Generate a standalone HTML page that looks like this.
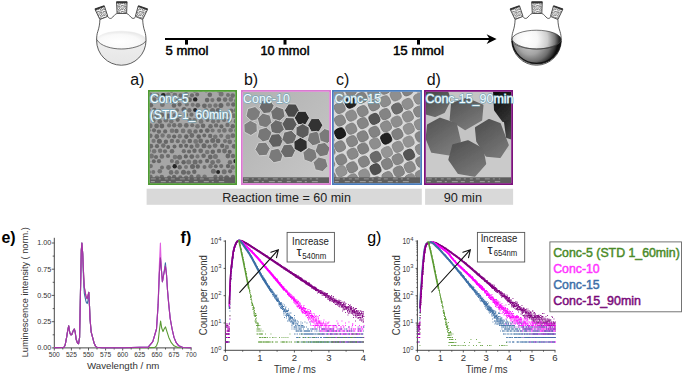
<!DOCTYPE html><html><head><meta charset="utf-8"><style>html,body{margin:0;padding:0;background:#fff;overflow:hidden}svg{display:block;font-family:"Liberation Sans", sans-serif}</style></head><body>
<svg width="685" height="376" viewBox="0 0 685 376">
<defs>
<pattern id="jt" width="6" height="6" patternUnits="userSpaceOnUse"><rect x='0' y='0' width='1' height='1' fill='#c4c4c4'/><rect x='1' y='0' width='1' height='1' fill='#aaaaaa'/><rect x='2' y='0' width='1' height='1' fill='#e8e8e8'/><rect x='3' y='0' width='1' height='1' fill='#b8b8b8'/><rect x='4' y='0' width='1' height='1' fill='#999999'/><rect x='5' y='0' width='1' height='1' fill='#888888'/><rect x='0' y='1' width='1' height='1' fill='#b8b8b8'/><rect x='1' y='1' width='1' height='1' fill='#d8d8d8'/><rect x='2' y='1' width='1' height='1' fill='#c4c4c4'/><rect x='3' y='1' width='1' height='1' fill='#c4c4c4'/><rect x='4' y='1' width='1' height='1' fill='#b8b8b8'/><rect x='5' y='1' width='1' height='1' fill='#b8b8b8'/><rect x='0' y='2' width='1' height='1' fill='#f0f0f0'/><rect x='1' y='2' width='1' height='1' fill='#aaaaaa'/><rect x='2' y='2' width='1' height='1' fill='#c4c4c4'/><rect x='3' y='2' width='1' height='1' fill='#aaaaaa'/><rect x='4' y='2' width='1' height='1' fill='#f0f0f0'/><rect x='5' y='2' width='1' height='1' fill='#888888'/><rect x='0' y='3' width='1' height='1' fill='#999999'/><rect x='1' y='3' width='1' height='1' fill='#aaaaaa'/><rect x='2' y='3' width='1' height='1' fill='#888888'/><rect x='3' y='3' width='1' height='1' fill='#d8d8d8'/><rect x='4' y='3' width='1' height='1' fill='#888888'/><rect x='5' y='3' width='1' height='1' fill='#d8d8d8'/><rect x='0' y='4' width='1' height='1' fill='#b8b8b8'/><rect x='1' y='4' width='1' height='1' fill='#f0f0f0'/><rect x='2' y='4' width='1' height='1' fill='#f0f0f0'/><rect x='3' y='4' width='1' height='1' fill='#f0f0f0'/><rect x='4' y='4' width='1' height='1' fill='#b8b8b8'/><rect x='5' y='4' width='1' height='1' fill='#aaaaaa'/><rect x='0' y='5' width='1' height='1' fill='#e8e8e8'/><rect x='1' y='5' width='1' height='1' fill='#999999'/><rect x='2' y='5' width='1' height='1' fill='#888888'/><rect x='3' y='5' width='1' height='1' fill='#aaaaaa'/><rect x='4' y='5' width='1' height='1' fill='#b8b8b8'/><rect x='5' y='5' width='1' height='1' fill='#c4c4c4'/></pattern>
<linearGradient id="lqL" x1="0" y1="0" x2="0" y2="1"><stop offset="0" stop-color="#f2f2f2"/><stop offset="1" stop-color="#e6e6e6"/></linearGradient>
<radialGradient id="lsL" cx="0.45" cy="0.6" r="0.6"><stop offset="0" stop-color="#fff"/><stop offset="0.7" stop-color="#f9f9f9"/><stop offset="1" stop-color="#e8e8e8"/></radialGradient>
<radialGradient id="lqD" gradientUnits="userSpaceOnUse" cx="117" cy="42" r="25.5" fx="113" fy="44"><stop offset="0" stop-color="#cacaca"/><stop offset="0.45" stop-color="#a4a4a4"/><stop offset="0.75" stop-color="#6e6e6e"/><stop offset="0.92" stop-color="#333"/><stop offset="1" stop-color="#0e0e0e"/></radialGradient>
<radialGradient id="lsD" gradientUnits="userSpaceOnUse" cx="114" cy="39.5" r="30" fx="111" fy="39"><stop offset="0" stop-color="#fff"/><stop offset="0.35" stop-color="#f6f6f6"/><stop offset="0.65" stop-color="#cdcdcd"/><stop offset="0.87" stop-color="#7a7a7a"/><stop offset="1" stop-color="#2a2a2a"/></radialGradient>
</defs>
<g transform="translate(0 0)">
<path d="M96.7 40 A24.6 24.6 0 0 0 145.9 40 A24.6 9.2 0 0 0 96.7 40Z" fill="url(#lqL)"/>
<ellipse cx="121.3" cy="40" rx="24.3" ry="8.6" fill="url(#lsL)"/>
<path d="M99.9 19.6 C99.8 24 99 28 97.8 31.5 C96.9 34 96.6 37 96.6 40.5 A24.7 24.7 0 0 0 146 40.5 C146 37 145.7 34 144.8 31.5 C143.6 28 142.8 24 142.7 19.6" fill="none" stroke="#333" stroke-width="0.8"/>
<path d="M107.8 16.6 C108.6 18.2 110.2 18.9 111.6 18.1 C113.2 17.1 114.6 14.2 116.9 13.5" fill="none" stroke="#333" stroke-width="0.8"/>
<path d="M126.7 13.5 C129 14.2 130.4 17.1 132 18.1 C133.4 18.9 135 18.2 135.6 16.6" fill="none" stroke="#333" stroke-width="0.8"/>
<path d="M96.8 39.6 C100 46 112 49 121.3 49 C131 49 143 46 145.9 40.8" fill="none" stroke="#444" stroke-width="0.75"/>
<path d="M95 9.4 L104.4 6 L107.8 16.4 L99.9 19.5Z" fill="url(#jt)" stroke="#444" stroke-width="0.9"/>
<path d="M116.5 1.8 L127.1 1.8 L126.6 13.5 L117.1 13.5Z" fill="url(#jt)" stroke="#444" stroke-width="0.9"/>
<path d="M138.2 6 L147.6 9.4 L142.7 19.5 L135.3 16.4Z" fill="url(#jt)" stroke="#444" stroke-width="0.9"/>
<path d="M95 9.4 L104.4 6" stroke="#333" stroke-width="1.8"/>
<path d="M116.5 2.4 L127.1 2.4" stroke="#333" stroke-width="1.8"/>
<path d="M138.2 6 L147.6 9.4" stroke="#333" stroke-width="1.8"/>
</g>
<g transform="translate(415.2 0)">
<path d="M96.7 40 A24.6 24.6 0 0 0 145.9 40 A24.6 9.2 0 0 0 96.7 40Z" fill="url(#lqD)"/>
<ellipse cx="121.3" cy="39.6" rx="24.6" ry="9.4" fill="url(#lsD)" stroke="#222" stroke-width="0.6"/>
<path d="M99.9 19.6 C99.8 24 99 28 97.8 31.5 C96.9 34 96.6 37 96.6 40.5 A24.7 24.7 0 0 0 146 40.5 C146 37 145.7 34 144.8 31.5 C143.6 28 142.8 24 142.7 19.6" fill="none" stroke="#333" stroke-width="0.8"/>
<path d="M107.8 16.6 C108.6 18.2 110.2 18.9 111.6 18.1 C113.2 17.1 114.6 14.2 116.9 13.5" fill="none" stroke="#333" stroke-width="0.8"/>
<path d="M126.7 13.5 C129 14.2 130.4 17.1 132 18.1 C133.4 18.9 135 18.2 135.6 16.6" fill="none" stroke="#333" stroke-width="0.8"/>
<path d="M96.9 41 A24.5 24.5 0 0 0 145.7 41" fill="none" stroke="#111" stroke-width="1.3"/>
<path d="M96.8 39.6 C100 46 112 49 121.3 49 C131 49 143 46 145.9 40.8" fill="none" stroke="#444" stroke-width="0.75"/>
<path d="M95 9.4 L104.4 6 L107.8 16.4 L99.9 19.5Z" fill="url(#jt)" stroke="#444" stroke-width="0.9"/>
<path d="M116.5 1.8 L127.1 1.8 L126.6 13.5 L117.1 13.5Z" fill="url(#jt)" stroke="#444" stroke-width="0.9"/>
<path d="M138.2 6 L147.6 9.4 L142.7 19.5 L135.3 16.4Z" fill="url(#jt)" stroke="#444" stroke-width="0.9"/>
<path d="M95 9.4 L104.4 6" stroke="#333" stroke-width="1.8"/>
<path d="M116.5 2.4 L127.1 2.4" stroke="#333" stroke-width="1.8"/>
<path d="M138.2 6 L147.6 9.4" stroke="#333" stroke-width="1.8"/>
</g>
<path d="M165 39 L490 39" stroke="#000" stroke-width="1.9"/>
<path d="M496.6 39.1 L486.6 34.3 L489.6 39.1 L486.6 44 Z" fill="#000"/>
<rect x="185" y="39" width="3" height="5.6" fill="#000"/>
<rect x="283.5" y="39" width="3" height="5.6" fill="#000"/>
<rect x="417" y="39" width="3" height="5.6" fill="#000"/>
<text x="165.6" y="55" font-size="12.2" fill="#000" stroke="#000" stroke-width="0.45" textLength="42.8" lengthAdjust="spacingAndGlyphs" >5 mmol</text>
<text x="260.4" y="55" font-size="12.2" fill="#000" stroke="#000" stroke-width="0.45" textLength="49.1" lengthAdjust="spacingAndGlyphs" >10 mmol</text>
<text x="392.9" y="55" font-size="12.2" fill="#000" stroke="#000" stroke-width="0.45" textLength="51" lengthAdjust="spacingAndGlyphs" >15 mmol</text>
<filter id="soft" x="-5%" y="-5%" width="110%" height="110%"><feGaussianBlur stdDeviation="0.45"/></filter>
<filter id="soft2" x="-5%" y="-5%" width="110%" height="110%"><feGaussianBlur stdDeviation="0.7"/></filter>
<clipPath id="clp0"><rect x="149.8" y="91.8" width="85.4" height="91.4"/></clipPath>
<g clip-path="url(#clp0)">
<rect x="149.8" y="91.8" width="85.4" height="91.4" fill="#a6a6a6"/>
<circle cx="147.1" cy="90.2" r="2.4" fill="#727272"/><circle cx="153" cy="89.7" r="2.3" fill="#747474"/><circle cx="159.4" cy="89.1" r="2.5" fill="#707070"/><circle cx="166.2" cy="89.4" r="2.1" fill="#666666"/><circle cx="171.5" cy="90.5" r="2.3" fill="#6c6c6c"/><circle cx="176.8" cy="89.2" r="2.3" fill="#6b6b6b"/><circle cx="188.6" cy="89.2" r="2.3" fill="#656565"/><circle cx="194.9" cy="90.2" r="2.5" fill="#757575"/><circle cx="200.8" cy="89.7" r="2.3" fill="#252525"/><circle cx="206.1" cy="90.1" r="2.3" fill="#737373"/><circle cx="212.9" cy="89.9" r="2.1" fill="#737373"/><circle cx="218.6" cy="90.3" r="2.2" fill="#6c6c6c"/><circle cx="225" cy="89.6" r="2.3" fill="#737373"/><circle cx="229.9" cy="89.7" r="2.4" fill="#666666"/><circle cx="236.2" cy="90.2" r="2.3" fill="#6a6a6a"/><circle cx="150.3" cy="94.7" r="2.1" fill="#737373"/><circle cx="157.2" cy="95.4" r="2.2" fill="#656565"/><circle cx="163.3" cy="95.3" r="2.4" fill="#252525"/><circle cx="168.3" cy="94.9" r="2.3" fill="#747474"/><circle cx="174.8" cy="95.1" r="2.4" fill="#727272"/><circle cx="180.7" cy="95.5" r="2.3" fill="#6d6d6d"/><circle cx="186.1" cy="94.6" r="2.5" fill="#757575"/><circle cx="192" cy="95.3" r="2.1" fill="#6c6c6c"/><circle cx="197.2" cy="94.6" r="2" fill="#6b6b6b"/><circle cx="209.8" cy="94.7" r="2.3" fill="#696969"/><circle cx="221.1" cy="94.1" r="2.5" fill="#747474"/><circle cx="228" cy="95.1" r="2" fill="#717171"/><circle cx="232.7" cy="95.6" r="2.3" fill="#6f6f6f"/><circle cx="147.3" cy="100.4" r="2.1" fill="#707070"/><circle cx="154.1" cy="99.5" r="2.2" fill="#6c6c6c"/><circle cx="160.4" cy="99.6" r="2.4" fill="#707070"/><circle cx="165.4" cy="99.7" r="2.5" fill="#696969"/><circle cx="171.6" cy="100.5" r="2.4" fill="#252525"/><circle cx="177.7" cy="100" r="2.2" fill="#747474"/><circle cx="183.9" cy="99.9" r="2" fill="#6a6a6a"/><circle cx="189.5" cy="99.7" r="2.4" fill="#646464"/><circle cx="195.2" cy="99.4" r="2.2" fill="#252525"/><circle cx="207.1" cy="100.1" r="2.3" fill="#676767"/><circle cx="212.4" cy="100.1" r="2.1" fill="#757575"/><circle cx="218.9" cy="99.5" r="2.3" fill="#646464"/><circle cx="225.1" cy="99.6" r="2.3" fill="#6f6f6f"/><circle cx="230.8" cy="99.4" r="2.3" fill="#747474"/><circle cx="236" cy="100.8" r="2" fill="#737373"/><circle cx="150.9" cy="105.3" r="2.3" fill="#686868"/><circle cx="162.4" cy="104.7" r="2.4" fill="#727272"/><circle cx="174" cy="105.5" r="2.3" fill="#686868"/><circle cx="179.6" cy="104.6" r="2.1" fill="#686868"/><circle cx="186.9" cy="104.5" r="2.1" fill="#757575"/><circle cx="192.7" cy="104.8" r="2.1" fill="#757575"/><circle cx="197.8" cy="105.3" r="2.4" fill="#6a6a6a"/><circle cx="204.4" cy="105.8" r="2.4" fill="#686868"/><circle cx="209.8" cy="105.7" r="2.3" fill="#757575"/><circle cx="215.5" cy="105.5" r="2.2" fill="#727272"/><circle cx="220.9" cy="105.4" r="2.5" fill="#646464"/><circle cx="228" cy="104.4" r="2.1" fill="#757575"/><circle cx="233.4" cy="104.5" r="2.3" fill="#686868"/><circle cx="148.5" cy="109.8" r="2.1" fill="#6a6a6a"/><circle cx="154.3" cy="110" r="2.2" fill="#666666"/><circle cx="159.2" cy="110.8" r="2.1" fill="#737373"/><circle cx="171.2" cy="110.9" r="2" fill="#727272"/><circle cx="176.9" cy="110.3" r="2.1" fill="#727272"/><circle cx="184" cy="109.6" r="2.5" fill="#666666"/><circle cx="189.3" cy="110.3" r="2.2" fill="#6f6f6f"/><circle cx="195.1" cy="110.1" r="2" fill="#252525"/><circle cx="206.1" cy="110.5" r="2.2" fill="#6f6f6f"/><circle cx="212.5" cy="110.4" r="2.5" fill="#6c6c6c"/><circle cx="218.1" cy="110.3" r="2.3" fill="#666666"/><circle cx="231.1" cy="111.1" r="2.5" fill="#6c6c6c"/><circle cx="236.2" cy="110.2" r="2.4" fill="#717171"/><circle cx="151.4" cy="116" r="2.1" fill="#696969"/><circle cx="156.6" cy="115.7" r="2.3" fill="#6f6f6f"/><circle cx="161.9" cy="115" r="2.3" fill="#6b6b6b"/><circle cx="168.3" cy="116.1" r="2.5" fill="#666666"/><circle cx="174.7" cy="115.5" r="2.2" fill="#737373"/><circle cx="179.7" cy="115.9" r="2.1" fill="#717171"/><circle cx="186" cy="114.9" r="2.2" fill="#707070"/><circle cx="191.5" cy="114.7" r="2.1" fill="#6d6d6d"/><circle cx="198" cy="116.2" r="2.4" fill="#676767"/><circle cx="203.5" cy="115.6" r="2.3" fill="#717171"/><circle cx="215.4" cy="114.8" r="2.5" fill="#727272"/><circle cx="220.9" cy="115.6" r="2.5" fill="#696969"/><circle cx="227.4" cy="115.4" r="2.2" fill="#747474"/><circle cx="233.8" cy="115.7" r="2.4" fill="#727272"/><circle cx="147.2" cy="120.8" r="2" fill="#646464"/><circle cx="153.4" cy="120.6" r="2.2" fill="#707070"/><circle cx="159.7" cy="121.4" r="2.3" fill="#6e6e6e"/><circle cx="165.9" cy="120.2" r="2.4" fill="#727272"/><circle cx="171.3" cy="121.2" r="2.2" fill="#757575"/><circle cx="177.7" cy="119.8" r="2.1" fill="#686868"/><circle cx="189.6" cy="119.9" r="2.1" fill="#6f6f6f"/><circle cx="194.6" cy="120.4" r="2.3" fill="#747474"/><circle cx="201" cy="121.4" r="2.4" fill="#757575"/><circle cx="207.5" cy="119.9" r="2" fill="#6b6b6b"/><circle cx="213.2" cy="121.2" r="2.2" fill="#727272"/><circle cx="218.3" cy="121.1" r="2" fill="#747474"/><circle cx="224.1" cy="119.9" r="2.1" fill="#717171"/><circle cx="229.7" cy="120.5" r="2.1" fill="#727272"/><circle cx="236.1" cy="121.2" r="2.4" fill="#6d6d6d"/><circle cx="150.1" cy="125.8" r="2.5" fill="#6e6e6e"/><circle cx="156.6" cy="125.9" r="2.4" fill="#6a6a6a"/><circle cx="161.9" cy="126" r="2.4" fill="#676767"/><circle cx="169.1" cy="125.4" r="2.1" fill="#727272"/><circle cx="174.2" cy="125.2" r="2.2" fill="#6d6d6d"/><circle cx="179.9" cy="125.3" r="2.4" fill="#6e6e6e"/><circle cx="186.3" cy="125.4" r="2.4" fill="#6c6c6c"/><circle cx="192.2" cy="125.2" r="2" fill="#707070"/><circle cx="197.5" cy="126.2" r="2.3" fill="#747474"/><circle cx="203.1" cy="125.8" r="2.3" fill="#686868"/><circle cx="210.5" cy="126.3" r="2.3" fill="#6b6b6b"/><circle cx="216.1" cy="125.4" r="2.2" fill="#6c6c6c"/><circle cx="221.4" cy="126.4" r="2.1" fill="#666666"/><circle cx="227.5" cy="124.9" r="2.2" fill="#6f6f6f"/><circle cx="232.8" cy="126.2" r="2.3" fill="#686868"/><circle cx="148.4" cy="130.3" r="2.3" fill="#717171"/><circle cx="154" cy="130.3" r="2.1" fill="#6b6b6b"/><circle cx="158.9" cy="131.6" r="2.2" fill="#6a6a6a"/><circle cx="165.2" cy="131.4" r="2.1" fill="#686868"/><circle cx="172" cy="130.8" r="2.3" fill="#747474"/><circle cx="176.5" cy="131" r="2.2" fill="#6a6a6a"/><circle cx="183.1" cy="130.9" r="2.4" fill="#747474"/><circle cx="189.6" cy="131.5" r="2.4" fill="#727272"/><circle cx="195.5" cy="131.4" r="2.2" fill="#6d6d6d"/><circle cx="201" cy="131.1" r="2" fill="#646464"/><circle cx="207.3" cy="130.6" r="2.4" fill="#676767"/><circle cx="212.6" cy="130.5" r="2.1" fill="#747474"/><circle cx="219.2" cy="130.8" r="2.1" fill="#757575"/><circle cx="224.4" cy="130.4" r="2.3" fill="#727272"/><circle cx="230.6" cy="130.2" r="2.3" fill="#747474"/><circle cx="236.6" cy="130.4" r="2.5" fill="#737373"/><circle cx="150.3" cy="135.7" r="2.3" fill="#6c6c6c"/><circle cx="156.8" cy="136.5" r="2.4" fill="#6a6a6a"/><circle cx="162.6" cy="135.5" r="2.2" fill="#757575"/><circle cx="168.8" cy="136.2" r="2.2" fill="#747474"/><circle cx="174.2" cy="136.5" r="2.1" fill="#646464"/><circle cx="179.8" cy="136.3" r="2.2" fill="#737373"/><circle cx="186.3" cy="136.6" r="2.3" fill="#646464"/><circle cx="191.9" cy="135.5" r="2.4" fill="#6b6b6b"/><circle cx="198.7" cy="136.5" r="2.3" fill="#656565"/><circle cx="204.3" cy="135.6" r="2" fill="#676767"/><circle cx="210.2" cy="135.9" r="2.2" fill="#696969"/><circle cx="215.3" cy="136.7" r="2.3" fill="#737373"/><circle cx="221.2" cy="135.8" r="2.1" fill="#737373"/><circle cx="228" cy="136.7" r="2.5" fill="#747474"/><circle cx="232.9" cy="135.7" r="2.4" fill="#6d6d6d"/><circle cx="153.6" cy="140.9" r="2.1" fill="#757575"/><circle cx="159.4" cy="141.3" r="2.5" fill="#666666"/><circle cx="165.9" cy="141.8" r="2.2" fill="#666666"/><circle cx="171.9" cy="140.9" r="2.2" fill="#6c6c6c"/><circle cx="177.8" cy="141.2" r="2.1" fill="#6e6e6e"/><circle cx="183.7" cy="141.5" r="2.2" fill="#747474"/><circle cx="189.8" cy="141" r="2.3" fill="#686868"/><circle cx="195.7" cy="141.4" r="2.4" fill="#757575"/><circle cx="200.7" cy="141" r="2.4" fill="#6a6a6a"/><circle cx="207.1" cy="141.5" r="2.1" fill="#696969"/><circle cx="212.7" cy="140.5" r="2.5" fill="#696969"/><circle cx="218.1" cy="140.9" r="2.4" fill="#686868"/><circle cx="225" cy="141.1" r="2.1" fill="#717171"/><circle cx="229.7" cy="141.8" r="2.4" fill="#6e6e6e"/><circle cx="236.7" cy="141" r="2.1" fill="#252525"/><circle cx="150.8" cy="146.2" r="2.4" fill="#696969"/><circle cx="157" cy="146.2" r="2.1" fill="#686868"/><circle cx="163.3" cy="145.6" r="2.3" fill="#6e6e6e"/><circle cx="168.2" cy="147" r="2" fill="#656565"/><circle cx="174.5" cy="146.5" r="2" fill="#676767"/><circle cx="180.8" cy="145.9" r="2.1" fill="#666666"/><circle cx="186.2" cy="145.8" r="2.1" fill="#656565"/><circle cx="191.5" cy="146.7" r="2.1" fill="#676767"/><circle cx="197.3" cy="145.7" r="2.4" fill="#727272"/><circle cx="204" cy="145.8" r="2.5" fill="#676767"/><circle cx="209.5" cy="146.6" r="2.1" fill="#6b6b6b"/><circle cx="215.1" cy="145.6" r="2.4" fill="#6f6f6f"/><circle cx="222.2" cy="145.7" r="2.2" fill="#656565"/><circle cx="226.9" cy="147" r="2.2" fill="#747474"/><circle cx="234.1" cy="146.3" r="2.4" fill="#696969"/><circle cx="148.5" cy="150.6" r="2.4" fill="#757575"/><circle cx="154.1" cy="151.2" r="2.3" fill="#747474"/><circle cx="160.1" cy="150.8" r="2.2" fill="#717171"/><circle cx="165" cy="151.3" r="2.1" fill="#6d6d6d"/><circle cx="172" cy="151.3" r="2.3" fill="#6a6a6a"/><circle cx="183.8" cy="151.2" r="2.1" fill="#6d6d6d"/><circle cx="189.1" cy="151.5" r="2.1" fill="#6a6a6a"/><circle cx="194.5" cy="150.8" r="2.2" fill="#686868"/><circle cx="200.7" cy="150.8" r="2.4" fill="#6c6c6c"/><circle cx="207.2" cy="152" r="2.3" fill="#757575"/><circle cx="212.8" cy="151.7" r="2.3" fill="#666666"/><circle cx="219" cy="150.9" r="2.2" fill="#6b6b6b"/><circle cx="224.5" cy="151" r="2.4" fill="#6b6b6b"/><circle cx="229.7" cy="151.8" r="2.1" fill="#646464"/><circle cx="151.4" cy="156" r="2.5" fill="#737373"/><circle cx="156" cy="157" r="2.1" fill="#6a6a6a"/><circle cx="161.9" cy="156.4" r="2.3" fill="#6e6e6e"/><circle cx="168" cy="156" r="2.1" fill="#6c6c6c"/><circle cx="175" cy="157.1" r="2.3" fill="#757575"/><circle cx="179.6" cy="157.2" r="2.5" fill="#6d6d6d"/><circle cx="185.8" cy="156.4" r="2.1" fill="#646464"/><circle cx="191.8" cy="156.6" r="2.4" fill="#686868"/><circle cx="197.5" cy="156.4" r="2.1" fill="#757575"/><circle cx="203.6" cy="155.8" r="2.3" fill="#6a6a6a"/><circle cx="210.3" cy="157" r="2.4" fill="#676767"/><circle cx="215.4" cy="156.4" r="2.5" fill="#727272"/><circle cx="227.9" cy="156" r="2.4" fill="#676767"/><circle cx="233" cy="156" r="2.2" fill="#6b6b6b"/><circle cx="148.1" cy="161.6" r="2.1" fill="#686868"/><circle cx="153.8" cy="161.3" r="2" fill="#666666"/><circle cx="159" cy="161.2" r="2.1" fill="#6a6a6a"/><circle cx="171.9" cy="161" r="2.1" fill="#717171"/><circle cx="177.1" cy="162.3" r="2.2" fill="#6a6a6a"/><circle cx="183.6" cy="162.3" r="2.2" fill="#646464"/><circle cx="188.7" cy="162" r="2.5" fill="#747474"/><circle cx="195.1" cy="161.9" r="2.5" fill="#6b6b6b"/><circle cx="200.4" cy="161.7" r="2.1" fill="#6a6a6a"/><circle cx="207.1" cy="160.9" r="2.1" fill="#666666"/><circle cx="212.6" cy="162.5" r="2.4" fill="#6f6f6f"/><circle cx="218.3" cy="161.2" r="2.3" fill="#737373"/><circle cx="230" cy="162.2" r="2.3" fill="#6d6d6d"/><circle cx="235.5" cy="161.1" r="2.2" fill="#252525"/><circle cx="150.8" cy="166.1" r="2.1" fill="#6f6f6f"/><circle cx="162" cy="167.5" r="2" fill="#6e6e6e"/><circle cx="168.5" cy="167.5" r="2.4" fill="#6e6e6e"/><circle cx="174.7" cy="166.2" r="2.2" fill="#252525"/><circle cx="179.7" cy="167.2" r="2.2" fill="#676767"/><circle cx="186" cy="167.1" r="2" fill="#757575"/><circle cx="192.5" cy="166.5" r="2.5" fill="#666666"/><circle cx="197.8" cy="166.5" r="2.2" fill="#656565"/><circle cx="204.5" cy="166.9" r="2" fill="#6e6e6e"/><circle cx="210.5" cy="166.2" r="2.2" fill="#717171"/><circle cx="215.8" cy="166.3" r="2" fill="#676767"/><circle cx="221.2" cy="166.1" r="2.1" fill="#6c6c6c"/><circle cx="228" cy="166.1" r="2.2" fill="#646464"/><circle cx="232.7" cy="167.4" r="2.3" fill="#757575"/><circle cx="148.4" cy="172" r="2.4" fill="#6a6a6a"/><circle cx="153.3" cy="171.9" r="2" fill="#717171"/><circle cx="159.8" cy="171.2" r="2.3" fill="#717171"/><circle cx="171.1" cy="172.4" r="2.3" fill="#6d6d6d"/><circle cx="176.7" cy="172.2" r="2.2" fill="#717171"/><circle cx="183.5" cy="172.2" r="2.5" fill="#676767"/><circle cx="188.5" cy="172.6" r="2.2" fill="#6a6a6a"/><circle cx="194.3" cy="171.8" r="2.2" fill="#676767"/><circle cx="213.4" cy="171.3" r="2.5" fill="#6c6c6c"/><circle cx="218.1" cy="172" r="2" fill="#252525"/><circle cx="224.2" cy="171.8" r="2.5" fill="#707070"/><circle cx="230.1" cy="171.3" r="2.1" fill="#676767"/><circle cx="237" cy="171.5" r="2.2" fill="#646464"/><circle cx="150.5" cy="176.7" r="2.2" fill="#6e6e6e"/><circle cx="156.9" cy="177.8" r="2.3" fill="#757575"/><circle cx="161.8" cy="177.1" r="2.3" fill="#6c6c6c"/><circle cx="169.1" cy="177.5" r="2.1" fill="#686868"/><circle cx="174.1" cy="177" r="2.2" fill="#676767"/><circle cx="180.3" cy="177.4" r="2.1" fill="#6d6d6d"/><circle cx="186.1" cy="177.8" r="2.2" fill="#6e6e6e"/><circle cx="191.5" cy="176.4" r="2" fill="#6a6a6a"/><circle cx="198.4" cy="176.6" r="2.3" fill="#707070"/><circle cx="204.6" cy="176.6" r="2.2" fill="#747474"/><circle cx="215.4" cy="176.8" r="2.1" fill="#6d6d6d"/><circle cx="221" cy="177.2" r="2.3" fill="#6d6d6d"/><circle cx="226.7" cy="177.8" r="2.5" fill="#646464"/><circle cx="233" cy="176.9" r="2.2" fill="#676767"/><circle cx="147.2" cy="181.6" r="2.2" fill="#6f6f6f"/><circle cx="153.4" cy="182.4" r="2.4" fill="#757575"/><circle cx="158.8" cy="181.7" r="2.5" fill="#6e6e6e"/><circle cx="164.8" cy="182" r="2.3" fill="#717171"/><circle cx="171.6" cy="182.7" r="2.2" fill="#6e6e6e"/><circle cx="177.8" cy="181.8" r="2.3" fill="#252525"/><circle cx="182.8" cy="182.4" r="2.1" fill="#676767"/><circle cx="189.1" cy="182.2" r="2.4" fill="#6d6d6d"/><circle cx="195.7" cy="182.4" r="2.3" fill="#696969"/><circle cx="200.7" cy="181.6" r="2.3" fill="#6e6e6e"/><circle cx="207" cy="182" r="2.3" fill="#6e6e6e"/><circle cx="212.8" cy="182.1" r="2.5" fill="#717171"/><circle cx="218.2" cy="182.5" r="2.4" fill="#747474"/><circle cx="230.1" cy="182.8" r="2.3" fill="#696969"/><circle cx="236.5" cy="182.6" r="2.4" fill="#707070"/>
<rect x="149.8" y="177.3" width="85.4" height="8" fill="#5e5e5e"/>
<path d="M150.8 178.9 h73.4" stroke="#a8a8a8" stroke-width="0.8" stroke-dasharray="5 3 2 4 3 3 4 5"/>
<path d="M150.8 181.7 h73.4" stroke="#b0b0b0" stroke-width="0.9" stroke-dasharray="4 6 5 3 2 5 6 3 4 5"/>
</g>
<rect x="148.9" y="90.9" width="87.2" height="93.2" fill="none" stroke="#4f9a34" stroke-width="1.8"/>
<clipPath id="clp1"><rect x="242.8" y="91.8" width="86.4" height="91.4"/></clipPath>
<g clip-path="url(#clp1)">
<linearGradient id="bgb" x1="0" y1="0" x2="1" y2="1"><stop offset="0" stop-color="#b0b0b0"/><stop offset="1" stop-color="#c8c8c8"/></linearGradient>
<rect x="242.8" y="91.8" width="86.4" height="91.4" fill="url(#bgb)"/>
<g filter="url(#soft)"><path d="M258.8 119.2 251.5 121.3 246 116 247.8 108.6 255.1 106.5 260.6 111.8Z" fill="#7c7c7c" stroke="#d2d2d2" stroke-width="0.9" stroke-linejoin="round"/><path d="M271.1 112.7 263.6 113.6 259.1 107.5 262.1 100.5 269.6 99.6 274.1 105.7Z" fill="#6a6a6a" stroke="#d2d2d2" stroke-width="0.9" stroke-linejoin="round"/><path d="M285.1 116.3 279.4 121.4 272.2 118.9 270.7 111.5 276.4 106.4 283.6 108.9Z" fill="#707070" stroke="#d2d2d2" stroke-width="0.9" stroke-linejoin="round"/><path d="M299.6 110.9 295.6 117.3 288 117.1 284.4 110.3 288.4 103.9 296 104.1Z" fill="#4a4a4a" stroke="#d2d2d2" stroke-width="0.9" stroke-linejoin="round"/><path d="M309.5 117.9 305.7 124.5 298.1 124.5 294.3 117.9 298.1 111.3 305.7 111.3Z" fill="#2a2a2a" stroke="#d2d2d2" stroke-width="0.9" stroke-linejoin="round"/><path d="M319 131.8 311.4 131.8 307.6 125.2 311.4 118.6 319 118.6 322.8 125.2Z" fill="#303030" stroke="#d2d2d2" stroke-width="0.9" stroke-linejoin="round"/><path d="M271.9 122.5 266.5 127.9 259.2 125.8 257.3 118.5 262.7 113.1 270 115.2Z" fill="#7a7a7a" stroke="#d2d2d2" stroke-width="0.9" stroke-linejoin="round"/><path d="M257.3 131.4 250.9 135.5 244.2 132 243.9 124.4 250.3 120.3 257 123.8Z" fill="#808080" stroke="#d2d2d2" stroke-width="0.9" stroke-linejoin="round"/><path d="M284.4 129.6 278.7 134.7 271.5 132.2 270 124.8 275.7 119.7 282.9 122.2Z" fill="#6a6a6a" stroke="#d2d2d2" stroke-width="0.9" stroke-linejoin="round"/><path d="M297.1 124.5 293 130.9 285.4 130.6 281.9 123.9 286 117.5 293.6 117.8Z" fill="#5a5a5a" stroke="#d2d2d2" stroke-width="0.9" stroke-linejoin="round"/><path d="M270.2 139.8 262.9 142 257.3 136.9 259 129.4 266.3 127.2 271.9 132.3Z" fill="#777777" stroke="#d2d2d2" stroke-width="0.9" stroke-linejoin="round"/><path d="M280.3 146.7 272.7 147.4 268.3 141.2 271.5 134.3 279.1 133.6 283.5 139.8Z" fill="#606060" stroke="#d2d2d2" stroke-width="0.9" stroke-linejoin="round"/><path d="M309.1 135.1 302.5 138.8 296 134.9 296.1 127.3 302.7 123.6 309.2 127.5Z" fill="#5a5a5a" stroke="#d2d2d2" stroke-width="0.9" stroke-linejoin="round"/><path d="M294.6 143 287.2 144.9 281.9 139.5 284 132.2 291.4 130.3 296.7 135.7Z" fill="#6a6a6a" stroke="#d2d2d2" stroke-width="0.9" stroke-linejoin="round"/><path d="M320 143.9 312.6 145.8 307.3 140.4 309.2 133.1 316.6 131.2 321.9 136.6Z" fill="#777777" stroke="#d2d2d2" stroke-width="0.9" stroke-linejoin="round"/><path d="M266.8 155.3 259.2 155.8 255 149.5 258.4 142.7 266 142.2 270.2 148.5Z" fill="#7a7a7a" stroke="#d2d2d2" stroke-width="0.9" stroke-linejoin="round"/><path d="M281.2 161 273.8 162.8 268.5 157.3 270.6 150 278 148.2 283.3 153.7Z" fill="#7a7a7a" stroke="#d2d2d2" stroke-width="0.9" stroke-linejoin="round"/><path d="M292.3 157.3 284.7 157.8 280.4 151.6 283.7 144.7 291.3 144.2 295.6 150.4Z" fill="#6a6a6a" stroke="#d2d2d2" stroke-width="0.9" stroke-linejoin="round"/><path d="M307.3 148.5 300.9 152.6 294.2 149.1 293.9 141.5 300.3 137.4 307 140.9Z" fill="#2e2e2e" stroke="#d2d2d2" stroke-width="0.9" stroke-linejoin="round"/><path d="M317.1 157.6 311.3 162.5 304.2 159.9 302.9 152.4 308.7 147.5 315.8 150.1Z" fill="#7a7a7a" stroke="#d2d2d2" stroke-width="0.9" stroke-linejoin="round"/><path d="M327.6 155.3 320.1 156.8 315.1 151.1 317.6 143.9 325.1 142.4 330.1 148.1Z" fill="#777777" stroke="#d2d2d2" stroke-width="0.9" stroke-linejoin="round"/><path d="M328 166.2 322.7 171.6 315.3 169.8 313.2 162.4 318.5 157 325.9 158.8Z" fill="#7c7c7c" stroke="#d2d2d2" stroke-width="0.9" stroke-linejoin="round"/><path d="M333.2 138.5 327.4 143.5 320.2 140.9 318.8 133.5 324.6 128.5 331.8 131.1Z" fill="#7a7a7a" stroke="#d2d2d2" stroke-width="0.9" stroke-linejoin="round"/></g>
<rect x="242.8" y="177.3" width="86.4" height="8" fill="#5e5e5e"/>
<path d="M243.8 178.9 h74.4" stroke="#a8a8a8" stroke-width="0.8" stroke-dasharray="5 3 2 4 3 3 4 5"/>
<path d="M243.8 181.7 h74.4" stroke="#b0b0b0" stroke-width="0.9" stroke-dasharray="4 6 5 3 2 5 6 3 4 5"/>
</g>
<rect x="241.9" y="90.9" width="88.2" height="93.2" fill="none" stroke="#d97ad0" stroke-width="1.8"/>
<clipPath id="clp2"><rect x="333.8" y="91.8" width="86.4" height="91.4"/></clipPath>
<g clip-path="url(#clp2)">
<rect x="333.8" y="91.8" width="86.4" height="91.4" fill="#d8d8d8"/>
<g filter="url(#soft)"><rect x="321.9" y="83.2" width="10.2" height="10.2" rx="4" fill="#8f8f8f" stroke="#818181" stroke-width="0.8" transform="rotate(-24 327 88.3)"/><rect x="323" y="95.3" width="10.2" height="10.2" rx="4" fill="#959595" stroke="#878787" stroke-width="0.8" transform="rotate(-24 328.1 100.4)"/><rect x="322.5" y="108.1" width="10.2" height="10.2" rx="4" fill="#8b8b8b" stroke="#7d7d7d" stroke-width="0.8" transform="rotate(-24 327.6 113.2)"/><rect x="323" y="120.5" width="10.2" height="10.2" rx="4" fill="#898989" stroke="#7b7b7b" stroke-width="0.8" transform="rotate(-24 328.1 125.6)"/><rect x="323.4" y="133.8" width="10.2" height="10.2" rx="4" fill="#888888" stroke="#7a7a7a" stroke-width="0.8" transform="rotate(-24 328.5 138.9)"/><rect x="324.4" y="146.2" width="10.2" height="10.2" rx="4" fill="#888888" stroke="#7a7a7a" stroke-width="0.8" transform="rotate(-24 329.5 151.3)"/><rect x="324" y="158.5" width="10.2" height="10.2" rx="4" fill="#8c8c8c" stroke="#7e7e7e" stroke-width="0.8" transform="rotate(-24 329.1 163.6)"/><rect x="325.4" y="171.8" width="10.2" height="10.2" rx="4" fill="#8a8a8a" stroke="#7c7c7c" stroke-width="0.8" transform="rotate(-24 330.5 176.9)"/><rect x="325.9" y="184.8" width="10.2" height="10.2" rx="4" fill="#858585" stroke="#777777" stroke-width="0.8" transform="rotate(-24 331 189.9)"/><rect x="333.5" y="90.1" width="10.2" height="10.2" rx="4" fill="#919191" stroke="#838383" stroke-width="0.8" transform="rotate(-24 338.6 95.2)"/><rect x="334.6" y="102.9" width="10.2" height="10.2" rx="4" fill="#888888" stroke="#7a7a7a" stroke-width="0.8" transform="rotate(-24 339.7 108)"/><rect x="334.9" y="115.4" width="10.2" height="10.2" rx="4" fill="#878787" stroke="#797979" stroke-width="0.8" transform="rotate(-24 340 120.5)"/><rect x="335" y="128.2" width="10.2" height="10.2" rx="4" fill="#1c1c1c" stroke="#0e0e0e" stroke-width="0.8" transform="rotate(-24 340.1 133.3)"/><rect x="334.9" y="141.3" width="10.2" height="10.2" rx="4" fill="#868686" stroke="#787878" stroke-width="0.8" transform="rotate(-24 340 146.4)"/><rect x="336.1" y="154.5" width="10.2" height="10.2" rx="4" fill="#838383" stroke="#757575" stroke-width="0.8" transform="rotate(-24 341.2 159.6)"/><rect x="336.2" y="166.1" width="10.2" height="10.2" rx="4" fill="#939393" stroke="#858585" stroke-width="0.8" transform="rotate(-24 341.3 171.2)"/><rect x="336.9" y="179.9" width="10.2" height="10.2" rx="4" fill="#929292" stroke="#848484" stroke-width="0.8" transform="rotate(-24 342 185)"/><rect x="345.6" y="85.5" width="10.2" height="10.2" rx="4" fill="#858585" stroke="#777777" stroke-width="0.8" transform="rotate(-24 350.7 90.6)"/><rect x="345.3" y="97.5" width="10.2" height="10.2" rx="4" fill="#222222" stroke="#141414" stroke-width="0.8" transform="rotate(-24 350.4 102.6)"/><rect x="346.2" y="110.5" width="10.2" height="10.2" rx="4" fill="#8c8c8c" stroke="#7e7e7e" stroke-width="0.8" transform="rotate(-24 351.3 115.6)"/><rect x="346.2" y="123.6" width="10.2" height="10.2" rx="4" fill="#898989" stroke="#7b7b7b" stroke-width="0.8" transform="rotate(-24 351.3 128.7)"/><rect x="346.9" y="136.1" width="10.2" height="10.2" rx="4" fill="#868686" stroke="#787878" stroke-width="0.8" transform="rotate(-24 352 141.2)"/><rect x="347.5" y="148.6" width="10.2" height="10.2" rx="4" fill="#898989" stroke="#7b7b7b" stroke-width="0.8" transform="rotate(-24 352.6 153.7)"/><rect x="347" y="162.2" width="10.2" height="10.2" rx="4" fill="#858585" stroke="#777777" stroke-width="0.8" transform="rotate(-24 352.1 167.3)"/><rect x="347.8" y="174.3" width="10.2" height="10.2" rx="4" fill="#8e8e8e" stroke="#808080" stroke-width="0.8" transform="rotate(-24 352.9 179.4)"/><rect x="355.9" y="80.3" width="10.2" height="10.2" rx="4" fill="#808080" stroke="#727272" stroke-width="0.8" transform="rotate(-24 361 85.4)"/><rect x="356.4" y="92.7" width="10.2" height="10.2" rx="4" fill="#818181" stroke="#737373" stroke-width="0.8" transform="rotate(-24 361.5 97.8)"/><rect x="357.5" y="106" width="10.2" height="10.2" rx="4" fill="#878787" stroke="#797979" stroke-width="0.8" transform="rotate(-24 362.6 111.1)"/><rect x="357.7" y="118" width="10.2" height="10.2" rx="4" fill="#858585" stroke="#777777" stroke-width="0.8" transform="rotate(-24 362.8 123.1)"/><rect x="357.6" y="131.2" width="10.2" height="10.2" rx="4" fill="#838383" stroke="#757575" stroke-width="0.8" transform="rotate(-24 362.7 136.3)"/><rect x="358.1" y="143.4" width="10.2" height="10.2" rx="4" fill="#808080" stroke="#727272" stroke-width="0.8" transform="rotate(-24 363.2 148.5)"/><rect x="358.8" y="156.5" width="10.2" height="10.2" rx="4" fill="#848484" stroke="#767676" stroke-width="0.8" transform="rotate(-24 363.9 161.6)"/><rect x="359.1" y="169.4" width="10.2" height="10.2" rx="4" fill="#919191" stroke="#838383" stroke-width="0.8" transform="rotate(-24 364.2 174.5)"/><rect x="359.5" y="181.8" width="10.2" height="10.2" rx="4" fill="#939393" stroke="#858585" stroke-width="0.8" transform="rotate(-24 364.6 186.9)"/><rect x="368.1" y="88" width="10.2" height="10.2" rx="4" fill="#888888" stroke="#7a7a7a" stroke-width="0.8" transform="rotate(-24 373.2 93.1)"/><rect x="368.8" y="100.2" width="10.2" height="10.2" rx="4" fill="#858585" stroke="#777777" stroke-width="0.8" transform="rotate(-24 373.9 105.3)"/><rect x="369.3" y="113.8" width="10.2" height="10.2" rx="4" fill="#555555" stroke="#474747" stroke-width="0.8" transform="rotate(-24 374.4 118.9)"/><rect x="369.3" y="126.7" width="10.2" height="10.2" rx="4" fill="#838383" stroke="#757575" stroke-width="0.8" transform="rotate(-24 374.4 131.8)"/><rect x="369.9" y="138.4" width="10.2" height="10.2" rx="4" fill="#8e8e8e" stroke="#808080" stroke-width="0.8" transform="rotate(-24 375 143.5)"/><rect x="370.6" y="151.8" width="10.2" height="10.2" rx="4" fill="#6a6a6a" stroke="#5c5c5c" stroke-width="0.8" transform="rotate(-24 375.7 156.9)"/><rect x="370.4" y="164.1" width="10.2" height="10.2" rx="4" fill="#505050" stroke="#424242" stroke-width="0.8" transform="rotate(-24 375.5 169.2)"/><rect x="371.1" y="177.2" width="10.2" height="10.2" rx="4" fill="#8d8d8d" stroke="#7f7f7f" stroke-width="0.8" transform="rotate(-24 376.2 182.3)"/><rect x="379.7" y="83.6" width="10.2" height="10.2" rx="4" fill="#878787" stroke="#797979" stroke-width="0.8" transform="rotate(-24 384.8 88.7)"/><rect x="379.9" y="96.2" width="10.2" height="10.2" rx="4" fill="#8d8d8d" stroke="#7f7f7f" stroke-width="0.8" transform="rotate(-24 385 101.3)"/><rect x="380" y="109" width="10.2" height="10.2" rx="4" fill="#848484" stroke="#767676" stroke-width="0.8" transform="rotate(-24 385.1 114.1)"/><rect x="380.9" y="121.3" width="10.2" height="10.2" rx="4" fill="#8c8c8c" stroke="#7e7e7e" stroke-width="0.8" transform="rotate(-24 386 126.4)"/><rect x="381.1" y="133.5" width="10.2" height="10.2" rx="4" fill="#222222" stroke="#141414" stroke-width="0.8" transform="rotate(-24 386.2 138.6)"/><rect x="381.8" y="147" width="10.2" height="10.2" rx="4" fill="#959595" stroke="#878787" stroke-width="0.8" transform="rotate(-24 386.9 152.1)"/><rect x="381.9" y="158.8" width="10.2" height="10.2" rx="4" fill="#838383" stroke="#757575" stroke-width="0.8" transform="rotate(-24 387 163.9)"/><rect x="382.5" y="172" width="10.2" height="10.2" rx="4" fill="#8b8b8b" stroke="#7d7d7d" stroke-width="0.8" transform="rotate(-24 387.6 177.1)"/><rect x="382.8" y="184.8" width="10.2" height="10.2" rx="4" fill="#8d8d8d" stroke="#7f7f7f" stroke-width="0.8" transform="rotate(-24 387.9 189.9)"/><rect x="390.6" y="90.3" width="10.2" height="10.2" rx="4" fill="#8f8f8f" stroke="#818181" stroke-width="0.8" transform="rotate(-24 395.7 95.4)"/><rect x="392" y="103.4" width="10.2" height="10.2" rx="4" fill="#6a6a6a" stroke="#5c5c5c" stroke-width="0.8" transform="rotate(-24 397.1 108.5)"/><rect x="391.5" y="116.5" width="10.2" height="10.2" rx="4" fill="#8d8d8d" stroke="#7f7f7f" stroke-width="0.8" transform="rotate(-24 396.6 121.6)"/><rect x="392.3" y="129" width="10.2" height="10.2" rx="4" fill="#808080" stroke="#727272" stroke-width="0.8" transform="rotate(-24 397.4 134.1)"/><rect x="392.7" y="141.7" width="10.2" height="10.2" rx="4" fill="#909090" stroke="#828282" stroke-width="0.8" transform="rotate(-24 397.8 146.8)"/><rect x="392.6" y="154.1" width="10.2" height="10.2" rx="4" fill="#878787" stroke="#797979" stroke-width="0.8" transform="rotate(-24 397.7 159.2)"/><rect x="393.7" y="166.4" width="10.2" height="10.2" rx="4" fill="#858585" stroke="#777777" stroke-width="0.8" transform="rotate(-24 398.8 171.5)"/><rect x="394.4" y="180.2" width="10.2" height="10.2" rx="4" fill="#888888" stroke="#7a7a7a" stroke-width="0.8" transform="rotate(-24 399.5 185.3)"/><rect x="402.1" y="85.2" width="10.2" height="10.2" rx="4" fill="#828282" stroke="#747474" stroke-width="0.8" transform="rotate(-24 407.2 90.3)"/><rect x="402.5" y="98.8" width="10.2" height="10.2" rx="4" fill="#8f8f8f" stroke="#818181" stroke-width="0.8" transform="rotate(-24 407.6 103.9)"/><rect x="402.8" y="111.4" width="10.2" height="10.2" rx="4" fill="#8e8e8e" stroke="#808080" stroke-width="0.8" transform="rotate(-24 407.9 116.5)"/><rect x="403.7" y="123.6" width="10.2" height="10.2" rx="4" fill="#929292" stroke="#848484" stroke-width="0.8" transform="rotate(-24 408.8 128.7)"/><rect x="403.5" y="136.5" width="10.2" height="10.2" rx="4" fill="#939393" stroke="#858585" stroke-width="0.8" transform="rotate(-24 408.6 141.6)"/><rect x="404" y="149.6" width="10.2" height="10.2" rx="4" fill="#555555" stroke="#474747" stroke-width="0.8" transform="rotate(-24 409.1 154.7)"/><rect x="404.7" y="162" width="10.2" height="10.2" rx="4" fill="#8a8a8a" stroke="#7c7c7c" stroke-width="0.8" transform="rotate(-24 409.8 167.1)"/><rect x="405.3" y="174.2" width="10.2" height="10.2" rx="4" fill="#8e8e8e" stroke="#808080" stroke-width="0.8" transform="rotate(-24 410.4 179.3)"/><rect x="414.1" y="81.3" width="10.2" height="10.2" rx="4" fill="#838383" stroke="#757575" stroke-width="0.8" transform="rotate(-24 419.2 86.4)"/><rect x="414.1" y="93.5" width="10.2" height="10.2" rx="4" fill="#8f8f8f" stroke="#818181" stroke-width="0.8" transform="rotate(-24 419.2 98.6)"/><rect x="414" y="106.4" width="10.2" height="10.2" rx="4" fill="#878787" stroke="#797979" stroke-width="0.8" transform="rotate(-24 419.1 111.5)"/><rect x="414.8" y="119.2" width="10.2" height="10.2" rx="4" fill="#8f8f8f" stroke="#818181" stroke-width="0.8" transform="rotate(-24 419.9 124.3)"/><rect x="415.6" y="131.4" width="10.2" height="10.2" rx="4" fill="#848484" stroke="#767676" stroke-width="0.8" transform="rotate(-24 420.7 136.5)"/><rect x="415.8" y="143.9" width="10.2" height="10.2" rx="4" fill="#8c8c8c" stroke="#7e7e7e" stroke-width="0.8" transform="rotate(-24 420.9 149)"/><rect x="416.2" y="156.6" width="10.2" height="10.2" rx="4" fill="#868686" stroke="#787878" stroke-width="0.8" transform="rotate(-24 421.3 161.7)"/><rect x="415.9" y="170.2" width="10.2" height="10.2" rx="4" fill="#8b8b8b" stroke="#7d7d7d" stroke-width="0.8" transform="rotate(-24 421 175.3)"/></g>
<rect x="333.8" y="177.3" width="86.4" height="8" fill="#5e5e5e"/>
<path d="M334.8 178.9 h74.4" stroke="#a8a8a8" stroke-width="0.8" stroke-dasharray="5 3 2 4 3 3 4 5"/>
<path d="M334.8 181.7 h74.4" stroke="#b0b0b0" stroke-width="0.9" stroke-dasharray="4 6 5 3 2 5 6 3 4 5"/>
</g>
<rect x="332.9" y="90.9" width="88.2" height="93.2" fill="none" stroke="#4a7cbc" stroke-width="1.8"/>
<clipPath id="clp3"><rect x="425.8" y="91.8" width="85.4" height="91.4"/></clipPath>
<g clip-path="url(#clp3)">
<rect x="425.8" y="91.8" width="85.4" height="91.4" fill="#c4c4c4"/>
<rect x="424" y="150" width="90" height="35" fill="#cacaca"/>
<linearGradient id="dg0" x1="0.2" y1="0" x2="0.8" y2="1"><stop offset="0" stop-color="#484848"/><stop offset="1" stop-color="#707070"/></linearGradient>
<linearGradient id="dg1" x1="0.2" y1="0" x2="0.8" y2="1"><stop offset="0" stop-color="#545454"/><stop offset="1" stop-color="#7c7c7c"/></linearGradient>
<linearGradient id="dg2" x1="0.2" y1="0" x2="0.8" y2="1"><stop offset="0" stop-color="#0e0e0e"/><stop offset="1" stop-color="#363636"/></linearGradient>
<linearGradient id="dg3" x1="0.2" y1="0" x2="0.8" y2="1"><stop offset="0" stop-color="#2a2a2a"/><stop offset="1" stop-color="#525252"/></linearGradient>
<linearGradient id="dg4" x1="0.2" y1="0" x2="0.8" y2="1"><stop offset="0" stop-color="#565656"/><stop offset="1" stop-color="#7e7e7e"/></linearGradient>
<linearGradient id="dg5" x1="0.2" y1="0" x2="0.8" y2="1"><stop offset="0" stop-color="#505050"/><stop offset="1" stop-color="#787878"/></linearGradient>
<linearGradient id="dg6" x1="0.2" y1="0" x2="0.8" y2="1"><stop offset="0" stop-color="#525252"/><stop offset="1" stop-color="#7a7a7a"/></linearGradient>
<g filter="url(#soft2)"><path d="M424 91 447 91 450 100 444 112 435 116 424 113Z" fill="url(#dg0)" stroke="url(#dg0)" stroke-width="2" stroke-linejoin="round"/><path d="M452 104 466.5 98.6 482.5 105.3 481.2 119.9 465.2 129.2 450.6 119.9Z" fill="url(#dg1)" stroke="url(#dg1)" stroke-width="2" stroke-linejoin="round"/><path d="M494 91 513 91 513 122 503 121 495 110Z" fill="url(#dg2)" stroke="url(#dg2)" stroke-width="2" stroke-linejoin="round"/><path d="M505 122 513 120 513 139 507 137Z" fill="url(#dg3)" stroke="url(#dg3)" stroke-width="2" stroke-linejoin="round"/><path d="M428 125.2 440 118.6 455.9 124 459.9 141.2 449.3 154.5 432 151.8 426.6 138.5Z" fill="url(#dg4)" stroke="url(#dg4)" stroke-width="2" stroke-linejoin="round"/><path d="M475.9 127.9 489.1 119.9 499.8 123.9 507.8 145.2 499.8 157.1 486.5 155.8 477.2 141.2Z" fill="url(#dg5)" stroke="url(#dg5)" stroke-width="2" stroke-linejoin="round"/><path d="M453.2 145.2 467.9 141.2 482.5 149.2 485.2 163.8 474.5 175.8 458.6 173.1 449.3 159.8Z" fill="url(#dg6)" stroke="url(#dg6)" stroke-width="2" stroke-linejoin="round"/></g>
<rect x="425.8" y="177.3" width="85.4" height="8" fill="#5e5e5e"/>
<path d="M426.8 178.9 h73.4" stroke="#a8a8a8" stroke-width="0.8" stroke-dasharray="5 3 2 4 3 3 4 5"/>
<path d="M426.8 181.7 h73.4" stroke="#b0b0b0" stroke-width="0.9" stroke-dasharray="4 6 5 3 2 5 6 3 4 5"/>
</g>
<rect x="424.9" y="90.9" width="87.2" height="93.2" fill="none" stroke="#7d117d" stroke-width="1.8"/>
<text x="150" y="103.3" font-size="12.6" fill="#f4fbff" textLength="38.6" lengthAdjust="spacingAndGlyphs" stroke="#79a9bb" stroke-width="1.3" paint-order="stroke" stroke-linejoin="round">Conc-5</text>
<text x="149.8" y="118.6" font-size="12.6" fill="#f4fbff" textLength="82.6" lengthAdjust="spacingAndGlyphs" stroke="#79a9bb" stroke-width="1.3" paint-order="stroke" stroke-linejoin="round">(STD-1_60min)</text>
<text x="243.1" y="103" font-size="12.6" fill="#f4fbff" textLength="46.7" lengthAdjust="spacingAndGlyphs" stroke="#79a9bb" stroke-width="1.3" paint-order="stroke" stroke-linejoin="round">Conc-10</text>
<text x="334.5" y="103" font-size="12.6" fill="#f4fbff" textLength="46.5" lengthAdjust="spacingAndGlyphs" stroke="#79a9bb" stroke-width="1.3" paint-order="stroke" stroke-linejoin="round">Conc-15</text>
<text x="425.5" y="103" font-size="12.6" fill="#f4fbff" textLength="88" lengthAdjust="spacingAndGlyphs" stroke="#79a9bb" stroke-width="1.3" paint-order="stroke" stroke-linejoin="round">Conc-15_90min</text>
<text x="130.2" y="85" font-size="16" fill="#111" >a)</text>
<text x="243.9" y="85" font-size="16" fill="#111" >b)</text>
<text x="335.9" y="85" font-size="16" fill="#111" >c)</text>
<text x="426.7" y="85" font-size="16" fill="#111" >d)</text>
<rect x="146.6" y="188.7" width="275.2" height="16.1" fill="#d9d9d9"/>
<rect x="425.1" y="188.7" width="88" height="16.1" fill="#d9d9d9"/>
<text x="222.2" y="201.8" font-size="12.5" fill="#222" textLength="128.7" lengthAdjust="spacingAndGlyphs" >Reaction time = 60 min</text>
<text x="443.8" y="201.8" font-size="12.5" fill="#222" textLength="38.2" lengthAdjust="spacingAndGlyphs" >90 min</text>
<path d="M54.3 348.3 V237.8 M53.9 347.9 H191.5" stroke="#333" stroke-width="0.9" fill="none"/>
<path d="M54.3 347.9 h-2.6 M54.3 334.8 h-1.6 M54.3 321.7 h-2.6 M54.3 308.6 h-1.6 M54.3 295.4 h-2.6 M54.3 282.3 h-1.6 M54.3 269.2 h-2.6 M54.3 256.1 h-1.6 M54.3 243 h-2.6 M54.3 347.9 v2.6 M62.8 347.9 v1.6 M71.4 347.9 v2.6 M79.9 347.9 v1.6 M88.5 347.9 v2.6 M97 347.9 v1.6 M105.6 347.9 v2.6 M114.2 347.9 v1.6 M122.7 347.9 v2.6 M131.2 347.9 v1.6 M139.8 347.9 v2.6 M148.3 347.9 v1.6 M156.9 347.9 v2.6 M165.5 347.9 v1.6 M174 347.9 v2.6 M182.6 347.9 v1.6 M191.1 347.9 v2.6" stroke="#333" stroke-width="0.8" fill="none"/>
<text x="51.2" y="350.2" font-size="6.6" fill="#333" text-anchor="end" textLength="14" lengthAdjust="spacingAndGlyphs" >0.00</text>
<text x="51.2" y="324" font-size="6.6" fill="#333" text-anchor="end" textLength="14" lengthAdjust="spacingAndGlyphs" >0.25</text>
<text x="51.2" y="297.8" font-size="6.6" fill="#333" text-anchor="end" textLength="14" lengthAdjust="spacingAndGlyphs" >0.50</text>
<text x="51.2" y="271.5" font-size="6.6" fill="#333" text-anchor="end" textLength="14" lengthAdjust="spacingAndGlyphs" >0.75</text>
<text x="51.2" y="245.3" font-size="6.6" fill="#333" text-anchor="end" textLength="14" lengthAdjust="spacingAndGlyphs" >1.00</text>
<text x="54.3" y="356.5" font-size="6.6" fill="#333" text-anchor="middle" textLength="11" lengthAdjust="spacingAndGlyphs" >500</text>
<text x="71.4" y="356.5" font-size="6.6" fill="#333" text-anchor="middle" textLength="11" lengthAdjust="spacingAndGlyphs" >525</text>
<text x="88.5" y="356.5" font-size="6.6" fill="#333" text-anchor="middle" textLength="11" lengthAdjust="spacingAndGlyphs" >550</text>
<text x="105.6" y="356.5" font-size="6.6" fill="#333" text-anchor="middle" textLength="11" lengthAdjust="spacingAndGlyphs" >575</text>
<text x="122.7" y="356.5" font-size="6.6" fill="#333" text-anchor="middle" textLength="11" lengthAdjust="spacingAndGlyphs" >600</text>
<text x="139.8" y="356.5" font-size="6.6" fill="#333" text-anchor="middle" textLength="11" lengthAdjust="spacingAndGlyphs" >625</text>
<text x="156.9" y="356.5" font-size="6.6" fill="#333" text-anchor="middle" textLength="11" lengthAdjust="spacingAndGlyphs" >650</text>
<text x="174" y="356.5" font-size="6.6" fill="#333" text-anchor="middle" textLength="11" lengthAdjust="spacingAndGlyphs" >675</text>
<text x="191.1" y="356.5" font-size="6.6" fill="#333" text-anchor="middle" textLength="11" lengthAdjust="spacingAndGlyphs" >700</text>
<text x="87" y="369" font-size="9.8" fill="#333" textLength="72.4" lengthAdjust="spacingAndGlyphs" >Wavelength / nm</text>
<text transform="translate(28.4 357.3) rotate(-90)" font-size="9.6" fill="#333" textLength="130" lengthAdjust="spacingAndGlyphs">Luminescence intensity ( norm.)</text>
<text x="1.4" y="243.4" font-size="16" fill="#000" font-weight="bold" textLength="14.2" lengthAdjust="spacingAndGlyphs" >e)</text>
<path d="M54.3 347.6 63.9 347.5 65.2 344.8 66.6 337.4 67.6 331.1 68.7 325.9 69.7 332.2 70.7 334.8 71.7 334.8 73.1 331.1 74.3 329 75.2 332.2 76.2 339.5 77.6 343.2 78.6 343.7 79.6 337.4 80.4 295.4 81.3 250.3 81.9 243 82.7 253.5 83.6 274.5 84.3 287.1 85 291.3 85.8 295.4 86.4 297.5 87.2 298.6 88 295.4 88.8 292.3 89.5 305.9 90 318.5 91.2 332.2 92.6 337.4 94 342.7 95.3 345.8 97 347.3 102.2 347.7 148.2 347.7 154.8 347.4 156.5 345.8 158.1 341.6 159.3 331.1 160.6 321 161.7 328 163 331.6 164.1 329 165.5 326.9 166.8 331.1 168.8 337.4 171.3 342.7 174 345.8 178 347.5 191.1 347.8" fill="none" stroke="#5a9a32" stroke-width="1.1" stroke-linejoin="round"/>
<path d="M54.3 347.6 63.9 347.5 65.2 344.8 66.6 337.4 67.6 331.1 68.7 325.9 69.7 332.2 70.7 334.8 71.7 334.8 73.1 331.1 74.3 329 75.2 332.2 76.2 339.5 77.6 343.2 78.6 343.7 79.6 337.4 80.4 295.4 81.3 250.3 81.9 243 82.7 253.5 83.6 281.8 84.3 293.1 85 296.9 85.8 300.7 86.4 302.6 87.2 303.5 88 300.7 88.8 292.3 89.5 305.9 90 318.5 91.2 332.2 92.6 337.4 94 342.7 95.3 345.8 97 347.3 102.2 347.7 122.7 347.8 148.2 347.1 152.8 341.6 156.5 329 158.1 304.9 159.3 274.5 160.4 257.7 161.3 268.2 162.4 281.8 163.7 274.5 165.4 262.9 166.5 274.5 167.5 290.2 168.8 304.9 170.2 318.5 172.1 329 174 337.4 176.2 342.7 178.8 345.8 182.9 347.5 191.1 347.7" fill="none" stroke="#3b6ea5" stroke-width="1.1" stroke-linejoin="round"/>
<path d="M54.3 347.6 63.9 347.5 65.2 344.8 66.6 337.4 67.6 331.1 68.7 325.9 69.7 332.2 70.7 334.8 71.7 334.8 73.1 331.1 74.3 329 75.2 332.2 76.2 339.5 77.6 343.2 78.6 343.7 79.6 337.4 80.4 295.4 81.3 250.3 81.9 243 82.7 253.5 83.6 274.5 84.3 287.1 85 291.3 85.8 295.4 86.4 297.5 87.2 298.6 88 295.4 88.8 292.3 89.5 305.9 90 318.5 91.2 332.2 92.6 337.4 94 342.7 95.3 345.8 97 347.3 102.2 347.7 122.7 347.8 148.2 347.1 152.8 341.6 156.5 329 158.1 304.9 159.3 266.1 160.4 243 161.3 268.2 162.4 281.8 163.7 274.5 165.4 266.1 166.5 274.5 167.5 290.2 168.8 304.9 170.2 318.5 172.1 329 174 337.4 176.2 342.7 178.8 345.8 182.9 347.5 191.1 347.7" fill="none" stroke="#e060e0" stroke-width="1.1" stroke-linejoin="round"/>
<path d="M54.3 347.6 63.9 347.5 65.2 344.8 66.6 337.4 67.6 331.1 68.7 325.9 69.7 332.2 70.7 334.8 71.7 334.8 73.1 331.1 74.3 329 75.2 332.2 76.2 339.5 77.6 343.2 78.6 343.7 79.6 337.4 80.4 295.4 81.3 250.3 81.9 243 82.7 253.5 83.6 274.5 84.3 287.1 85 291.3 85.8 295.4 86.4 297.5 87.2 298.6 88 295.4 88.8 292.3 89.5 305.9 90 318.5 91.2 332.2 92.6 337.4 94 342.7 95.3 345.8 97 347.3 102.2 347.7 122.7 347.8 148.2 347.1 152.8 341.6 156.5 329 158.1 304.9 159.3 274.5 160.4 257.7 161.3 268.2 162.4 281.8 163.7 274.5 165.4 266.1 166.5 274.5 167.5 290.2 168.8 304.9 170.2 318.5 172.1 329 174 337.4 176.2 342.7 178.8 345.8 182.9 347.5 191.1 347.7" fill="none" stroke="#9a2a9a" stroke-width="1.1" stroke-linejoin="round" opacity="0.85"/>
<path d="M225.4 350.7 V240.3 M225 350.3 H363.8" stroke="#333" stroke-width="0.9" fill="none"/>
<path d="M225.4 350.3 h-1.8 M225.4 323 h-1.8 M225.4 295.7 h-1.8 M225.4 268.4 h-1.8 M225.4 241.1 h-1.8 M225.4 350.3 v2.2 M242.7 350.3 v1.4 M259.9 350.3 v2.2 M277.1 350.3 v1.4 M294.4 350.3 v2.2 M311.6 350.3 v1.4 M328.9 350.3 v2.2 M346.1 350.3 v1.4 M363.4 350.3 v2.2" stroke="#333" stroke-width="0.8" fill="none"/>
<text x="218" y="353.4" font-size="8.2" fill="#3a3a3a" text-anchor="end" textLength="7.5" lengthAdjust="spacingAndGlyphs" >10</text>
<text x="218.3" y="349.8" font-size="5.8" fill="#3a3a3a" >0</text>
<text x="218" y="326.1" font-size="8.2" fill="#3a3a3a" text-anchor="end" textLength="7.5" lengthAdjust="spacingAndGlyphs" >10</text>
<text x="218.3" y="322.5" font-size="5.8" fill="#3a3a3a" >1</text>
<text x="218" y="298.8" font-size="8.2" fill="#3a3a3a" text-anchor="end" textLength="7.5" lengthAdjust="spacingAndGlyphs" >10</text>
<text x="218.3" y="295.2" font-size="5.8" fill="#3a3a3a" >2</text>
<text x="218" y="271.5" font-size="8.2" fill="#3a3a3a" text-anchor="end" textLength="7.5" lengthAdjust="spacingAndGlyphs" >10</text>
<text x="218.3" y="267.9" font-size="5.8" fill="#3a3a3a" >3</text>
<text x="218" y="244.2" font-size="8.2" fill="#3a3a3a" text-anchor="end" textLength="7.5" lengthAdjust="spacingAndGlyphs" >10</text>
<text x="218.3" y="240.6" font-size="5.8" fill="#3a3a3a" >4</text>
<text x="225.4" y="360.6" font-size="9.6" fill="#333" text-anchor="middle" >0</text>
<text x="259.9" y="360.6" font-size="9.6" fill="#333" text-anchor="middle" >1</text>
<text x="294.4" y="360.6" font-size="9.6" fill="#333" text-anchor="middle" >2</text>
<text x="328.9" y="360.6" font-size="9.6" fill="#333" text-anchor="middle" >3</text>
<text x="363.4" y="360.6" font-size="9.6" fill="#333" text-anchor="middle" >4</text>
<text x="294.9" y="373" font-size="10" fill="#333" text-anchor="middle" textLength="41.7" lengthAdjust="spacingAndGlyphs" >Time / ms</text>
<text transform="translate(206.8 335.2) rotate(-90)" font-size="10.2" fill="#333" textLength="80" lengthAdjust="spacingAndGlyphs">Counts per second</text>
<text x="180.6" y="243.3" font-size="16" fill="#000" font-weight="bold" >f)</text>
<path d="M225.5 342h.9M226.5 342h.9M227 342h.9M228 342h.9M228.5 337.5h.9M228.5 342h.9M229 329h.9M229 337.5h.9M229 342h.9M229.5 294.5h.9M229.5 295h.9M229.5 302h.9M229.5 304h.9M229.5 308h.9M229.5 315.5h.9M230 282h.9M230 283.5h.9M230 287.5h.9M230 288.5h.9M230 291h.9M230.5 271.5h.9M230.5 272.5h.9M230.5 275.5h.9M230.5 278.5h.9M231 267.5h.9M231 269h.9M231 269.5h.9M231 271h.9M231 271.5h.9M231.5 263h.9M231.5 263.5h.9M231.5 264h.9M231.5 265.5h.9M231.5 266.5h.9M231.5 267h.9M232 258.5h.9M232 260h.9M232 261h.9M232 261.5h.9M232 262.5h.9M232.5 255h.9M232.5 256h.9M232.5 256.5h.9M232.5 257h.9M232.5 257.5h.9M232.5 258.5h.9M233 251.5h.9M233 252.5h.9M233 253h.9M233 253.5h.9M233 254.5h.9M233.5 249.5h.9M233.5 250h.9M233.5 250.5h.9M233.5 251h.9M234 247.5h.9M234 248h.9M234 248.5h.9M234 249h.9M234.5 245.5h.9M234.5 246h.9M234.5 246.5h.9M234.5 247h.9M234.5 247.5h.9M235 244.5h.9M235 245h.9M235 245.5h.9M235.5 243.5h.9M235.5 244h.9M235.5 244.5h.9M235.5 245h.9M236 243h.9M236 243.5h.9M236.5 242h.9M236.5 242.5h.9M237 241h.9M237 241.5h.9M237 242h.9M237.5 241h.9M238 240.5h.9M238 241h.9" stroke="#5a9a32" stroke-width="0.9" fill="none"/>
<path d="M229.4 307.3 229.5 297.5 229.7 293 229.9 289.7 230 286.2 230.2 282.7 230.3 279.4 230.5 276.5 230.6 274.1 230.8 272.1 230.9 270.3 231.1 268.6 231.2 267.1 231.4 265.7 231.5 264.3 231.7 263 231.9 261.8 232 260.6 232.2 259.4 232.3 258.2 232.5 257 232.6 255.8 232.8 254.7 232.9 253.6 233.1 252.6 233.2 251.7 233.4 250.8 233.5 250.1 233.7 249.4 233.9 248.8 234 248.2 234.2 247.7 234.3 247.1 234.5 246.7 234.6 246.2 234.8 245.8 234.9 245.4 235.1 245 235.2 244.6 235.4 244.3 235.5 244 235.7 243.6 235.9 243.3 236 243 236.2 242.7 236.3 242.4 236.5 242.1 236.6 241.9 236.8 241.7 236.9 241.5 237.1 241.4 237.2 241.2 237.4 241.1 237.5 241 237.7 240.9 237.9 240.8 238 240.7 238.2 240.6" stroke="#5a9a32" stroke-width="1.3" fill="none" stroke-linejoin="round"/>
<path d="M225.5 337.5h.9M225.5 342h.9M226 327h.9M226 342h.9M226.5 337.5h.9M226.5 342h.9M227 337.5h.9M227 342h.9M227.5 334h.9M227.5 342h.9M228 331h.9M228 334h.9M228 342h.9M228.5 331h.9M228.5 337.5h.9M228.5 342h.9M229 323h.9M229 334h.9M229 337.5h.9M229.5 295.5h.9M229.5 296.5h.9M229.5 298h.9M229.5 304.5h.9M229.5 311h.9M229.5 319h.9M230 282.5h.9M230 286h.9M230 286.5h.9M230 290h.9M230 291.5h.9M230.5 274.5h.9M230.5 276h.9M230.5 278.5h.9M230.5 279h.9M230.5 281h.9M231 269.5h.9M231 271h.9M231 272h.9M231.5 264.5h.9M231.5 266h.9M231.5 267h.9M231.5 267.5h.9M231.5 268.5h.9M232 261h.9M232 261.5h.9M232 262h.9M232 262.5h.9M232 263.5h.9M232 264.5h.9M232.5 255.5h.9M232.5 257h.9M232.5 257.5h.9M232.5 258.5h.9M232.5 259h.9M232.5 260h.9M233 251.5h.9M233 252.5h.9M233 253h.9M233 253.5h.9M233 254.5h.9M233 255h.9M233.5 249.5h.9M233.5 250h.9M233.5 250.5h.9M233.5 251h.9M234 247.5h.9M234 248h.9M234 249h.9M234.5 246h.9M234.5 246.5h.9M234.5 247h.9M235 244.5h.9M235 245h.9M235 245.5h.9M235 246h.9M235.5 244h.9M235.5 244.5h.9M236 243h.9M236 243.5h.9M236.5 241.5h.9M236.5 242h.9M236.5 242.5h.9M237 241.5h.9M237.5 240.5h.9M237.5 241h.9M237.5 241.5h.9M238 240.5h.9M238 241h.9" stroke="#3b6ea5" stroke-width="0.9" fill="none"/>
<path d="M229.4 308.9 229.5 299.1 229.7 294.6 229.9 291.4 230 287.9 230.2 284.4 230.3 281.1 230.5 278.2 230.6 275.8 230.8 273.8 230.9 272 231.1 270.3 231.2 268.8 231.4 267.4 231.5 266.1 231.7 264.8 231.9 263.6 232 262.3 232.2 261 232.3 259.6 232.5 258.3 232.6 256.9 232.8 255.5 232.9 254.2 233.1 253 233.2 251.9 233.4 250.9 233.5 250.1 233.7 249.4 233.9 248.7 234 248.2 234.2 247.6 234.3 247.1 234.5 246.6 234.6 246.2 234.8 245.8 234.9 245.4 235.1 245 235.2 244.6 235.4 244.3 235.5 244 235.7 243.6 235.9 243.3 236 243 236.2 242.7 236.3 242.4 236.5 242.1 236.6 241.9 236.8 241.7 236.9 241.5 237.1 241.4 237.2 241.2 237.4 241.1 237.5 241 237.7 240.9 237.9 240.8 238 240.7 238.2 240.6" stroke="#3b6ea5" stroke-width="1.3" fill="none" stroke-linejoin="round"/>
<path d="M225.5 331h.9M225.5 334h.9M225.5 342h.9M226 324h.9M226 334h.9M226 337.5h.9M226 342h.9M226.5 327h.9M226.5 331h.9M226.5 334h.9M226.5 337.5h.9M226.5 342h.9M227 327h.9M227 329h.9M227 331h.9M227 337.5h.9M227.5 337.5h.9M227.5 342h.9M228 327h.9M228 331h.9M228 334h.9M228 337.5h.9M228 342h.9M228.5 329h.9M228.5 331h.9M228.5 337.5h.9M229 324h.9M229 327h.9M229 329h.9M229 334h.9M229.5 295h.9M229.5 296h.9M229.5 303h.9M229.5 307h.9M229.5 319h.9M230 281h.9M230 282.5h.9M230 284.5h.9M230 285h.9M230 288h.9M230 290.5h.9M230.5 273h.9M230.5 273.5h.9M230.5 275.5h.9M230.5 276h.9M230.5 277.5h.9M230.5 279h.9M231 267.5h.9M231 269h.9M231 270.5h.9M231.5 263h.9M231.5 264h.9M231.5 264.5h.9M231.5 265.5h.9M231.5 266h.9M231.5 267h.9M232 259h.9M232 259.5h.9M232 260h.9M232 261h.9M232 261.5h.9M232 262h.9M232.5 254.5h.9M232.5 256h.9M232.5 256.5h.9M232.5 257.5h.9M232.5 258h.9M233 251.5h.9M233 252h.9M233 252.5h.9M233 253h.9M233 254h.9M233.5 249.5h.9M233.5 250h.9M233.5 250.5h.9M233.5 251h.9M234 247.5h.9M234 248h.9M234 248.5h.9M234 249h.9M234.5 246h.9M234.5 246.5h.9M234.5 247h.9M234.5 247.5h.9M235 244.5h.9M235 245h.9M235 245.5h.9M235 246h.9M235.5 243.5h.9M235.5 244h.9M235.5 244.5h.9M236 242.5h.9M236 243h.9M236 243.5h.9M236.5 242h.9M236.5 242.5h.9M237 241h.9M237 241.5h.9M237.5 241h.9M237.5 241.5h.9M238 240.5h.9M238 241h.9M238.5 240.5h.9M238.5 241h.9" stroke="#ff00ff" stroke-width="0.9" fill="none"/>
<path d="M229.4 306.2 229.6 296.8 229.7 292.5 229.9 289.1 230 285.4 230.2 281.8 230.4 278.5 230.5 275.6 230.7 273.3 230.8 271.4 231 269.5 231.2 267.9 231.3 266.3 231.5 264.9 231.6 263.5 231.8 262.2 232 261 232.1 259.7 232.3 258.5 232.4 257.2 232.6 256 232.8 254.8 232.9 253.7 233.1 252.7 233.2 251.7 233.4 250.8 233.6 250 233.7 249.3 233.9 248.7 234 248.1 234.2 247.5 234.4 247 234.5 246.5 234.7 246.1 234.8 245.6 235 245.2 235.2 244.8 235.3 244.5 235.5 244.1 235.6 243.8 235.8 243.4 236 243.1 236.1 242.8 236.3 242.5 236.4 242.2 236.6 241.9 236.8 241.7 236.9 241.5 237.1 241.4 237.2 241.3 237.4 241.1 237.6 241 237.7 240.9 237.9 240.8 238 240.8 238.2 240.7 238.4 240.6 238.5 240.6" stroke="#ff00ff" stroke-width="1.3" fill="none" stroke-linejoin="round"/>
<path d="M225.5 327h.9M225.5 334h.9M225.5 342h.9M226 325.5h.9M226 334h.9M226 337.5h.9M226 342h.9M226.5 324h.9M226.5 327h.9M226.5 334h.9M226.5 342h.9M227 325.5h.9M227 331h.9M227 334h.9M227 342h.9M227.5 324h.9M227.5 325.5h.9M227.5 327h.9M227.5 329h.9M227.5 331h.9M227.5 334h.9M228 329h.9M228 331h.9M228 334h.9M228 337.5h.9M228.5 327h.9M228.5 331h.9M228.5 334h.9M228.5 337.5h.9M229 324h.9M229 329h.9M229 331h.9M229 337.5h.9M229.5 293h.9M229.5 298h.9M229.5 299.5h.9M229.5 308h.9M229.5 316h.9M230 280.5h.9M230 283.5h.9M230 285.5h.9M230 286.5h.9M230 288h.9M230 290h.9M230.5 273h.9M230.5 273.5h.9M230.5 276h.9M230.5 278.5h.9M230.5 279.5h.9M231 267.5h.9M231 269h.9M231 269.5h.9M231 270h.9M231 271.5h.9M231.5 263h.9M231.5 263.5h.9M231.5 264.5h.9M231.5 265.5h.9M231.5 266.5h.9M231.5 267h.9M232 259h.9M232 259.5h.9M232 260h.9M232 261h.9M232 261.5h.9M232 262.5h.9M232.5 254.5h.9M232.5 255.5h.9M232.5 256.5h.9M232.5 257h.9M232.5 257.5h.9M232.5 258h.9M233 251.5h.9M233 252.5h.9M233 253h.9M233 253.5h.9M233 254.5h.9M233.5 249.5h.9M233.5 250h.9M233.5 250.5h.9M233.5 251h.9M233.5 251.5h.9M234 247.5h.9M234 248h.9M234 248.5h.9M234 249h.9M234.5 246h.9M234.5 246.5h.9M234.5 247h.9M235 244.5h.9M235 245h.9M235 245.5h.9M235.5 243.5h.9M235.5 244h.9M235.5 244.5h.9M236 242.5h.9M236 243h.9M236 243.5h.9M236.5 241.5h.9M236.5 242h.9M236.5 242.5h.9M237 241h.9M237 241.5h.9M237.5 241h.9M237.5 241.5h.9M238 240.5h.9M238 241h.9M238.5 240.5h.9M238.5 241h.9M239 240.5h.9M239 241h.9" stroke="#800080" stroke-width="0.9" fill="none"/>
<path d="M229.4 304.1 229.6 295.7 229.8 291.5 229.9 287.8 230.1 283.8 230.3 280.1 230.5 276.8 230.6 274.1 230.8 271.9 231 269.9 231.1 268.1 231.3 266.4 231.5 264.9 231.7 263.4 231.8 262 232 260.7 232.2 259.3 232.3 258 232.5 256.7 232.7 255.4 232.9 254.1 233 253 233.2 251.9 233.4 250.9 233.5 250.1 233.7 249.3 233.9 248.7 234.1 248 234.2 247.4 234.4 246.9 234.6 246.4 234.7 245.9 234.9 245.4 235.1 245 235.3 244.6 235.4 244.2 235.6 243.8 235.8 243.4 235.9 243.1 236.1 242.7 236.3 242.4 236.5 242.1 236.6 241.8 236.8 241.6 237 241.5 237.1 241.3 237.3 241.2 237.5 241.1 237.7 241.1 237.8 241 238 240.9 238.2 240.8 238.3 240.8 238.5 240.7 238.7 240.7 238.9 240.6 239 240.6 239.2 240.6" stroke="#800080" stroke-width="1.3" fill="none" stroke-linejoin="round"/>
<path d="M239 240.5h.9M239.5 240.5h.9M239.5 241h.9M240 240.5h.9M240.5 240.5h.9M240.5 241h.9M241 240.5h.9M241 241h.9M241.5 241h.9M242 241h.9M242 241.5h.9M242.5 241h.9M242.5 241.5h.9M243 241.5h.9M243 242h.9M243.5 241.5h.9M243.5 242h.9M244 242h.9M244 242.5h.9M244.5 242.5h.9M245 242.5h.9M245 243h.9M245.5 242.5h.9M245.5 243h.9M246 243h.9M246 243.5h.9M246.5 243.5h.9M247 243.5h.9M247 244h.9M247.5 244h.9M248 244h.9M248 244.5h.9M248.5 244.5h.9M248.5 245h.9M249 245h.9M249 245.5h.9M249.5 245h.9M249.5 245.5h.9M250 245.5h.9M250 246h.9M250.5 246h.9M250.5 246.5h.9M251 246h.9M251 246.5h.9M251.5 246.5h.9M251.5 247h.9M252 246.5h.9M252 247h.9M252.5 247h.9M252.5 247.5h.9M253 247.5h.9M253 248h.9M253.5 247.5h.9M253.5 248h.9M254 248h.9M254 248.5h.9M254.5 248.5h.9M255 248.5h.9M255 249h.9M255.5 249h.9M255.5 249.5h.9M256 249.5h.9M256.5 249.5h.9M256.5 250h.9M257 250h.9M257 250.5h.9M257.5 250.5h.9M257.5 251h.9M258 250.5h.9M258 251h.9M258.5 251h.9M258.5 251.5h.9M259 251h.9M259 251.5h.9M259.5 251.5h.9M259.5 252h.9M260 252h.9M260 252.5h.9M260.5 252h.9M260.5 252.5h.9M261 252.5h.9M261 253h.9M261.5 253h.9M261.5 253.5h.9M262 253h.9M262 253.5h.9M262 254h.9M262.5 253.5h.9M262.5 254h.9M263 254h.9M263 254.5h.9M263.5 254h.9M263.5 254.5h.9M263.5 255h.9M264 254.5h.9M264 255h.9M264 255.5h.9M264.5 254.5h.9M264.5 255h.9M264.5 255.5h.9M265 255.5h.9M265 256.5h.9M265.5 255.5h.9M265.5 256h.9M266 255.5h.9M266 256h.9M266 256.5h.9M266.5 256h.9M266.5 256.5h.9M267 256h.9M267 256.5h.9M267 257h.9M267.5 257h.9M267.5 257.5h.9M268 257h.9M268 257.5h.9M268 258h.9M268.5 257.5h.9M268.5 258h.9M269 258h.9M269 258.5h.9M269.5 258h.9M269.5 258.5h.9M270 258.5h.9M270 259h.9M270.5 259h.9M270.5 259.5h.9M271 259h.9M271 259.5h.9M271.5 259.5h.9M271.5 260h.9M272 259.5h.9M272 260h.9M272 260.5h.9M272.5 260h.9M272.5 260.5h.9M272.5 261h.9M273 260.5h.9M273 261h.9M273.5 261h.9M273.5 261.5h.9M274 261h.9M274 261.5h.9M274 262h.9M274.5 261.5h.9M274.5 262h.9M275 261.5h.9M275 262h.9M275 262.5h.9M275.5 262h.9M275.5 262.5h.9M275.5 263h.9M276 262.5h.9M276 263h.9M276.5 263h.9M276.5 263.5h.9M276.5 264h.9M277 263h.9M277 263.5h.9M277 264h.9M277.5 263h.9M277.5 263.5h.9M277.5 264h.9M278 264h.9M278 264.5h.9M278.5 264h.9M278.5 264.5h.9M279 264.5h.9M279 265h.9M279.5 264.5h.9M279.5 265h.9M280 265h.9M280 265.5h.9M280 266h.9M280.5 265.5h.9M280.5 266h.9M281 265.5h.9M281 266h.9M281 266.5h.9M281 267h.9M281.5 266.5h.9M282 267h.9M282.5 267h.9M282.5 267.5h.9M283 267.5h.9M283 268h.9M283.5 267h.9M283.5 267.5h.9M283.5 268h.9M283.5 269h.9M284 268h.9M284 268.5h.9M284.5 268h.9M284.5 268.5h.9M284.5 269h.9M285 268h.9M285 268.5h.9M285 269h.9M285.5 268.5h.9M285.5 269h.9M285.5 270h.9M286 269h.9M286 269.5h.9M286 270h.9M286.5 269h.9M286.5 269.5h.9M286.5 270h.9M286.5 270.5h.9M287 269.5h.9M287 270h.9M287 270.5h.9M287.5 270.5h.9M287.5 271h.9M288 270.5h.9M288 271h.9M288 271.5h.9M288.5 270h.9M288.5 270.5h.9M288.5 271h.9M288.5 271.5h.9M289 271h.9M289 271.5h.9M289 272h.9M289.5 271.5h.9M289.5 272h.9M290 271.5h.9M290 272h.9M290 273h.9M290.5 272h.9M290.5 272.5h.9M290.5 273h.9M291 272h.9M291 272.5h.9M291 273h.9M291.5 272.5h.9M291.5 273h.9M291.5 273.5h.9M292 273h.9M292 273.5h.9M292 274h.9M292.5 273.5h.9M292.5 274h.9M292.5 274.5h.9M293 273.5h.9M293 274h.9M293 274.5h.9M293.5 274h.9M293.5 274.5h.9M293.5 275h.9M294 274h.9M294 274.5h.9M294 275.5h.9M294.5 274.5h.9M294.5 275h.9M294.5 275.5h.9M294.5 276h.9M295 274.5h.9M295 275h.9M295 275.5h.9M295 276h.9M295.5 274.5h.9M295.5 275h.9M295.5 275.5h.9M295.5 276h.9M295.5 277.5h.9M296 275.5h.9M296 276h.9M296 276.5h.9M296 277h.9M296.5 276h.9M296.5 276.5h.9M296.5 277.5h.9M297 276h.9M297 276.5h.9M297 277h.9M297 277.5h.9M297.5 276h.9M297.5 276.5h.9M297.5 277h.9M297.5 278h.9M298 276h.9M298 277.5h.9M298 278h.9M298.5 277h.9M298.5 277.5h.9M298.5 278h.9M299 277h.9M299 278h.9M299 278.5h.9M299 279h.9M299.5 277.5h.9M299.5 278h.9M299.5 278.5h.9M300 277.5h.9M300 278.5h.9M300 279h.9M300 279.5h.9M300.5 278.5h.9M300.5 279h.9M300.5 280h.9M300.5 280.5h.9M301 278h.9M301 278.5h.9M301 279.5h.9M301 280h.9M301.5 279h.9M301.5 279.5h.9M301.5 280h.9M301.5 280.5h.9M301.5 281h.9M302 279h.9M302 279.5h.9M302 280h.9M302 280.5h.9M302.5 280h.9M302.5 281h.9M303 280.5h.9M303 281h.9M303 281.5h.9M303.5 280h.9M303.5 281h.9M303.5 281.5h.9M304 281h.9M304 281.5h.9M304 282h.9M304.5 281h.9M304.5 282h.9M304.5 282.5h.9M305 281h.9M305 282h.9M305 282.5h.9M305 283h.9M305.5 281h.9M305.5 281.5h.9M305.5 282.5h.9M305.5 283h.9M305.5 284h.9M306 281.5h.9M306 282h.9M306 282.5h.9M306 283.5h.9M306.5 282.5h.9M306.5 283h.9M306.5 284.5h.9M307 283.5h.9M307 284h.9M307.5 282.5h.9M307.5 283h.9M307.5 284h.9M307.5 284.5h.9M307.5 285h.9M308 283h.9M308 283.5h.9M308 284h.9M308 284.5h.9M308.5 283.5h.9M308.5 284h.9M308.5 285h.9M308.5 285.5h.9M309 283h.9M309 283.5h.9M309 284.5h.9M309 285h.9M309 285.5h.9M309.5 284h.9M309.5 285h.9M309.5 286h.9M310 285h.9M310 285.5h.9M310 286.5h.9M310.5 285h.9M310.5 285.5h.9M310.5 286.5h.9M311 285h.9M311 286h.9M311 286.5h.9M311 287h.9M311.5 286h.9M311.5 286.5h.9M311.5 288.5h.9M312 286h.9M312 286.5h.9M312 287h.9M312.5 286.5h.9M312.5 287.5h.9M312.5 288h.9M313 287h.9M313 288h.9M313 288.5h.9M313 289h.9M313.5 287h.9M313.5 287.5h.9M314 287h.9M314 287.5h.9M314 288h.9M314 288.5h.9M314 289h.9M314.5 287h.9M314.5 287.5h.9M314.5 288h.9M314.5 288.5h.9M315 287.5h.9M315 289h.9M315 289.5h.9M315 290h.9M315 290.5h.9M315.5 287.5h.9M315.5 288.5h.9M315.5 289h.9M315.5 289.5h.9M315.5 290.5h.9M316 288.5h.9M316 289h.9M316 289.5h.9M316 290h.9M316 290.5h.9M316.5 289h.9M316.5 289.5h.9M316.5 290h.9M316.5 291h.9M317 289.5h.9M317 290h.9M317 290.5h.9M317 293h.9M317.5 289.5h.9M317.5 290h.9M317.5 290.5h.9M317.5 291h.9M318 290h.9M318 291h.9M318 291.5h.9M318 292.5h.9M318.5 290h.9M318.5 290.5h.9M318.5 291.5h.9M318.5 292.5h.9M319 291h.9M319 291.5h.9M319.5 290.5h.9M319.5 291.5h.9M319.5 292.5h.9M319.5 293h.9M320 290.5h.9M320 291h.9M320 292h.9M320 292.5h.9M320 293h.9M320 293.5h.9M320.5 291h.9M320.5 292.5h.9M320.5 293h.9M321 291h.9M321 292h.9M321 292.5h.9M321 293.5h.9M321.5 291h.9M321.5 292h.9M321.5 293h.9M321.5 295h.9M322 292.5h.9M322 293h.9M322 293.5h.9M322.5 291.5h.9M322.5 293h.9M322.5 293.5h.9M322.5 294h.9M322.5 295.5h.9M323 293h.9M323 293.5h.9M323 294h.9M323 295h.9M323.5 293h.9M323.5 293.5h.9M323.5 294h.9M323.5 294.5h.9M324 293h.9M324 293.5h.9M324 294.5h.9M324 295h.9M324 295.5h.9M324.5 292.5h.9M324.5 295h.9M324.5 295.5h.9M325 293.5h.9M325 294h.9M325 295h.9M325 295.5h.9M325 296h.9M325 297.5h.9M325.5 294.5h.9M325.5 295h.9M325.5 296h.9M325.5 296.5h.9M326 293.5h.9M326 294h.9M326 294.5h.9M326 295h.9M326 296h.9M326.5 294.5h.9M326.5 295.5h.9M326.5 297h.9M326.5 297.5h.9M327 293.5h.9M327 294h.9M327 295.5h.9M327 298h.9M327.5 295.5h.9M327.5 296h.9M327.5 296.5h.9M327.5 297h.9M327.5 299.5h.9M328 296h.9M328 296.5h.9M328 297h.9M328 297.5h.9M328 299h.9M328.5 295.5h.9M328.5 297h.9M328.5 298h.9M329 296h.9M329 298h.9M329 298.5h.9M329 299h.9M329 300.5h.9M329.5 296.5h.9M329.5 299h.9M329.5 299.5h.9M329.5 301h.9M330 297h.9M330 297.5h.9M330 298.5h.9M330 300h.9M330.5 296.5h.9M330.5 297.5h.9M330.5 298h.9M330.5 298.5h.9M330.5 300h.9M330.5 300.5h.9M331 295.5h.9M331 298h.9M331 299h.9M331 299.5h.9M331.5 297h.9M331.5 298h.9M331.5 301.5h.9M332 299h.9M332 299.5h.9M332 300h.9M332 301h.9M332.5 298.5h.9M332.5 299h.9M332.5 299.5h.9M332.5 300.5h.9M332.5 301h.9M333 296.5h.9M333 298h.9M333 301h.9M333 302h.9M333 302.5h.9M333.5 298.5h.9M333.5 299h.9M333.5 300.5h.9M333.5 301h.9M333.5 302h.9M334 299.5h.9M334 300h.9M334 300.5h.9M334 301h.9M334 301.5h.9M334 303h.9M334.5 300.5h.9M334.5 301h.9M334.5 302h.9M335 300h.9M335 300.5h.9M335 301h.9M335 304.5h.9M335.5 299h.9M335.5 300h.9M335.5 301.5h.9M335.5 302h.9M335.5 302.5h.9M335.5 304h.9M336 300.5h.9M336 301h.9M336 302h.9M336 304h.9M336.5 300.5h.9M336.5 301h.9M336.5 301.5h.9M336.5 303h.9M336.5 304.5h.9M337 301h.9M337 302h.9M337 302.5h.9M337 303h.9M337 304h.9M337.5 302.5h.9M337.5 303h.9M337.5 304.5h.9M337.5 305.5h.9M338 301h.9M338 301.5h.9M338 302.5h.9M338 303h.9M338 303.5h.9M338 304h.9M338.5 300h.9M338.5 302h.9M338.5 302.5h.9M338.5 303.5h.9M338.5 306.5h.9M339 301.5h.9M339 302.5h.9M339 303h.9M339 305h.9M339 306h.9M339.5 300.5h.9M339.5 303h.9M339.5 304h.9M339.5 304.5h.9M339.5 307h.9M340 302.5h.9M340 303h.9M340 304h.9M340 305h.9M340.5 301h.9M340.5 302.5h.9M340.5 303h.9M340.5 304h.9M340.5 305h.9M341 303h.9M341 305h.9M341 306.5h.9M341 307h.9M341.5 302.5h.9M341.5 305h.9M341.5 305.5h.9M341.5 307h.9M342 304.5h.9M342 305h.9M342 306h.9M342 306.5h.9M342 311h.9M342.5 302h.9M342.5 305h.9M342.5 305.5h.9M342.5 307h.9M342.5 307.5h.9M342.5 309h.9M343 303h.9M343 303.5h.9M343 304.5h.9M343 305h.9M343 309h.9M343.5 304h.9M343.5 306h.9M343.5 306.5h.9M343.5 307.5h.9M343.5 308h.9M343.5 310h.9M344 302h.9M344 305h.9M344 306.5h.9M344 309.5h.9M344.5 303h.9M344.5 304.5h.9M344.5 306h.9M344.5 306.5h.9M344.5 308.5h.9M345 305h.9M345 306.5h.9M345 307h.9M345 308h.9M345 312.5h.9M345.5 303.5h.9M345.5 306.5h.9M345.5 307h.9M345.5 307.5h.9M345.5 309h.9M345.5 309.5h.9M346 307.5h.9M346 308h.9M346 308.5h.9M346.5 307h.9M346.5 307.5h.9M346.5 308h.9M346.5 309.5h.9M347 308h.9M347 310.5h.9M347 311h.9M347 312h.9M347.5 306.5h.9M347.5 307h.9M347.5 307.5h.9M347.5 308.5h.9M347.5 311h.9M347.5 315h.9M348 304.5h.9M348 306.5h.9M348 308h.9M348 309.5h.9M348 313h.9M348.5 307h.9M348.5 308h.9M348.5 309.5h.9M348.5 310.5h.9M348.5 313.5h.9M349 305.5h.9M349 311h.9M349 311.5h.9M349 312h.9M349.5 306.5h.9M349.5 307.5h.9M349.5 309h.9M349.5 312h.9M350 305h.9M350 307h.9M350 308h.9M350 308.5h.9M350 309h.9M350 311h.9M350.5 307.5h.9M350.5 309h.9M350.5 309.5h.9M350.5 310h.9M350.5 313h.9M351 306.5h.9M351 308h.9M351 308.5h.9M351 309h.9M351 310h.9M351 313h.9M351.5 308h.9M351.5 308.5h.9M351.5 311h.9M351.5 311.5h.9M351.5 313h.9M352 310.5h.9M352 311h.9M352 311.5h.9M352 312h.9M352 313h.9M352 314h.9M352.5 310h.9M352.5 310.5h.9M352.5 311h.9M352.5 311.5h.9M352.5 313h.9M353 307.5h.9M353 309h.9M353 311h.9M353 312h.9M353 315h.9M353 317.5h.9M353.5 309h.9M353.5 310.5h.9M353.5 312.5h.9M353.5 313h.9M353.5 315.5h.9M354 309.5h.9M354 310.5h.9M354 311.5h.9M354 312h.9M354 312.5h.9M354.5 311h.9M354.5 311.5h.9M354.5 312h.9M354.5 312.5h.9M354.5 313h.9M354.5 314h.9M355 308.5h.9M355 309h.9M355 313h.9M355 315h.9M355 315.5h.9M355 321h.9M355.5 311.5h.9M355.5 313h.9M355.5 314h.9M355.5 315.5h.9M355.5 316.5h.9M355.5 317.5h.9M356 308.5h.9M356 310.5h.9M356 311h.9M356 313h.9M356 314h.9M356.5 311h.9M356.5 311.5h.9M356.5 312h.9M356.5 316h.9M357 311h.9M357 313h.9M357 313.5h.9M357 315h.9M357 315.5h.9M357 318h.9M357.5 312.5h.9M357.5 314h.9M357.5 315h.9M358 311h.9M358 313.5h.9M358 315h.9M358 315.5h.9M358 317.5h.9M358 318h.9M358.5 311h.9M358.5 313h.9M358.5 314h.9M358.5 318h.9M359 312.5h.9M359 313h.9M359 315h.9M359 317.5h.9M359 320h.9M359.5 313.5h.9M359.5 314h.9M359.5 315.5h.9M359.5 316h.9M360 311h.9M360 314h.9M360 317.5h.9M360 318h.9M360 320h.9M360.5 311h.9M360.5 314h.9M360.5 315h.9M360.5 317.5h.9M360.5 319h.9M361 312h.9M361 313h.9M361 313.5h.9M361 320h.9M361 321h.9M361.5 312h.9M361.5 313.5h.9M361.5 316h.9M361.5 318h.9M362 315h.9M362 315.5h.9M362 316h.9M362 316.5h.9M362 317.5h.9M362 320h.9M362.5 311.5h.9M362.5 313.5h.9M362.5 315h.9M362.5 316h.9M362.5 316.5h.9M362.5 322h.9M363 312h.9M363 314h.9M363 319h.9M363 321h.9M363 322h.9M363.5 316.5h.9" stroke="#800080" stroke-width="0.9" fill="none"/>
<path d="M239.2 240.6 239.6 240.6 240 240.6 240.4 240.7 240.9 240.8 241.3 240.9 241.7 241.1 242.1 241.2 242.5 241.4 242.9 241.6 243.4 241.8 243.8 242.1 244.2 242.3 244.6 242.5 245 242.7 245.4 242.9 245.8 243.1 246.3 243.3 246.7 243.6 247.1 243.9 247.5 244.1 247.9 244.4 248.3 244.7 248.8 244.9 249.2 245.2 249.6 245.5 250 245.7 250.4 246 250.8 246.3 251.2 246.5 251.7 246.8 252.1 247 252.5 247.3 252.9 247.6 253.3 247.8 253.7 248.1 254.2 248.4 254.6 248.6 255 248.9 255.4 249.2 255.8 249.4 256.2 249.7 256.6 250 257.1 250.2 257.5 250.5 257.9 250.8 258.3 251 258.7 251.3 259.1 251.6 259.6 251.9 260 252.1 260.4 252.4 260.8 252.7 261.2 253 261.6 253.2 262 253.5 262.5 253.8 262.9 254 263.3 254.3 263.7 254.6 264.1 254.9 264.5 255.1 265 255.4 265.4 255.7 265.8 256 266.2 256.3 266.6 256.5 267 256.8 267.4 257.1 267.9 257.4 268.3 257.6 268.7 257.9 269.1 258.2 269.5 258.5 269.9 258.8 270.4 259 270.8 259.3 271.2 259.6 271.6 259.9 272 260.2 272.4 260.4 272.8 260.7 273.3 261 273.7 261.3 274.1 261.6 274.5 261.8 274.9 262.1 275.3 262.4 275.8 262.7 276.2 263 276.6 263.2 277 263.5 277.4 263.8 277.8 264.1 278.2 264.4 278.7 264.6 279.1 264.9 279.5 265.2 279.9 265.5 280.3 265.8 280.7 266 281.2 266.3 281.6 266.6 282 266.9 282.4 267.2 282.8 267.4 283.2 267.7 283.6 268 284.1 268.3 284.5 268.5 284.9 268.8 285.3 269.1 285.7 269.4 286.1 269.7 286.6 269.9 287 270.2 287.4 270.5 287.8 270.8 288.2 271 288.6 271.3 289 271.6 289.5 271.9 289.9 272.1 290.3 272.4 290.7 272.7 291.1 273 291.5 273.2 292 273.5 292.4 273.8 292.8 274.1 293.2 274.3 293.6 274.6 294 274.9 294.4 275.2 294.9 275.4 295.3 275.7 295.7 276 296.1 276.3 296.5 276.6 296.9 276.8 297.4 277.1 297.8 277.4 298.2 277.7 298.6 277.9 299 278.2 299.4 278.5 299.8 278.8 300.3 279 300.7 279.3 301.1 279.6 301.5 279.9 301.9 280.1 302.3 280.4 302.8 280.7 303.2 281 303.6 281.2 304 281.5 304.4 281.8 304.8 282.1 305.2 282.3 305.7 282.6 306.1 282.9 306.5 283.2 306.9 283.5 307.3 283.7 307.7 284 308.2 284.3 308.6 284.6 309 284.8 309.4 285.1 309.8 285.4 310.2 285.7 310.6 285.9 311.1 286.2 311.5 286.5 311.9 286.8 312.3 287 312.7 287.3 313.1 287.6 313.6 287.9 314 288.1 314.4 288.4 314.8 288.7 315.2 289 315.6 289.2 316 289.5 316.5 289.8 316.9 290.1" stroke="#800080" stroke-width="2.0" fill="none" stroke-linejoin="round"/>
<path d="M238.5 240.5h.9M239 240.5h.9M239.5 240.5h.9M240 240.5h.9M240 241h.9M240.5 241h.9M241 241.5h.9M241.5 241.5h.9M241.5 242h.9M242 242h.9M242 242.5h.9M242.5 242.5h.9M242.5 243h.9M242.5 243.5h.9M243 243.5h.9M243.5 243.5h.9M243.5 244h.9M244 244h.9M244 244.5h.9M244 245h.9M244.5 244.5h.9M244.5 245h.9M245 245h.9M245 245.5h.9M245.5 245.5h.9M245.5 246h.9M246 246h.9M246 246.5h.9M246.5 246.5h.9M246.5 247h.9M247 247h.9M247 247.5h.9M247.5 247.5h.9M248 248h.9M248.5 248h.9M248.5 248.5h.9M249 248.5h.9M249 249h.9M249.5 249h.9M249.5 249.5h.9M250 249.5h.9M250 250h.9M250.5 250.5h.9M251 251h.9M251 251.5h.9M251.5 250.5h.9M251.5 251h.9M251.5 251.5h.9M252 251.5h.9M252 252h.9M252 252.5h.9M252.5 252.5h.9M252.5 253h.9M253 253h.9M253 253.5h.9M253.5 253h.9M253.5 253.5h.9M253.5 254h.9M254 253.5h.9M254 254h.9M254 254.5h.9M254.5 254.5h.9M254.5 255h.9M255 255h.9M255 255.5h.9M255.5 255.5h.9M255.5 256h.9M256 256h.9M256 256.5h.9M256.5 256.5h.9M256.5 257h.9M256.5 257.5h.9M257 257h.9M257 257.5h.9M257 258h.9M257.5 257.5h.9M257.5 258h.9M257.5 258.5h.9M258 258h.9M258 258.5h.9M258 259h.9M258.5 259h.9M258.5 259.5h.9M259 259h.9M259 259.5h.9M259 260h.9M259.5 259.5h.9M259.5 260h.9M259.5 260.5h.9M260 260h.9M260 260.5h.9M260 261h.9M260.5 261h.9M260.5 261.5h.9M260.5 262h.9M261 261.5h.9M261 262h.9M261.5 262h.9M261.5 262.5h.9M261.5 263h.9M262 263h.9M262 263.5h.9M262.5 263h.9M262.5 263.5h.9M262.5 264h.9M263 263.5h.9M263 264h.9M263 264.5h.9M263.5 264.5h.9M263.5 265h.9M263.5 265.5h.9M264 265h.9M264 265.5h.9M264 266h.9M264.5 266h.9M264.5 266.5h.9M264.5 267h.9M265 266.5h.9M265 267h.9M265 267.5h.9M265.5 266.5h.9M265.5 267h.9M265.5 267.5h.9M265.5 268h.9M266 267.5h.9M266 268h.9M266 268.5h.9M266.5 268h.9M266.5 268.5h.9M267 268.5h.9M267 269h.9M267 269.5h.9M267 270h.9M267.5 269h.9M267.5 270h.9M267.5 270.5h.9M268 270h.9M268 270.5h.9M268.5 270.5h.9M268.5 271h.9M269 270.5h.9M269 271h.9M269 271.5h.9M269.5 271h.9M269.5 271.5h.9M269.5 272h.9M269.5 272.5h.9M270 272h.9M270 272.5h.9M270 273.5h.9M270.5 272.5h.9M270.5 273h.9M271 273h.9M271 273.5h.9M271 274h.9M271.5 273.5h.9M271.5 274h.9M271.5 274.5h.9M272 274.5h.9M272 275h.9M272 275.5h.9M272.5 275h.9M272.5 275.5h.9M272.5 276.5h.9M273 275h.9M273 275.5h.9M273 276h.9M273 276.5h.9M273 277h.9M273.5 276h.9M273.5 276.5h.9M273.5 277h.9M273.5 277.5h.9M273.5 278h.9M274 277h.9M274 277.5h.9M274 278h.9M274.5 277h.9M274.5 277.5h.9M274.5 278h.9M275 277.5h.9M275 278h.9M275 278.5h.9M275 279h.9M275.5 278.5h.9M275.5 279h.9M275.5 279.5h.9M275.5 280.5h.9M276 279h.9M276 279.5h.9M276 280h.9M276.5 278.5h.9M276.5 279.5h.9M276.5 280h.9M276.5 281h.9M277 279.5h.9M277 280h.9M277 280.5h.9M277 281h.9M277 282h.9M277.5 281h.9M277.5 281.5h.9M277.5 282h.9M278 281h.9M278 281.5h.9M278 282h.9M278 282.5h.9M278.5 282h.9M278.5 282.5h.9M278.5 283h.9M278.5 283.5h.9M279 282.5h.9M279 283h.9M279 284.5h.9M279.5 282.5h.9M279.5 283h.9M279.5 284h.9M279.5 284.5h.9M279.5 285h.9M280 284h.9M280 285h.9M280 285.5h.9M280.5 284.5h.9M280.5 285h.9M280.5 285.5h.9M281 284.5h.9M281 285h.9M281 285.5h.9M281 286h.9M281.5 285.5h.9M281.5 286h.9M281.5 287.5h.9M282 286.5h.9M282 287.5h.9M282.5 287h.9M282.5 287.5h.9M282.5 289h.9M283 287h.9M283 287.5h.9M283 288h.9M283 288.5h.9M283 289h.9M283 289.5h.9M283.5 287h.9M283.5 288h.9M283.5 288.5h.9M283.5 290.5h.9M284 288.5h.9M284 289h.9M284 289.5h.9M284 290h.9M284.5 288.5h.9M284.5 289.5h.9M284.5 290.5h.9M285 290h.9M285 290.5h.9M285 291.5h.9M285.5 290h.9M285.5 290.5h.9M285.5 291.5h.9M285.5 292h.9M286 290h.9M286 291h.9M286 291.5h.9M286 292h.9M286.5 290.5h.9M286.5 291h.9M286.5 292h.9M286.5 292.5h.9M287 291.5h.9M287 293h.9M287 293.5h.9M287 294h.9M287 294.5h.9M287.5 292h.9M287.5 292.5h.9M287.5 294h.9M288 293h.9M288 293.5h.9M288 294h.9M288 294.5h.9M288 295h.9M288.5 294.5h.9M288.5 295h.9M288.5 295.5h.9M288.5 296h.9M289 293h.9M289 294h.9M289 295.5h.9M289 296h.9M289.5 293.5h.9M289.5 294.5h.9M289.5 295h.9M289.5 296h.9M289.5 296.5h.9M290 295h.9M290 296.5h.9M290 297.5h.9M290.5 295h.9M290.5 296h.9M290.5 296.5h.9M290.5 297h.9M290.5 297.5h.9M291 295h.9M291 296.5h.9M291 297h.9M291 298h.9M291.5 297h.9M291.5 298h.9M291.5 298.5h.9M291.5 299.5h.9M292 296h.9M292 297.5h.9M292 298h.9M292 298.5h.9M292.5 297h.9M292.5 297.5h.9M292.5 298h.9M293 297h.9M293 298.5h.9M293 299h.9M293 299.5h.9M293 300.5h.9M293 302h.9M293.5 297h.9M293.5 299h.9M293.5 299.5h.9M293.5 300.5h.9M294 298h.9M294 298.5h.9M294 299.5h.9M294 300h.9M294 300.5h.9M294 302h.9M294.5 299h.9M294.5 299.5h.9M294.5 301h.9M294.5 301.5h.9M294.5 302h.9M294.5 303.5h.9M295 300.5h.9M295 301.5h.9M295 304h.9M295.5 299.5h.9M295.5 300.5h.9M295.5 301h.9M295.5 302h.9M295.5 302.5h.9M296 302h.9M296 302.5h.9M296 303h.9M296 306h.9M296.5 300h.9M296.5 301.5h.9M296.5 302h.9M296.5 303.5h.9M296.5 304.5h.9M297 302h.9M297 302.5h.9M297 303h.9M297 303.5h.9M297 306h.9M297 307h.9M297.5 301h.9M297.5 303h.9M297.5 306h.9M297.5 306.5h.9M298 301.5h.9M298 302h.9M298 304h.9M298 305.5h.9M298 306.5h.9M298.5 304h.9M298.5 304.5h.9M298.5 305.5h.9M298.5 308h.9M299 303h.9M299 305.5h.9M299 307.5h.9M299 308h.9M299 308.5h.9M299.5 303h.9M299.5 305h.9M299.5 306.5h.9M299.5 307h.9M299.5 308h.9M300 304h.9M300 306.5h.9M300 307h.9M300.5 305.5h.9M300.5 306.5h.9M300.5 307.5h.9M300.5 308h.9M300.5 308.5h.9M300.5 310h.9M301 306h.9M301 307.5h.9M301 309h.9M301 309.5h.9M301 310h.9M301.5 308h.9M301.5 309h.9M301.5 310.5h.9M301.5 311.5h.9M301.5 312h.9M302 308h.9M302 309h.9M302 309.5h.9M302 311.5h.9M302 312.5h.9M302.5 308h.9M302.5 308.5h.9M302.5 309h.9M302.5 313.5h.9M303 307h.9M303 307.5h.9M303 309h.9M303 310.5h.9M303 312.5h.9M303.5 305.5h.9M303.5 307.5h.9M303.5 308h.9M303.5 310h.9M303.5 311.5h.9M304 308.5h.9M304 310.5h.9M304 311h.9M304 311.5h.9M304 313.5h.9M304.5 309h.9M304.5 310h.9M304.5 311h.9M304.5 311.5h.9M304.5 312.5h.9M305 308.5h.9M305 309h.9M305 312h.9M305 312.5h.9M305 313.5h.9M305 314h.9M305.5 308.5h.9M305.5 311h.9M305.5 311.5h.9M305.5 312h.9M305.5 312.5h.9M305.5 316h.9M306 311.5h.9M306 312.5h.9M306 313h.9M306 315h.9M306 315.5h.9M306.5 311.5h.9M306.5 312h.9M306.5 313h.9M306.5 315.5h.9M307 310h.9M307 312h.9M307 314h.9M307 315h.9M307 317.5h.9M307.5 313h.9M307.5 314h.9M307.5 315.5h.9M307.5 318h.9M308 311.5h.9M308 313h.9M308 315h.9M308 316.5h.9M308 319h.9M308 320h.9M308.5 309.5h.9M308.5 313h.9M308.5 315h.9M308.5 317.5h.9M309 312h.9M309 313.5h.9M309 314h.9M309 316h.9M309 318h.9M309.5 313h.9M309.5 313.5h.9M309.5 317.5h.9M309.5 319h.9M309.5 322h.9M310 310.5h.9M310 311.5h.9M310 313.5h.9M310 315.5h.9M310 319h.9M310.5 312h.9M310.5 315.5h.9M310.5 316h.9M310.5 316.5h.9M310.5 321h.9M310.5 325.5h.9M311 314h.9M311 315.5h.9M311 316h.9M311 317.5h.9M311 318h.9M311 321h.9M311.5 314h.9M311.5 318h.9M311.5 320h.9M311.5 322h.9M312 315.5h.9M312 316h.9M312 316.5h.9M312 319h.9M312 322h.9M312.5 316h.9M312.5 316.5h.9M312.5 317.5h.9M312.5 321h.9M312.5 325.5h.9M312.5 329h.9M313 316.5h.9M313 318h.9M313 319h.9M313 320h.9M313 322h.9M313 325.5h.9M313.5 313.5h.9M313.5 320h.9M313.5 323h.9M314 315h.9M314 317.5h.9M314 321h.9M314 327h.9M314 329h.9M314.5 316h.9M314.5 319h.9M314.5 322h.9M314.5 324h.9M314.5 325.5h.9M315 316.5h.9M315 320h.9M315 321h.9M315 325.5h.9M315 327h.9M315.5 318h.9M315.5 319h.9M315.5 320h.9M315.5 321h.9M315.5 324h.9M315.5 325.5h.9M316 316h.9M316 320h.9M316 322h.9M316 323h.9M316 325.5h.9M316.5 318h.9M316.5 320h.9M316.5 321h.9M316.5 323h.9M316.5 324h.9M316.5 325.5h.9M317 324h.9M317 325.5h.9M317 327h.9M317 329h.9M317.5 316.5h.9M317.5 322h.9M317.5 323h.9M317.5 324h.9M318 318h.9M318 319h.9M318 321h.9M318 322h.9M318 325.5h.9M318.5 321h.9M318.5 323h.9M318.5 324h.9M318.5 327h.9M319 315.5h.9M319 321h.9M319 322h.9M319 323h.9M319 327h.9M319 329h.9M319.5 322h.9M319.5 323h.9M319.5 325.5h.9M319.5 327h.9M319.5 331h.9M320 323h.9M320 324h.9M320 325.5h.9M320 331h.9M320.5 321h.9M320.5 324h.9M320.5 331h.9M320.5 334h.9M321 323h.9M321 324h.9M321 325.5h.9M321 327h.9M321 329h.9M321.5 325.5h.9M321.5 329h.9M321.5 331h.9M322 324h.9M322 325.5h.9M322 329h.9M322 334h.9M322.5 323h.9M322.5 324h.9M322.5 325.5h.9M322.5 329h.9M322.5 331h.9M323 322h.9M323 323h.9M323 329h.9M323 331h.9M323.5 320h.9M323.5 327h.9M323.5 329h.9M323.5 334h.9M324 324h.9M324 325.5h.9M324 329h.9M324 331h.9M324.5 329h.9M324.5 331h.9M324.5 334h.9M324.5 337.5h.9M324.5 342h.9M325 324h.9M325 325.5h.9M325 327h.9M325 329h.9M325.5 322h.9M325.5 324h.9M325.5 327h.9M325.5 331h.9M325.5 337.5h.9M326 325.5h.9M326 329h.9M326 331h.9M326 337.5h.9M326.5 324h.9M326.5 327h.9M326.5 329h.9M326.5 331h.9M327 323h.9M327 329h.9M327 331h.9M327 337.5h.9M327.5 325.5h.9M327.5 329h.9M327.5 331h.9M327.5 334h.9M327.5 337.5h.9M328 323h.9M328 327h.9M328 331h.9M328 334h.9M328.5 322h.9M328.5 325.5h.9M328.5 327h.9M328.5 329h.9M328.5 337.5h.9M329 325.5h.9M329 329h.9M329 331h.9M329 337.5h.9M329.5 329h.9M329.5 331h.9M329.5 334h.9M330 325.5h.9M330 329h.9M330 331h.9M330 334h.9M330.5 329h.9M330.5 331h.9M330.5 334h.9M331 329h.9M331 331h.9M331 334h.9M331 337.5h.9M331 342h.9M331.5 325.5h.9M331.5 331h.9M331.5 334h.9M331.5 337.5h.9M331.5 342h.9M332 329h.9M332 331h.9M332 337.5h.9M332.5 325.5h.9M332.5 327h.9M332.5 329h.9M332.5 342h.9M333 325.5h.9M333 327h.9M333 329h.9M333 331h.9M333 334h.9M333 342h.9M333.5 329h.9M333.5 331h.9M333.5 334h.9M333.5 342h.9M334 325.5h.9M334 331h.9M334 337.5h.9M334 342h.9M334.5 327h.9M334.5 331h.9M334.5 342h.9M335 325.5h.9M335 331h.9M335 334h.9M335 337.5h.9M335.5 331h.9M335.5 342h.9M336 327h.9M336 331h.9M336 334h.9M336 337.5h.9M336 342h.9M336.5 321h.9M336.5 327h.9M336.5 329h.9M336.5 331h.9M336.5 334h.9M337 334h.9M337 337.5h.9M337 342h.9M337.5 323h.9M337.5 324h.9M337.5 331h.9M337.5 337.5h.9M338 325.5h.9M338 331h.9M338 337.5h.9M338 342h.9M338.5 329h.9M338.5 331h.9M338.5 337.5h.9M338.5 342h.9M339 325.5h.9M339 334h.9M339 337.5h.9M339 342h.9M339.5 329h.9M339.5 331h.9M339.5 342h.9M340 327h.9M340 329h.9M340 334h.9M340 337.5h.9M340 342h.9M340.5 329h.9M340.5 331h.9M340.5 334h.9M340.5 337.5h.9M340.5 342h.9M341 327h.9M341 329h.9M341 337.5h.9M341 342h.9M341.5 321h.9M341.5 331h.9M341.5 334h.9M341.5 337.5h.9M342 331h.9M342 334h.9M342 337.5h.9M342 342h.9M342.5 325.5h.9M342.5 329h.9M342.5 334h.9M343 327h.9M343 331h.9M343 342h.9M343.5 327h.9M343.5 331h.9M343.5 334h.9M343.5 337.5h.9M344 331h.9M344 334h.9M344 337.5h.9M344 342h.9M344.5 331h.9M344.5 334h.9M344.5 337.5h.9M345 323h.9M345 325.5h.9M345 334h.9M345 337.5h.9M345 342h.9M345.5 334h.9M345.5 337.5h.9M345.5 342h.9M346 331h.9M346 334h.9M346 337.5h.9M346 342h.9M346.5 334h.9M346.5 337.5h.9M347 331h.9M347 337.5h.9M347 342h.9M347.5 329h.9M347.5 331h.9M347.5 337.5h.9M347.5 342h.9M348 331h.9M348 337.5h.9M348 342h.9M348.5 322h.9M348.5 327h.9M348.5 334h.9M348.5 337.5h.9M349 327h.9M349 329h.9M349 331h.9M349 334h.9M349 342h.9M349.5 334h.9M349.5 337.5h.9M349.5 342h.9M350 331h.9M350 337.5h.9M350 342h.9M350.5 329h.9M350.5 334h.9M350.5 337.5h.9M351 331h.9M351 334h.9M351 342h.9M351.5 327h.9M351.5 329h.9M351.5 331h.9M351.5 334h.9M351.5 342h.9M352 324h.9M352 325.5h.9M352 334h.9M352 342h.9M352.5 324h.9M352.5 334h.9M352.5 337.5h.9M352.5 342h.9M353 329h.9M353 331h.9M353 334h.9M353 342h.9M353.5 329h.9M353.5 334h.9M353.5 337.5h.9M353.5 342h.9M354 331h.9M354 337.5h.9M354 342h.9M354.5 329h.9M354.5 331h.9M354.5 334h.9M354.5 337.5h.9M354.5 342h.9M355 325.5h.9M355 329h.9M355 337.5h.9M355.5 334h.9M355.5 337.5h.9M356 334h.9M356 337.5h.9M356 342h.9M356.5 334h.9M356.5 342h.9M357 329h.9M357 331h.9M357 334h.9M357 337.5h.9M357 342h.9M357.5 327h.9M357.5 334h.9M357.5 337.5h.9M357.5 342h.9M358 331h.9M358 334h.9M358 342h.9M358.5 329h.9M358.5 331h.9M358.5 334h.9M358.5 337.5h.9M359 325.5h.9M359 329h.9M359 331h.9M359 342h.9M359.5 329h.9M359.5 334h.9M359.5 337.5h.9M359.5 342h.9M360 331h.9M360 337.5h.9M360 342h.9M360.5 327h.9M360.5 331h.9M360.5 342h.9M361 327h.9M361 329h.9M361 331h.9M361 334h.9M361 337.5h.9M361.5 327h.9M361.5 331h.9M361.5 337.5h.9M362 329h.9M362 334h.9M362 337.5h.9M362 342h.9M362.5 329h.9M362.5 337.5h.9M362.5 342h.9M363 327h.9M363 337.5h.9M363 342h.9M363.5 325.5h.9M363.5 337.5h.9" stroke="#ff00ff" stroke-width="0.9" fill="none"/>
<path d="M238.5 240.6 238.9 240.6 239.3 240.6 239.8 240.8 240.2 241 240.6 241.2 241 241.5 241.4 241.9 241.9 242.3 242.3 242.7 242.7 243.1 243.1 243.5 243.5 243.9 243.9 244.3 244.4 244.7 244.8 245.1 245.2 245.4 245.6 245.8 246 246.2 246.4 246.5 246.9 246.9 247.3 247.3 247.7 247.7 248.1 248.1 248.5 248.5 249 248.9 249.4 249.3 249.8 249.8 250.2 250.2 250.6 250.6 251 251 251.5 251.5 251.9 251.9 252.3 252.3 252.7 252.8 253.1 253.2 253.5 253.6 254 254.1 254.4 254.5 254.8 255 255.2 255.4 255.6 255.9 256.1 256.3 256.5 256.8 256.9 257.2 257.3 257.7 257.7 258.2 258.1 258.6 258.6 259.1 259 259.6 259.4 260.1 259.8 260.6 260.2 261 260.6 261.5 261.1 262 261.5 262.5 261.9 263 262.3 263.5 262.7 264 263.2 264.5 263.6 265 264 265.5 264.4 266 264.8 266.5 265.2 267 265.7 267.5 266.1 268 266.5 268.5 266.9 269 267.3 269.5 267.7 270 268.2 270.5 268.6 271 269 271.5 269.4 272 269.8 272.5 270.3 272.9 270.7 273.4 271.1 273.9 271.5 274.4 271.9 274.9 272.3 275.4 272.8 275.9 273.2 276.4 273.6 276.9 274 277.4 274.4 277.9 274.8 278.4 275.3 278.9 275.7 279.3 276.1 279.8 276.5 280.3 276.9 280.8 277.4 281.3 277.8 281.8 278.2 282.3 278.6 282.8 279 283.3 279.4 283.8 279.9 284.3 280.3 284.8 280.7 285.3 281.1 285.8 281.5 286.3 281.9 286.8 282.4 287.3 282.8 287.8 283.2 288.3 283.6 288.8 284 289.3 284.5 289.7" stroke="#ff00ff" stroke-width="2.0" fill="none" stroke-linejoin="round"/>
<path d="M238 240.5h.9M238.5 240h.9M238.5 240.5h.9M239 240.5h.9M239 241h.9M239.5 241h.9M240 241h.9M240 241.5h.9M240.5 241.5h.9M241 241.5h.9M241 242h.9M241 242.5h.9M241.5 242.5h.9M241.5 243h.9M242 243h.9M242 243.5h.9M242.5 244h.9M243 244.5h.9M243 245h.9M243.5 245h.9M243.5 245.5h.9M243.5 246h.9M244 246h.9M244 246.5h.9M244.5 246.5h.9M244.5 247h.9M245 247.5h.9M245 248h.9M245.5 248h.9M245.5 248.5h.9M246 248.5h.9M246 249h.9M246 249.5h.9M246.5 249.5h.9M246.5 250h.9M247 250h.9M247 250.5h.9M247.5 250.5h.9M247.5 251h.9M247.5 251.5h.9M248 251.5h.9M248 252h.9M248.5 252h.9M248.5 252.5h.9M248.5 253h.9M249 253h.9M249 253.5h.9M249.5 254h.9M249.5 254.5h.9M249.5 255h.9M250 254.5h.9M250 255h.9M250.5 255.5h.9M250.5 256h.9M250.5 256.5h.9M251 256h.9M251 256.5h.9M251 257h.9M251.5 257h.9M251.5 257.5h.9M251.5 258h.9M252 258h.9M252 258.5h.9M252 259h.9M252.5 259h.9M252.5 259.5h.9M252.5 260h.9M253 260h.9M253 260.5h.9M253.5 261h.9M253.5 261.5h.9M254 261.5h.9M254 262h.9M254 262.5h.9M254.5 262.5h.9M254.5 263h.9M254.5 263.5h.9M255 263.5h.9M255 264h.9M255 264.5h.9M255 265h.9M255.5 264h.9M255.5 265h.9M256 265.5h.9M256 266h.9M256.5 266.5h.9M256.5 267h.9M256.5 267.5h.9M257 267h.9M257 267.5h.9M257 268h.9M257 268.5h.9M257 269.5h.9M257.5 268.5h.9M257.5 269h.9M257.5 269.5h.9M258 269h.9M258 269.5h.9M258 270h.9M258 270.5h.9M258.5 270h.9M258.5 270.5h.9M258.5 271.5h.9M259 270.5h.9M259 271.5h.9M259 272h.9M259.5 271.5h.9M259.5 272.5h.9M259.5 273h.9M259.5 273.5h.9M260 272.5h.9M260 273h.9M260 273.5h.9M260 274.5h.9M260.5 274h.9M260.5 274.5h.9M261 274h.9M261 274.5h.9M261 275.5h.9M261 276h.9M261.5 275.5h.9M261.5 276h.9M261.5 276.5h.9M262 276.5h.9M262 277h.9M262 277.5h.9M262.5 276h.9M262.5 277h.9M262.5 277.5h.9M262.5 278h.9M262.5 278.5h.9M262.5 279.5h.9M263 278.5h.9M263 279h.9M263 279.5h.9M263.5 278h.9M263.5 278.5h.9M263.5 279h.9M263.5 280h.9M263.5 280.5h.9M264 279h.9M264 279.5h.9M264 280h.9M264 280.5h.9M264.5 279.5h.9M264.5 280h.9M264.5 281h.9M264.5 281.5h.9M264.5 282h.9M265 280.5h.9M265 281h.9M265 281.5h.9M265 282.5h.9M265.5 281h.9M265.5 282.5h.9M265.5 283h.9M265.5 283.5h.9M266 282h.9M266 282.5h.9M266 283h.9M266 283.5h.9M266 284.5h.9M266.5 283.5h.9M266.5 284h.9M267 284h.9M267 284.5h.9M267 286h.9M267.5 285h.9M267.5 285.5h.9M267.5 286h.9M267.5 286.5h.9M268 286h.9M268 286.5h.9M268 287h.9M268.5 286h.9M268.5 287h.9M268.5 287.5h.9M268.5 288.5h.9M269 286.5h.9M269 287h.9M269 287.5h.9M269 288h.9M269 288.5h.9M269.5 288h.9M269.5 289h.9M269.5 290.5h.9M270 288.5h.9M270 289.5h.9M270 290h.9M270 290.5h.9M270 291.5h.9M270.5 289h.9M270.5 290.5h.9M270.5 291h.9M270.5 292h.9M271 289.5h.9M271 291.5h.9M271 292h.9M271.5 290h.9M271.5 290.5h.9M271.5 291h.9M271.5 292h.9M271.5 292.5h.9M271.5 293h.9M272 291.5h.9M272 292h.9M272 292.5h.9M272 294.5h.9M272.5 293h.9M272.5 294h.9M272.5 294.5h.9M272.5 296h.9M273 292h.9M273 293h.9M273 294.5h.9M273 296h.9M273.5 293h.9M273.5 293.5h.9M273.5 295h.9M273.5 295.5h.9M274 294h.9M274 295h.9M274 297h.9M274 298h.9M274.5 295h.9M274.5 296h.9M274.5 296.5h.9M274.5 297h.9M274.5 297.5h.9M275 295h.9M275 295.5h.9M275 296.5h.9M275 299h.9M275.5 296.5h.9M275.5 297.5h.9M275.5 298h.9M275.5 298.5h.9M275.5 299h.9M276 295.5h.9M276 296.5h.9M276 299h.9M276 299.5h.9M276 300h.9M276 300.5h.9M276.5 295h.9M276.5 297h.9M276.5 298h.9M276.5 299.5h.9M276.5 301h.9M277 299h.9M277 299.5h.9M277 300.5h.9M277 301h.9M277 301.5h.9M277.5 298h.9M277.5 299h.9M277.5 300h.9M277.5 300.5h.9M277.5 301h.9M278 299h.9M278 300h.9M278 300.5h.9M278 301h.9M278 303h.9M278.5 301h.9M278.5 301.5h.9M278.5 302h.9M278.5 304h.9M278.5 305h.9M279 301.5h.9M279 302.5h.9M279 303.5h.9M279 304.5h.9M279.5 303.5h.9M279.5 304h.9M279.5 304.5h.9M279.5 305h.9M279.5 306.5h.9M280 303h.9M280 303.5h.9M280 304.5h.9M280 307.5h.9M280 308h.9M280.5 302.5h.9M280.5 303h.9M280.5 303.5h.9M280.5 304h.9M280.5 305.5h.9M281 303h.9M281 304.5h.9M281 306.5h.9M281 308h.9M281 308.5h.9M281.5 305h.9M281.5 306.5h.9M281.5 307h.9M281.5 308h.9M282 305.5h.9M282 307h.9M282 307.5h.9M282 308h.9M282 309.5h.9M282.5 304h.9M282.5 306.5h.9M282.5 308h.9M282.5 309h.9M282.5 309.5h.9M283 306.5h.9M283 308.5h.9M283 309h.9M283 311h.9M283 312h.9M283.5 306.5h.9M283.5 311h.9M283.5 311.5h.9M283.5 313.5h.9M283.5 315h.9M284 305h.9M284 309.5h.9M284 310.5h.9M284 311h.9M284 317.5h.9M284.5 309h.9M284.5 311h.9M284.5 312h.9M285 308h.9M285 309h.9M285 311h.9M285 312h.9M285.5 307h.9M285.5 309.5h.9M285.5 311h.9M285.5 313h.9M285.5 315h.9M285.5 315.5h.9M286 311h.9M286 311.5h.9M286 314h.9M286 315h.9M286 316.5h.9M286 318h.9M286.5 310.5h.9M286.5 311h.9M286.5 311.5h.9M286.5 314h.9M287 311h.9M287 311.5h.9M287 313.5h.9M287 315h.9M287 315.5h.9M287 321h.9M287.5 311h.9M287.5 313h.9M287.5 314h.9M288 309h.9M288 310.5h.9M288 315h.9M288 315.5h.9M288 316h.9M288 319h.9M288.5 314h.9M288.5 316h.9M288.5 316.5h.9M288.5 317.5h.9M288.5 320h.9M288.5 321h.9M289 315h.9M289 318h.9M289 319h.9M289 320h.9M289.5 313h.9M289.5 315.5h.9M289.5 318h.9M289.5 319h.9M289.5 321h.9M290 316.5h.9M290 317.5h.9M290 318h.9M290 319h.9M290 322h.9M290.5 313h.9M290.5 316.5h.9M290.5 318h.9M290.5 319h.9M290.5 321h.9M291 317.5h.9M291 318h.9M291 321h.9M291 322h.9M291.5 318h.9M291.5 321h.9M291.5 324h.9M291.5 325.5h.9M291.5 327h.9M291.5 329h.9M292 317.5h.9M292 318h.9M292 319h.9M292 322h.9M292 323h.9M292.5 319h.9M292.5 321h.9M292.5 323h.9M292.5 324h.9M293 320h.9M293 322h.9M293 323h.9M293 324h.9M293.5 320h.9M293.5 323h.9M293.5 324h.9M293.5 327h.9M293.5 329h.9M294 315.5h.9M294 318h.9M294 321h.9M294 327h.9M294 334h.9M294.5 320h.9M294.5 322h.9M294.5 327h.9M294.5 329h.9M295 320h.9M295 321h.9M295 324h.9M295 325.5h.9M295 327h.9M295.5 321h.9M295.5 323h.9M295.5 329h.9M295.5 331h.9M295.5 334h.9M296 327h.9M296 329h.9M296 331h.9M296 337.5h.9M296 342h.9M296.5 323h.9M296.5 324h.9M296.5 325.5h.9M296.5 327h.9M296.5 331h.9M297 321h.9M297 324h.9M297 331h.9M297 334h.9M297 337.5h.9M297 342h.9M297.5 324h.9M297.5 329h.9M297.5 337.5h.9M297.5 342h.9M298 322h.9M298 325.5h.9M298 327h.9M298 331h.9M298.5 329h.9M298.5 331h.9M298.5 337.5h.9M298.5 342h.9M299 325.5h.9M299 327h.9M299 329h.9M299 334h.9M299.5 325.5h.9M299.5 329h.9M299.5 331h.9M299.5 337.5h.9M300 327h.9M300 329h.9M300 331h.9M300.5 322h.9M300.5 324h.9M300.5 331h.9M300.5 334h.9M301 325.5h.9M301 327h.9M301 329h.9M301 331h.9M301 334h.9M301 342h.9M301.5 327h.9M301.5 331h.9M301.5 334h.9M302 323h.9M302 325.5h.9M302 327h.9M302 342h.9M302.5 325.5h.9M302.5 334h.9M302.5 337.5h.9M303 327h.9M303 329h.9M303 337.5h.9M303.5 327h.9M303.5 331h.9M303.5 334h.9M303.5 337.5h.9M303.5 342h.9M304 327h.9M304 331h.9M304 334h.9M304 342h.9M304.5 322h.9M304.5 331h.9M304.5 334h.9M305 331h.9M305 334h.9M305 337.5h.9M305.5 331h.9M305.5 334h.9M305.5 337.5h.9M306 327h.9M306 331h.9M306 334h.9M306 342h.9M306.5 323h.9M306.5 331h.9M306.5 334h.9M306.5 342h.9M307 329h.9M307 331h.9M307 334h.9M307.5 331h.9M307.5 334h.9M307.5 342h.9M308 329h.9M308 331h.9M308 334h.9M308 342h.9M308.5 331h.9M308.5 334h.9M308.5 337.5h.9M309 331h.9M309 334h.9M309 342h.9M309.5 322h.9M309.5 331h.9M309.5 334h.9M309.5 337.5h.9M310 324h.9M310 329h.9M310 334h.9M310 342h.9M310.5 334h.9M310.5 337.5h.9M310.5 342h.9M311 329h.9M311 331h.9M311 334h.9M311 342h.9M311.5 331h.9M311.5 334h.9M311.5 342h.9M312 329h.9M312 334h.9M312 337.5h.9M312.5 329h.9M312.5 334h.9M312.5 342h.9M313 334h.9M313 337.5h.9M313 342h.9M313.5 329h.9M313.5 337.5h.9M313.5 342h.9M314 334h.9M314 337.5h.9M314 342h.9M314.5 331h.9M314.5 337.5h.9M314.5 342h.9M315 329h.9M315 334h.9M315.5 329h.9M315.5 334h.9M315.5 337.5h.9M315.5 342h.9M316 329h.9M316 331h.9M316 337.5h.9M316 342h.9M316.5 334h.9M316.5 342h.9M317 334h.9M317 342h.9M317.5 331h.9M317.5 337.5h.9M317.5 342h.9M318 334h.9M318 337.5h.9M318 342h.9M318.5 334h.9M318.5 342h.9M319 329h.9M319 331h.9M319 334h.9M319 342h.9M319.5 327h.9M319.5 334h.9M319.5 342h.9M320 334h.9M320 337.5h.9M320 342h.9M320.5 337.5h.9M320.5 342h.9M321 334h.9M321 337.5h.9M321 342h.9M321.5 329h.9M321.5 331h.9M321.5 334h.9M321.5 342h.9M322 329h.9M322 334h.9M322 342h.9M322.5 334h.9M322.5 342h.9M323 329h.9M323 334h.9M323 337.5h.9M323.5 334h.9M323.5 342h.9M324 329h.9M324 337.5h.9M324 342h.9M324.5 334h.9M324.5 342h.9M325 337.5h.9M325 342h.9M325.5 329h.9M325.5 331h.9M325.5 337.5h.9M326 334h.9M326 337.5h.9M326 342h.9M326.5 334h.9M326.5 337.5h.9M326.5 342h.9M327 331h.9M327 334h.9M327 337.5h.9M327 342h.9M327.5 331h.9M327.5 334h.9M327.5 337.5h.9M327.5 342h.9M328 331h.9M328 337.5h.9M328 342h.9M328.5 329h.9M328.5 331h.9M328.5 337.5h.9M329 342h.9M329.5 334h.9M329.5 337.5h.9M329.5 342h.9M330 329h.9M330 334h.9M330.5 334h.9M330.5 342h.9M331 334h.9M331 337.5h.9M331 342h.9M331.5 329h.9M331.5 331h.9M331.5 337.5h.9M331.5 342h.9M332 334h.9M332 337.5h.9M332 342h.9M332.5 331h.9M332.5 334h.9M332.5 342h.9M333 329h.9M333 331h.9M333 337.5h.9M333.5 337.5h.9M333.5 342h.9M334 334h.9M334 337.5h.9M334 342h.9M334.5 334h.9M334.5 337.5h.9M335 334h.9M335 342h.9M335.5 325.5h.9M335.5 331h.9M335.5 337.5h.9M335.5 342h.9M336 331h.9M336 334h.9M336 342h.9M336.5 342h.9M337 337.5h.9M337 342h.9M337.5 329h.9M337.5 334h.9M337.5 337.5h.9M337.5 342h.9M338 337.5h.9M338 342h.9M338.5 334h.9M338.5 337.5h.9M338.5 342h.9M339 331h.9M339 342h.9M339.5 329h.9M339.5 331h.9M339.5 334h.9M339.5 337.5h.9M340 334h.9M340 337.5h.9M340 342h.9M340.5 334h.9M340.5 342h.9M341 329h.9M341 337.5h.9M341.5 337.5h.9M341.5 342h.9M342 337.5h.9M342 342h.9M342.5 337.5h.9M342.5 342h.9M343 334h.9M343 342h.9M343.5 331h.9M343.5 334h.9M343.5 337.5h.9M343.5 342h.9M344 329h.9M344 337.5h.9M344 342h.9M344.5 334h.9M344.5 337.5h.9M344.5 342h.9M345 337.5h.9M345.5 329h.9M345.5 334h.9M345.5 337.5h.9M346 329h.9M346 337.5h.9M346 342h.9M346.5 331h.9M346.5 337.5h.9M346.5 342h.9M347 331h.9M347 334h.9M347 342h.9M347.5 342h.9M348 327h.9M348 334h.9M348 337.5h.9M348 342h.9M348.5 334h.9M348.5 337.5h.9M348.5 342h.9M349 331h.9M349 334h.9M349 337.5h.9M349.5 331h.9M349.5 337.5h.9M349.5 342h.9M350 337.5h.9M350 342h.9M350.5 337.5h.9M350.5 342h.9M351 329h.9M351 331h.9M351 334h.9M351 337.5h.9M351 342h.9M351.5 337.5h.9M351.5 342h.9M352 334h.9M352 342h.9M352.5 331h.9M352.5 337.5h.9M352.5 342h.9M353 334h.9M353 342h.9M353.5 337.5h.9M353.5 342h.9M354 337.5h.9M354 342h.9M354.5 334h.9M354.5 342h.9M355 337.5h.9M355 342h.9M355.5 337.5h.9M355.5 342h.9M356 334h.9M356 337.5h.9M356 342h.9M356.5 334h.9M356.5 342h.9M357 337.5h.9M357.5 334h.9M357.5 337.5h.9M357.5 342h.9M358 329h.9M358 331h.9M358 337.5h.9M358 342h.9M358.5 327h.9M358.5 329h.9M358.5 342h.9M359 334h.9M359 337.5h.9M359 342h.9M359.5 337.5h.9M359.5 342h.9M360 329h.9M360 331h.9M360 337.5h.9M360 342h.9M360.5 334h.9M360.5 337.5h.9M360.5 342h.9M361 334h.9M361 337.5h.9M361 342h.9M361.5 337.5h.9M361.5 342h.9M362 334h.9M362 342h.9M362.5 334h.9M362.5 337.5h.9M363 327h.9M363 331h.9M363 337.5h.9M363 342h.9M363.5 327h.9" stroke="#3b6ea5" stroke-width="0.9" fill="none"/>
<path d="M238.2 240.6 238.6 240.6 239 240.6 239.4 240.8 239.8 241 240.3 241.3 240.7 241.7 241.1 242.1 241.5 242.6 241.9 243.2 242.4 243.7 242.8 244.3 243.2 244.9 243.6 245.5 244 246.2 244.4 246.8 244.9 247.4 245.3 248.1 245.7 248.6 246.1 249.2 246.5 249.8 247 250.3 247.4 250.9 247.8 251.5 248.2 252.2 248.6 252.8 249.1 253.4 249.5 254.1 249.9 254.8 250.3 255.5 250.7 256.2 251.1 256.9 251.6 257.6 252 258.4 252.4 259.1 252.8 259.9 253.2 260.7 253.7 261.5 254.1 262.3 254.5 263.1 254.9 263.9 255.3 264.7 255.8 265.5 256.2 266.3 256.6 267.1 257 267.9 257.4 268.7 257.9 269.5 258.3 270.2 258.7 271 259.1 271.8 259.5 272.6 259.9 273.3 260.4 274.1 260.8 274.8 261.2 275.5 261.6 276.2 262 276.9 262.5 277.6 262.9 278.3 263.3 279 263.7 279.7 264.1 280.3 264.6 281 265 281.7 265.4 282.3 265.8 283 266.2 283.6 266.6 284.3 267.1 284.9 267.5 285.6 267.9 286.2 268.3 286.9 268.7 287.5 269.2 288.2 269.6 288.8 270 289.5 270.4 290.1" stroke="#3b6ea5" stroke-width="2.0" fill="none" stroke-linejoin="round"/>
<path d="M238 240.5h.9M238.5 240.5h.9M239 241h.9M239 241.5h.9M239 242h.9M239 242.5h.9M239.5 242.5h.9M239.5 243h.9M239.5 243.5h.9M239.5 244h.9M239.5 244.5h.9M239.5 245h.9M240 245.5h.9M240 246h.9M240 247h.9M240 247.5h.9M240.5 248h.9M240.5 248.5h.9M240.5 249h.9M240.5 249.5h.9M241 249.5h.9M241 250h.9M241 251h.9M241 251.5h.9M241.5 252.5h.9M241.5 253h.9M241.5 253.5h.9M241.5 254h.9M242 254.5h.9M242 255.5h.9M242 256h.9M242 257h.9M242.5 257h.9M242.5 257.5h.9M242.5 258h.9M242.5 259h.9M243 259.5h.9M243 260h.9M243 260.5h.9M243 261h.9M243.5 261.5h.9M243.5 262.5h.9M243.5 263h.9M243.5 263.5h.9M244 264h.9M244 264.5h.9M244 265.5h.9M244 266.5h.9M244.5 267h.9M244.5 268.5h.9M244.5 269h.9M245 268.5h.9M245 270h.9M245 270.5h.9M245 271.5h.9M245.5 271.5h.9M245.5 272h.9M245.5 273h.9M245.5 273.5h.9M245.5 274h.9M246 273.5h.9M246 274h.9M246 275h.9M246 276.5h.9M246 277h.9M246.5 277h.9M246.5 277.5h.9M246.5 278.5h.9M246.5 279.5h.9M247 280h.9M247 280.5h.9M247 281h.9M247 282h.9M247.5 281.5h.9M247.5 282h.9M247.5 282.5h.9M247.5 283.5h.9M247.5 284.5h.9M248 284h.9M248 284.5h.9M248 285h.9M248 286.5h.9M248.5 286h.9M248.5 287.5h.9M248.5 288h.9M248.5 288.5h.9M248.5 289h.9M249 289.5h.9M249 290.5h.9M249 291h.9M249 291.5h.9M249.5 290.5h.9M249.5 292h.9M249.5 292.5h.9M249.5 293.5h.9M250 294.5h.9M250 295h.9M250 296h.9M250 297h.9M250 297.5h.9M250.5 296h.9M250.5 296.5h.9M250.5 297.5h.9M250.5 299h.9M250.5 299.5h.9M251 296h.9M251 299h.9M251 300h.9M251 302h.9M251 303h.9M251.5 301h.9M251.5 302.5h.9M251.5 304h.9M251.5 305.5h.9M252 303.5h.9M252 304h.9M252 304.5h.9M252 305h.9M252 305.5h.9M252.5 305h.9M252.5 305.5h.9M252.5 307.5h.9M252.5 309h.9M252.5 309.5h.9M253 306.5h.9M253 307.5h.9M253 308h.9M253 309h.9M253 312h.9M253.5 308h.9M253.5 309h.9M253.5 311h.9M253.5 313.5h.9M253.5 315h.9M254 308h.9M254 310.5h.9M254 311h.9M254 312.5h.9M254 315h.9M254.5 313.5h.9M254.5 315h.9M254.5 315.5h.9M254.5 316h.9M254.5 316.5h.9M254.5 321h.9M255 313.5h.9M255 315.5h.9M255 316.5h.9M255 319h.9M255 320h.9M255 322h.9M255.5 314h.9M255.5 315.5h.9M255.5 319h.9M255.5 322h.9M255.5 323h.9M256 315.5h.9M256 318h.9M256 321h.9M256 323h.9M256 325.5h.9M256.5 325.5h.9M256.5 329h.9M256.5 331h.9M256.5 334h.9M257 323h.9M257 324h.9M257 325.5h.9M257 327h.9M257 329h.9M257 334h.9M257.5 323h.9M257.5 324h.9M257.5 325.5h.9M257.5 327h.9M257.5 331h.9M258 324h.9M258 325.5h.9M258 329h.9M258 342h.9M258.5 325.5h.9M258.5 329h.9M258.5 331h.9M258.5 334h.9M258.5 342h.9M259 329h.9M259 334h.9M259 337.5h.9M259 342h.9M259.5 325.5h.9M259.5 331h.9M259.5 337.5h.9M259.5 342h.9M260 334h.9M260 337.5h.9M260 342h.9M260.5 329h.9M260.5 331h.9M260.5 334h.9M260.5 342h.9M261 334h.9M261 342h.9M261.5 334h.9M261.5 337.5h.9M261.5 342h.9M262 334h.9M262 337.5h.9M262.5 331h.9M262.5 342h.9M263 342h.9M263.5 337.5h.9M263.5 342h.9M264 337.5h.9M264 342h.9M264.5 337.5h.9M265 334h.9M265 337.5h.9M265 342h.9M265.5 337.5h.9M265.5 342h.9M266 342h.9M266.5 342h.9M267 337.5h.9M267 342h.9M267.5 342h.9M268 342h.9M268.5 342h.9M269 342h.9M269.5 337.5h.9M270 342h.9M270.5 334h.9M271.5 342h.9M272 337.5h.9M272 342h.9M272.5 342h.9M273.5 337.5h.9M275 342h.9M275.5 337.5h.9M276 342h.9M277 342h.9M279 337.5h.9M280.5 342h.9M281.5 337.5h.9M281.5 342h.9M282 342h.9M282.5 342h.9M283 342h.9M283.5 337.5h.9M283.5 342h.9M284 342h.9M285.5 337.5h.9M285.5 342h.9M286 342h.9M286.5 342h.9M287.5 337.5h.9M287.5 342h.9M289 342h.9M289.5 334h.9M290.5 342h.9M291 342h.9M294 342h.9M295 342h.9M297 342h.9M297.5 342h.9M298 342h.9M298.5 342h.9M299 337.5h.9M300.5 342h.9M301.5 334h.9M302.5 342h.9M303 337.5h.9M303 342h.9M303.5 337.5h.9M303.5 342h.9M304.5 342h.9M305 342h.9M307.5 337.5h.9M307.5 342h.9M308 337.5h.9M308 342h.9M309.5 342h.9M310 342h.9M312 342h.9M312.5 337.5h.9M313 342h.9M314 337.5h.9M314 342h.9M315 342h.9M315.5 342h.9M316 342h.9M317 342h.9M318 342h.9M318.5 334h.9M318.5 342h.9M320 342h.9M320.5 342h.9M321 342h.9M322.5 342h.9M323 342h.9M323.5 342h.9M325 342h.9M326 342h.9M326.5 337.5h.9M327 342h.9M327.5 342h.9M328 337.5h.9M328 342h.9M329.5 337.5h.9M330 337.5h.9M330.5 342h.9M331.5 342h.9M332 342h.9M332.5 337.5h.9M332.5 342h.9M333 342h.9M333.5 337.5h.9M334.5 342h.9M335 342h.9M335.5 342h.9M336.5 334h.9M337 342h.9M337.5 337.5h.9M337.5 342h.9M338 342h.9M338.5 337.5h.9M338.5 342h.9M339.5 337.5h.9M341 342h.9M341.5 342h.9M343 337.5h.9M343 342h.9M343.5 342h.9M344 337.5h.9M344.5 342h.9M346.5 337.5h.9M348.5 342h.9M349.5 342h.9M350 337.5h.9M350 342h.9M351 337.5h.9M351 342h.9M351.5 337.5h.9M352 334h.9M352 342h.9M352.5 337.5h.9M353.5 342h.9M354.5 334h.9M355 337.5h.9M355 342h.9M355.5 334h.9M355.5 342h.9M356 342h.9M356.5 342h.9M359.5 334h.9M359.5 342h.9M361.5 342h.9M362.5 337.5h.9M362.5 342h.9M363 342h.9" stroke="#5a9a32" stroke-width="0.9" fill="none"/>
<path d="M238.2 240.6 238.6 240.6 239 241.6 239.4 243.5 239.8 245.6 240.3 247.5 240.7 249.4 241.1 251.3 241.5 253.3 241.9 255.3 242.4 257.3 242.8 259.3 243.2 261.4 243.6 263.4 244 265.5 244.4 267.5 244.9 269.6 245.3 271.7 245.7 273.8 246.1 275.9 246.5 278 247 280.1 247.4 282.2 247.8 284.3 248.2 286.4 248.6 288.5" stroke="#5a9a32" stroke-width="1.3" fill="none" stroke-linejoin="round"/>
<rect x="287.1" y="232.4" width="47.3" height="29.6" fill="#fff" stroke="#555" stroke-width="0.9"/>
<text x="292" y="244.7" font-size="10" fill="#222" textLength="36.8" lengthAdjust="spacingAndGlyphs" >Increase</text>
<text x="296.5" y="256" font-size="13" fill="#222" >&#964;</text>
<text x="302.2" y="259" font-size="8.2" fill="#222" textLength="24.1" lengthAdjust="spacingAndGlyphs" >540nm</text>
<path d="M239.7 292.3 L278.4 249.7 M270.9 252.3 L278.4 249.7 L276.5 257.6" stroke="#111" stroke-width="1.1" fill="none" stroke-linecap="round" stroke-linejoin="round"/>
<path d="M417.4 350.7 V240.3 M417 350.3 H555.4" stroke="#333" stroke-width="0.9" fill="none"/>
<path d="M417.4 350.3 h-1.8 M417.4 342.1 h-1 M417.4 337.3 h-1 M417.4 333.9 h-1 M417.4 331.2 h-1 M417.4 329.1 h-1 M417.4 327.2 h-1 M417.4 325.6 h-1 M417.4 324.2 h-1 M417.4 323 h-1.8 M417.4 314.8 h-1 M417.4 310 h-1 M417.4 306.6 h-1 M417.4 303.9 h-1 M417.4 301.8 h-1 M417.4 299.9 h-1 M417.4 298.3 h-1 M417.4 296.9 h-1 M417.4 295.7 h-1.8 M417.4 287.5 h-1 M417.4 282.7 h-1 M417.4 279.3 h-1 M417.4 276.6 h-1 M417.4 274.5 h-1 M417.4 272.6 h-1 M417.4 271 h-1 M417.4 269.6 h-1 M417.4 268.4 h-1.8 M417.4 260.2 h-1 M417.4 255.4 h-1 M417.4 252 h-1 M417.4 249.3 h-1 M417.4 247.2 h-1 M417.4 245.3 h-1 M417.4 243.7 h-1 M417.4 242.3 h-1 M417.4 241.1 h-1.8 M417.4 350.3 v2.2 M428.9 350.3 v1.4 M440.3 350.3 v2.2 M451.8 350.3 v1.4 M463.3 350.3 v2.2 M474.7 350.3 v1.4 M486.2 350.3 v2.2 M497.7 350.3 v1.4 M509.1 350.3 v2.2 M520.6 350.3 v1.4 M532 350.3 v2.2 M543.5 350.3 v1.4 M555 350.3 v2.2" stroke="#333" stroke-width="0.8" fill="none"/>
<text x="410" y="353.4" font-size="8.2" fill="#3a3a3a" text-anchor="end" textLength="7.5" lengthAdjust="spacingAndGlyphs" >10</text>
<text x="410.3" y="349.8" font-size="5.8" fill="#3a3a3a" >0</text>
<text x="410" y="326.1" font-size="8.2" fill="#3a3a3a" text-anchor="end" textLength="7.5" lengthAdjust="spacingAndGlyphs" >10</text>
<text x="410.3" y="322.5" font-size="5.8" fill="#3a3a3a" >1</text>
<text x="410" y="298.8" font-size="8.2" fill="#3a3a3a" text-anchor="end" textLength="7.5" lengthAdjust="spacingAndGlyphs" >10</text>
<text x="410.3" y="295.2" font-size="5.8" fill="#3a3a3a" >2</text>
<text x="410" y="271.5" font-size="8.2" fill="#3a3a3a" text-anchor="end" textLength="7.5" lengthAdjust="spacingAndGlyphs" >10</text>
<text x="410.3" y="267.9" font-size="5.8" fill="#3a3a3a" >3</text>
<text x="410" y="244.2" font-size="8.2" fill="#3a3a3a" text-anchor="end" textLength="7.5" lengthAdjust="spacingAndGlyphs" >10</text>
<text x="410.3" y="240.6" font-size="5.8" fill="#3a3a3a" >4</text>
<text x="417.4" y="360.6" font-size="9.6" fill="#333" text-anchor="middle" >0</text>
<text x="440.3" y="360.6" font-size="9.6" fill="#333" text-anchor="middle" >1</text>
<text x="463.3" y="360.6" font-size="9.6" fill="#333" text-anchor="middle" >2</text>
<text x="486.2" y="360.6" font-size="9.6" fill="#333" text-anchor="middle" >3</text>
<text x="509.1" y="360.6" font-size="9.6" fill="#333" text-anchor="middle" >4</text>
<text x="532" y="360.6" font-size="9.6" fill="#333" text-anchor="middle" >5</text>
<text x="555" y="360.6" font-size="9.6" fill="#333" text-anchor="middle" >6</text>
<text x="486.7" y="373" font-size="10" fill="#333" text-anchor="middle" textLength="41.7" lengthAdjust="spacingAndGlyphs" >Time / ms</text>
<text transform="translate(400.1 335.2) rotate(-90)" font-size="10.2" fill="#333" textLength="80" lengthAdjust="spacingAndGlyphs">Counts per second</text>
<text x="367.2" y="243.3" font-size="16" fill="#000" >g)</text>
<path d="M419.5 317.5h.9M419.5 324.5h.9M419.5 329.5h.9M419.5 332.5h.9M419.5 345.5h.9M420 307h.9M420 308h.9M420 312.5h.9M420 313h.9M420 315.5h.9M420 318h.9M420.5 297.5h.9M420.5 298h.9M420.5 300h.9M420.5 300.5h.9M420.5 304h.9M420.5 304.5h.9M421 290h.9M421 291.5h.9M421 292.5h.9M421 294h.9M421 296.5h.9M421 297.5h.9M421.5 282.5h.9M421.5 283.5h.9M421.5 285.5h.9M421.5 286h.9M421.5 286.5h.9M421.5 288.5h.9M421.5 289h.9M422 275.5h.9M422 276h.9M422 277h.9M422 278.5h.9M422 279h.9M422 280.5h.9M422.5 268.5h.9M422.5 270h.9M422.5 271h.9M422.5 272h.9M422.5 272.5h.9M422.5 273.5h.9M422.5 274h.9M423 262.5h.9M423 263h.9M423 264h.9M423 265h.9M423 265.5h.9M423 266h.9M423 267h.9M423 268h.9M423.5 257.5h.9M423.5 258h.9M423.5 258.5h.9M423.5 259.5h.9M423.5 260h.9M423.5 261h.9M423.5 261.5h.9M424 253.5h.9M424 254h.9M424 254.5h.9M424 255h.9M424 255.5h.9M424 256h.9M424 257h.9M424.5 250h.9M424.5 250.5h.9M424.5 251h.9M424.5 251.5h.9M424.5 252h.9M424.5 252.5h.9M424.5 253h.9M425 247.5h.9M425 248h.9M425 248.5h.9M425 249h.9M425 250h.9M425.5 245.5h.9M425.5 246h.9M425.5 246.5h.9M425.5 247h.9M426 244.5h.9M426 245h.9M426 245.5h.9M426.5 243.5h.9M426.5 244h.9M427 242.5h.9M427 243h.9M427.5 242h.9M427.5 242.5h.9" stroke="#5a9a32" stroke-width="0.9" fill="none"/>
<path d="M420.2 307.8 420.3 304.8 420.4 302.1 420.6 299.6 420.7 297.1 420.9 294.8 421 292.5 421.2 290.4 421.3 288.3 421.4 286.2 421.6 284.1 421.7 282 421.9 280 422 278 422.2 276 422.3 274 422.4 272.2 422.6 270.3 422.7 268.6 422.9 266.8 423 265 423.2 263.3 423.3 261.7 423.4 260.2 423.6 258.8 423.7 257.5 423.9 256.3 424 255.1 424.2 254 424.3 252.8 424.4 251.8 424.6 250.8 424.7 249.9 424.9 249 425 248.3 425.2 247.6 425.3 247 425.4 246.5 425.6 246 425.7 245.6 425.9 245.1 426 244.7 426.2 244.4 426.3 244 426.4 243.7 426.6 243.5 426.7 243.2 426.9 243 427 242.9 427.1 242.7 427.3 242.5 427.4 242.4 427.6 242.3 427.7 242.2" stroke="#5a9a32" stroke-width="1.3" fill="none" stroke-linejoin="round"/>
<path d="M417.5 327h.9M417.5 329h.9M417.5 331h.9M417.5 334h.9M418 327h.9M418 329h.9M418 334h.9M418 337.5h.9M418.5 323h.9M418.5 325.5h.9M418.5 331h.9M418.5 334h.9M418.5 342h.9M419 319h.9M419 327h.9M419 329h.9M419 334h.9M419 337.5h.9M419 342h.9M419.5 306.5h.9M419.5 309h.9M419.5 310h.9M419.5 311h.9M419.5 312h.9M419.5 313h.9M419.5 317.5h.9M419.5 320h.9M420 295.5h.9M420 298h.9M420 301h.9M420 301.5h.9M420 303.5h.9M420 304h.9M420.5 288.5h.9M420.5 291.5h.9M420.5 293h.9M420.5 294.5h.9M420.5 295h.9M420.5 296h.9M421 282h.9M421 284h.9M421 284.5h.9M421 285.5h.9M421 286h.9M421 288h.9M421.5 274.5h.9M421.5 275h.9M421.5 276.5h.9M421.5 278h.9M421.5 279h.9M421.5 280.5h.9M421.5 281h.9M421.5 281.5h.9M422 268h.9M422 269.5h.9M422 270.5h.9M422 271.5h.9M422 272.5h.9M422 273h.9M422 274h.9M422.5 263h.9M422.5 264h.9M422.5 264.5h.9M422.5 266h.9M422.5 267h.9M422.5 268.5h.9M423 257.5h.9M423 258h.9M423 258.5h.9M423 259.5h.9M423 260h.9M423 261h.9M423 262h.9M423.5 253h.9M423.5 254h.9M423.5 255h.9M423.5 255.5h.9M423.5 256h.9M423.5 256.5h.9M424 250h.9M424 250.5h.9M424 251h.9M424 252h.9M424 253h.9M424.5 247.5h.9M424.5 248h.9M424.5 249h.9M424.5 249.5h.9M425 245.5h.9M425 246h.9M425 246.5h.9M425 247h.9M425 247.5h.9M425.5 244h.9M425.5 244.5h.9M425.5 245h.9M426 243.5h.9M426 244h.9M426 244.5h.9M426.5 243.5h.9M427 243h.9M427 243.5h.9M427.5 242.5h.9M427.5 243h.9M428 242.5h.9M428 243h.9M428.5 242.5h.9M428.5 243h.9M429 242.5h.9" stroke="#3b6ea5" stroke-width="0.9" fill="none"/>
<path d="M419.7 307.9 419.8 304.3 420 301.2 420.2 298.1 420.3 295.3 420.5 292.6 420.7 290.1 420.8 287.6 421 285.1 421.2 282.6 421.4 280.1 421.5 277.7 421.7 275.3 421.9 273 422 270.8 422.2 268.7 422.4 266.6 422.6 264.5 422.7 262.5 422.9 260.7 423.1 258.9 423.2 257.3 423.4 255.8 423.6 254.3 423.7 253 423.9 251.7 424.1 250.5 424.3 249.5 424.4 248.7 424.6 247.9 424.8 247.1 424.9 246.4 425.1 245.8 425.3 245.2 425.5 244.8 425.6 244.5 425.8 244.2 426 244.1 426.1 243.9 426.3 243.7 426.5 243.6 426.6 243.4 426.8 243.3 427 243.2 427.2 243.1 427.3 243 427.5 242.9 427.7 242.9 427.8 242.8 428 242.7 428.2 242.7 428.4 242.6 428.5 242.6 428.7 242.6 428.9 242.5" stroke="#3b6ea5" stroke-width="1.3" fill="none" stroke-linejoin="round"/>
<path d="M417.5 327h.9M417.5 331h.9M417.5 334h.9M417.5 337.5h.9M418 327h.9M418 329h.9M418 334h.9M418 337.5h.9M418 342h.9M418.5 324h.9M418.5 327h.9M418.5 329h.9M418.5 337.5h.9M419 323h.9M419 325.5h.9M419 327h.9M419 331h.9M419 334h.9M419.5 322h.9M419.5 323h.9M419.5 325.5h.9M419.5 329h.9M419.5 334h.9M419.5 337.5h.9M420 306.5h.9M420 307h.9M420 308.5h.9M420 309h.9M420 310h.9M420 311h.9M420 318h.9M420.5 296h.9M420.5 297.5h.9M420.5 298.5h.9M420.5 300h.9M420.5 301.5h.9M420.5 304.5h.9M420.5 305h.9M421 291h.9M421 292h.9M421 292.5h.9M421 295h.9M421 297.5h.9M421.5 282h.9M421.5 283h.9M421.5 283.5h.9M421.5 286h.9M421.5 286.5h.9M421.5 287h.9M421.5 287.5h.9M422 274.5h.9M422 275.5h.9M422 277.5h.9M422 278.5h.9M422 280.5h.9M422 281h.9M422.5 269h.9M422.5 269.5h.9M422.5 271.5h.9M422.5 272.5h.9M422.5 274h.9M422.5 274.5h.9M423 262.5h.9M423 263.5h.9M423 264h.9M423 264.5h.9M423 265.5h.9M423 267h.9M423 268h.9M423.5 257.5h.9M423.5 258.5h.9M423.5 260h.9M423.5 261h.9M423.5 261.5h.9M424 253.5h.9M424 254h.9M424 254.5h.9M424 255.5h.9M424 256h.9M424 256.5h.9M424.5 250h.9M424.5 250.5h.9M424.5 251.5h.9M424.5 252h.9M424.5 252.5h.9M425 247.5h.9M425 248h.9M425 248.5h.9M425 249h.9M425 249.5h.9M425.5 245.5h.9M425.5 246h.9M425.5 246.5h.9M425.5 247h.9M426 244.5h.9M426 245h.9M426.5 244h.9M426.5 244.5h.9M427 243.5h.9M427 244h.9M427.5 243h.9M427.5 243.5h.9M428 243h.9M428.5 242.5h.9M428.5 243h.9M429 242.5h.9M429 243h.9M429.5 242.5h.9M429.5 243h.9M430 242.5h.9" stroke="#ff00ff" stroke-width="0.9" fill="none"/>
<path d="M420.2 306.7 420.4 303.1 420.6 299.8 420.8 296.6 420.9 293.7 421.1 291 421.3 288.3 421.5 285.7 421.7 283 421.8 280.4 422 277.8 422.2 275.3 422.4 272.8 422.6 270.5 422.8 268.2 422.9 266 423.1 263.8 423.3 261.8 423.5 259.8 423.7 258.1 423.8 256.4 424 254.8 424.2 253.3 424.4 251.9 424.6 250.7 424.7 249.6 424.9 248.7 425.1 247.9 425.3 247.1 425.5 246.3 425.7 245.7 425.8 245.1 426 244.7 426.2 244.4 426.4 244.1 426.6 243.9 426.7 243.8 426.9 243.6 427.1 243.5 427.3 243.4 427.5 243.2 427.7 243.2 427.8 243.1 428 243 428.2 243 428.4 242.9 428.6 242.8 428.7 242.8 428.9 242.7 429.1 242.7 429.3 242.7 429.5 242.6 429.6 242.6 429.8 242.5 430 242.5" stroke="#ff00ff" stroke-width="1.3" fill="none" stroke-linejoin="round"/>
<path d="M417.5 325.5h.9M417.5 327h.9M417.5 334h.9M417.5 342h.9M418 324h.9M418 325.5h.9M418 327h.9M418 331h.9M418 334h.9M418.5 325.5h.9M418.5 327h.9M418.5 329h.9M418.5 331h.9M419 324h.9M419 325.5h.9M419 327h.9M419 329h.9M419 334h.9M419 337.5h.9M419.5 312.5h.9M419.5 315.5h.9M419.5 322h.9M419.5 323h.9M419.5 324h.9M419.5 325.5h.9M419.5 329h.9M419.5 334h.9M420 303.5h.9M420 306.5h.9M420 307h.9M420 310h.9M420 311h.9M420 312h.9M420.5 298h.9M420.5 302h.9M420.5 302.5h.9M420.5 303h.9M421 290.5h.9M421 291.5h.9M421 292h.9M421 293.5h.9M421 294.5h.9M421 296.5h.9M421.5 282.5h.9M421.5 283h.9M421.5 283.5h.9M421.5 284h.9M421.5 285h.9M421.5 286.5h.9M421.5 287h.9M421.5 289h.9M422 274.5h.9M422 276h.9M422 276.5h.9M422 278h.9M422 280h.9M422 281h.9M422.5 269h.9M422.5 269.5h.9M422.5 271h.9M422.5 271.5h.9M422.5 272h.9M422.5 273.5h.9M422.5 274.5h.9M423 262h.9M423 263h.9M423 263.5h.9M423 265h.9M423 265.5h.9M423 266h.9M423 267.5h.9M423 268h.9M423.5 257h.9M423.5 258h.9M423.5 258.5h.9M423.5 259h.9M423.5 260h.9M423.5 261h.9M423.5 262h.9M424 253h.9M424 254h.9M424 254.5h.9M424 255h.9M424 255.5h.9M424 256.5h.9M424.5 250h.9M424.5 250.5h.9M424.5 251.5h.9M424.5 252.5h.9M424.5 253h.9M425 247h.9M425 247.5h.9M425 248h.9M425 248.5h.9M425 249h.9M425 249.5h.9M425.5 245.5h.9M425.5 246h.9M425.5 246.5h.9M425.5 247h.9M426 244h.9M426 244.5h.9M426 245h.9M426 245.5h.9M426.5 244h.9M426.5 244.5h.9M427 243h.9M427 243.5h.9M427 244h.9M427.5 243h.9M427.5 243.5h.9M428 243h.9M428 243.5h.9M428.5 242.5h.9M428.5 243h.9M429 242.5h.9M429 243h.9M429.5 242.5h.9M430 242h.9M430 242.5h.9M430.5 242.5h.9M431 242.5h.9" stroke="#800080" stroke-width="0.9" fill="none"/>
<path d="M420.1 309.1 420.3 304.7 420.5 301 420.7 297.4 420.9 294.1 421.1 291.1 421.3 288.1 421.5 285.2 421.7 282.2 421.9 279.3 422.1 276.5 422.3 273.8 422.5 271.2 422.7 268.6 422.9 266.2 423.1 263.8 423.3 261.5 423.5 259.4 423.7 257.5 423.9 255.7 424.1 254 424.3 252.4 424.5 250.9 424.7 249.7 424.9 248.7 425.1 247.8 425.3 246.9 425.5 246.1 425.7 245.4 425.9 244.8 426.1 244.5 426.3 244.2 426.5 244 426.7 243.8 426.9 243.6 427.1 243.5 427.3 243.3 427.5 243.2 427.7 243.1 427.9 243 428.1 243 428.3 242.9 428.5 242.8 428.7 242.8 428.9 242.7 429.1 242.7 429.4 242.6 429.6 242.6 429.8 242.5 430 242.5 430.2 242.5 430.4 242.5 430.6 242.4 430.8 242.4 431 242.4 431.2 242.4" stroke="#800080" stroke-width="1.3" fill="none" stroke-linejoin="round"/>
<path d="M431 242.5h.9M431.5 242h.9M431.5 242.5h.9M432 242h.9M432 242.5h.9M432.5 242h.9M432.5 242.5h.9M433 242h.9M433 242.5h.9M433.5 242.5h.9M434 242.5h.9M434.5 242.5h.9M434.5 243h.9M435 242.5h.9M435 243h.9M435.5 242.5h.9M435.5 243h.9M436 243h.9M436.5 243h.9M436.5 243.5h.9M437 243.5h.9M437 244h.9M437.5 243.5h.9M437.5 244h.9M438 244h.9M438 244.5h.9M438.5 244.5h.9M439 244.5h.9M439 245h.9M439.5 245h.9M440 245h.9M440 245.5h.9M440.5 245.5h.9M440.5 246h.9M441 245.5h.9M441 246h.9M441 246.5h.9M441.5 246h.9M441.5 246.5h.9M442 246h.9M442 246.5h.9M442.5 246.5h.9M442.5 247h.9M443 247h.9M443 247.5h.9M443.5 247h.9M443.5 247.5h.9M444 247.5h.9M444 248h.9M444.5 248h.9M444.5 248.5h.9M445 248h.9M445 248.5h.9M445 249h.9M445.5 248h.9M445.5 248.5h.9M445.5 249h.9M446 249h.9M446 249.5h.9M446.5 249h.9M446.5 249.5h.9M447 249.5h.9M447 250h.9M447.5 250h.9M447.5 250.5h.9M448 250h.9M448 250.5h.9M448.5 250.5h.9M448.5 251h.9M449 251h.9M449 251.5h.9M449.5 251h.9M449.5 251.5h.9M449.5 252h.9M450 251.5h.9M450 252h.9M450.5 252h.9M450.5 252.5h.9M451 252h.9M451 252.5h.9M451.5 253h.9M452 253h.9M452 253.5h.9M452.5 253.5h.9M452.5 254h.9M453 254h.9M453.5 254h.9M453.5 254.5h.9M453.5 255h.9M454 254.5h.9M454 255h.9M454.5 255h.9M454.5 255.5h.9M455 255h.9M455 255.5h.9M455 256h.9M455.5 255.5h.9M455.5 256h.9M456 256h.9M456 256.5h.9M456.5 256h.9M456.5 256.5h.9M456.5 257h.9M457 256.5h.9M457 257h.9M457.5 257h.9M457.5 257.5h.9M458 257.5h.9M458 258h.9M458.5 257.5h.9M458.5 258h.9M458.5 258.5h.9M459 258h.9M459 258.5h.9M459 259h.9M459.5 259h.9M459.5 259.5h.9M460 259h.9M460 259.5h.9M460 260h.9M460.5 259h.9M460.5 259.5h.9M460.5 260h.9M460.5 260.5h.9M461 259.5h.9M461 260h.9M461 260.5h.9M461.5 260h.9M461.5 260.5h.9M462 260h.9M462 260.5h.9M462 261h.9M462.5 261h.9M462.5 261.5h.9M463 261.5h.9M463 262h.9M463.5 261.5h.9M463.5 262h.9M464 262h.9M464 262.5h.9M464 263h.9M464.5 262.5h.9M464.5 263h.9M464.5 263.5h.9M465 263h.9M465 263.5h.9M465.5 262.5h.9M465.5 263.5h.9M465.5 264h.9M466 263.5h.9M466 264h.9M466 264.5h.9M466.5 264h.9M466.5 264.5h.9M466.5 265h.9M467 264.5h.9M467 265h.9M467 265.5h.9M467.5 265h.9M467.5 265.5h.9M467.5 266h.9M468 265.5h.9M468 266h.9M468 266.5h.9M468.5 266h.9M468.5 266.5h.9M469 266h.9M469 266.5h.9M469 267h.9M469.5 266.5h.9M469.5 267h.9M469.5 267.5h.9M470 267h.9M470 267.5h.9M470 268h.9M470.5 267.5h.9M470.5 268h.9M470.5 268.5h.9M471 268h.9M471 268.5h.9M471 269h.9M471.5 268h.9M471.5 268.5h.9M471.5 269h.9M472 268.5h.9M472 269h.9M472 269.5h.9M472.5 269h.9M472.5 269.5h.9M472.5 270h.9M473 270h.9M473 270.5h.9M473.5 270h.9M473.5 270.5h.9M473.5 271h.9M474 271h.9M474 271.5h.9M474.5 270.5h.9M474.5 271h.9M474.5 271.5h.9M474.5 272.5h.9M475 271.5h.9M475 272h.9M475 272.5h.9M475.5 271.5h.9M475.5 272h.9M475.5 272.5h.9M475.5 273h.9M476 272h.9M476 272.5h.9M476 273h.9M476 273.5h.9M476.5 272.5h.9M476.5 273h.9M476.5 273.5h.9M476.5 274.5h.9M477 273h.9M477 273.5h.9M477 274h.9M477 274.5h.9M477.5 273.5h.9M477.5 274h.9M477.5 274.5h.9M477.5 275.5h.9M478 274h.9M478 274.5h.9M478 275h.9M478 275.5h.9M478.5 274h.9M478.5 274.5h.9M478.5 275h.9M478.5 275.5h.9M479 274h.9M479 274.5h.9M479 275h.9M479 275.5h.9M479 276h.9M479.5 275h.9M479.5 275.5h.9M479.5 276.5h.9M480 276h.9M480 276.5h.9M480.5 276h.9M480.5 277h.9M480.5 277.5h.9M481 276.5h.9M481 277h.9M481 277.5h.9M481 278h.9M481 278.5h.9M481.5 277h.9M481.5 277.5h.9M481.5 278h.9M481.5 278.5h.9M482 277h.9M482 277.5h.9M482 278h.9M482.5 277.5h.9M482.5 278h.9M482.5 278.5h.9M483 278h.9M483 278.5h.9M483 279h.9M483.5 278h.9M483.5 278.5h.9M483.5 279h.9M483.5 279.5h.9M484 279h.9M484 279.5h.9M484 280h.9M484 281h.9M484.5 279h.9M484.5 280h.9M484.5 280.5h.9M484.5 281.5h.9M485 280h.9M485 280.5h.9M485 281h.9M485.5 280.5h.9M485.5 281h.9M485.5 281.5h.9M486 281h.9M486 281.5h.9M486 282h.9M486.5 280.5h.9M486.5 281h.9M486.5 281.5h.9M486.5 282h.9M486.5 283h.9M487 281h.9M487 282h.9M487 282.5h.9M487.5 282h.9M487.5 282.5h.9M487.5 283h.9M487.5 283.5h.9M488 282.5h.9M488 283h.9M488 283.5h.9M488.5 283h.9M488.5 283.5h.9M488.5 284h.9M489 283h.9M489 283.5h.9M489 284h.9M489 285h.9M489.5 283h.9M489.5 283.5h.9M489.5 284h.9M489.5 284.5h.9M489.5 285h.9M490 284h.9M490 284.5h.9M490 285h.9M490 286.5h.9M490.5 284h.9M490.5 285h.9M490.5 285.5h.9M490.5 286h.9M491 285h.9M491 285.5h.9M491 286h.9M491 287.5h.9M491.5 285h.9M491.5 285.5h.9M491.5 286h.9M491.5 286.5h.9M491.5 287.5h.9M491.5 288h.9M492 285h.9M492 285.5h.9M492 286h.9M492 286.5h.9M492 287h.9M492 288.5h.9M492.5 286h.9M492.5 286.5h.9M492.5 287h.9M492.5 287.5h.9M493 286.5h.9M493 287.5h.9M493 288.5h.9M493.5 285h.9M493.5 286.5h.9M493.5 287.5h.9M493.5 288h.9M493.5 288.5h.9M494 286h.9M494 287.5h.9M494 288h.9M494 288.5h.9M494 290.5h.9M494.5 288h.9M494.5 288.5h.9M494.5 289h.9M494.5 289.5h.9M495 287.5h.9M495 288h.9M495 289h.9M495 289.5h.9M495 291.5h.9M495.5 288h.9M495.5 289h.9M495.5 290h.9M495.5 290.5h.9M496 288.5h.9M496 289.5h.9M496 290h.9M496 290.5h.9M496 291.5h.9M496.5 289h.9M496.5 290h.9M496.5 290.5h.9M496.5 291h.9M496.5 292.5h.9M497 290h.9M497 290.5h.9M497 291h.9M497 292h.9M497 292.5h.9M497.5 290.5h.9M497.5 291h.9M497.5 291.5h.9M498 290.5h.9M498 291h.9M498 291.5h.9M498.5 290.5h.9M498.5 291h.9M498.5 291.5h.9M498.5 292h.9M498.5 293h.9M499 290.5h.9M499 291.5h.9M499 292h.9M499 292.5h.9M499 293h.9M499.5 291.5h.9M499.5 292.5h.9M499.5 293h.9M499.5 294.5h.9M500 292h.9M500 293h.9M500 293.5h.9M500.5 292h.9M500.5 292.5h.9M500.5 293h.9M500.5 293.5h.9M500.5 294h.9M500.5 295h.9M500.5 295.5h.9M501 292h.9M501 293.5h.9M501 295h.9M501 297h.9M501.5 293h.9M501.5 293.5h.9M501.5 294.5h.9M501.5 295h.9M501.5 295.5h.9M501.5 297h.9M502 293h.9M502 293.5h.9M502 295h.9M502 296h.9M502 296.5h.9M502.5 295.5h.9M502.5 296h.9M503 294h.9M503 295h.9M503 296h.9M503 296.5h.9M503.5 294h.9M503.5 295.5h.9M503.5 296h.9M503.5 296.5h.9M503.5 297h.9M504 294h.9M504 295h.9M504 295.5h.9M504 296h.9M504 296.5h.9M504 298h.9M504.5 295h.9M504.5 296h.9M504.5 296.5h.9M504.5 297h.9M504.5 297.5h.9M505 296h.9M505 296.5h.9M505 297h.9M505 298h.9M505 299h.9M505.5 296.5h.9M505.5 297h.9M505.5 298h.9M505.5 298.5h.9M505.5 299h.9M506 296.5h.9M506 297h.9M506 297.5h.9M506 298h.9M506 299h.9M506.5 295h.9M506.5 298h.9M506.5 298.5h.9M506.5 299h.9M506.5 300h.9M506.5 300.5h.9M507 296h.9M507 297h.9M507 297.5h.9M507 299h.9M507 300h.9M507 300.5h.9M507.5 297.5h.9M507.5 299.5h.9M507.5 300.5h.9M507.5 301h.9M507.5 301.5h.9M507.5 302h.9M508 298h.9M508 298.5h.9M508 299h.9M508 300h.9M508 300.5h.9M508 301h.9M508 301.5h.9M508.5 298.5h.9M508.5 299h.9M508.5 300.5h.9M508.5 301h.9M508.5 301.5h.9M508.5 304.5h.9M509 297.5h.9M509 298h.9M509 299h.9M509 300h.9M509 300.5h.9M509 301h.9M509 302h.9M509.5 300h.9M509.5 301h.9M509.5 301.5h.9M509.5 302h.9M509.5 302.5h.9M509.5 303h.9M510 300h.9M510 302h.9M510 302.5h.9M510 303.5h.9M510.5 300.5h.9M510.5 302h.9M510.5 302.5h.9M510.5 303h.9M511 300h.9M511 302h.9M511 302.5h.9M511 304.5h.9M511 305h.9M511 306h.9M511.5 302h.9M511.5 302.5h.9M511.5 303h.9M511.5 304h.9M511.5 307h.9M512 302.5h.9M512 303h.9M512 303.5h.9M512 304h.9M512 305.5h.9M512.5 298.5h.9M512.5 302h.9M512.5 302.5h.9M512.5 303h.9M512.5 303.5h.9M512.5 304h.9M512.5 306.5h.9M513 303h.9M513 305h.9M513 305.5h.9M513 306.5h.9M513 307.5h.9M513.5 302.5h.9M513.5 303.5h.9M513.5 304h.9M513.5 305h.9M513.5 306.5h.9M514 302.5h.9M514 304.5h.9M514 305h.9M514 305.5h.9M514 306h.9M514 306.5h.9M514.5 303h.9M514.5 305h.9M514.5 306.5h.9M514.5 307h.9M514.5 308.5h.9M515 302h.9M515 303.5h.9M515 306.5h.9M515.5 302h.9M515.5 304h.9M515.5 305h.9M515.5 305.5h.9M515.5 306.5h.9M515.5 309.5h.9M516 303.5h.9M516 305h.9M516 305.5h.9M516 306h.9M516 308.5h.9M516 309h.9M516.5 302h.9M516.5 304h.9M516.5 305h.9M516.5 305.5h.9M516.5 307h.9M516.5 309h.9M517 303h.9M517 305.5h.9M517 307h.9M517 307.5h.9M517 308.5h.9M517 309h.9M517.5 304.5h.9M517.5 307h.9M517.5 307.5h.9M517.5 309h.9M517.5 309.5h.9M517.5 310.5h.9M518 304.5h.9M518 305.5h.9M518 306.5h.9M518 307h.9M518 309.5h.9M518 312h.9M518.5 306.5h.9M518.5 307h.9M518.5 309h.9M519 306.5h.9M519 307.5h.9M519 309h.9M519 309.5h.9M519.5 307h.9M519.5 308h.9M519.5 309h.9M519.5 310h.9M520 307h.9M520 308.5h.9M520 309h.9M520 309.5h.9M520.5 308h.9M520.5 309h.9M520.5 309.5h.9M520.5 310h.9M520.5 311h.9M520.5 314h.9M521 308h.9M521 310h.9M521 310.5h.9M521 311h.9M521.5 305.5h.9M521.5 308h.9M521.5 309h.9M521.5 309.5h.9M521.5 312.5h.9M521.5 314h.9M522 309.5h.9M522 310h.9M522 310.5h.9M522 311h.9M522 312h.9M522 313.5h.9M522.5 309h.9M522.5 309.5h.9M522.5 311h.9M522.5 312h.9M522.5 312.5h.9M522.5 315.5h.9M523 308h.9M523 308.5h.9M523 310.5h.9M523 311h.9M523 312h.9M523 315.5h.9M523 316h.9M523.5 308h.9M523.5 309h.9M523.5 309.5h.9M523.5 310h.9M523.5 312h.9M524 309h.9M524 310.5h.9M524 311h.9M524 315h.9M524 317.5h.9M524.5 310.5h.9M524.5 312h.9M524.5 315.5h.9M524.5 316h.9M524.5 316.5h.9M525 309.5h.9M525 312h.9M525 312.5h.9M525 313h.9M525 314h.9M525 318h.9M525.5 309.5h.9M525.5 310.5h.9M525.5 311h.9M525.5 311.5h.9M525.5 312h.9M525.5 313h.9M525.5 316h.9M526 309h.9M526 312h.9M526 312.5h.9M526 313h.9M526 316h.9M526.5 313h.9M526.5 314h.9M526.5 315h.9M526.5 315.5h.9M526.5 318h.9M527 311h.9M527 312h.9M527 316.5h.9M527.5 309h.9M527.5 313h.9M527.5 313.5h.9M527.5 315h.9M527.5 315.5h.9M527.5 316h.9M527.5 317.5h.9M528 311h.9M528 312.5h.9M528 314h.9M528 315h.9M528 315.5h.9M528.5 313h.9M528.5 313.5h.9M528.5 315h.9M528.5 315.5h.9M528.5 316.5h.9M528.5 317.5h.9M529 311h.9M529 313h.9M529 314h.9M529 315.5h.9M529 316h.9M529 317.5h.9M529 318h.9M529.5 314h.9M529.5 315h.9M529.5 315.5h.9M529.5 316h.9M529.5 317.5h.9M529.5 318h.9M529.5 319h.9M530 312h.9M530 312.5h.9M530 314h.9M530 315.5h.9M530 316h.9M530 316.5h.9M530.5 312h.9M530.5 314h.9M530.5 316h.9M530.5 316.5h.9M530.5 317.5h.9M531 313h.9M531 315h.9M531 315.5h.9M531 316h.9M531 318h.9M531 319h.9M531.5 315h.9M531.5 316.5h.9M531.5 317.5h.9M531.5 319h.9M531.5 320h.9M532 311h.9M532 316h.9M532 317.5h.9M532 319h.9M532.5 311h.9M532.5 314h.9M532.5 317.5h.9M532.5 318h.9M532.5 320h.9M532.5 321h.9M532.5 325.5h.9M533 313h.9M533 317.5h.9M533 318h.9M533 319h.9M533 320h.9M533 321h.9M533.5 315.5h.9M533.5 316h.9M533.5 319h.9M533.5 321h.9M533.5 322h.9M533.5 323h.9M534 312.5h.9M534 313h.9M534 316.5h.9M534 317.5h.9M534 318h.9M534 320h.9M534 322h.9M534.5 314h.9M534.5 315h.9M534.5 315.5h.9M534.5 316.5h.9M534.5 317.5h.9M534.5 320h.9M534.5 322h.9M535 314h.9M535 316.5h.9M535 317.5h.9M535 319h.9M535 320h.9M535 324h.9M535.5 315.5h.9M535.5 317.5h.9M535.5 319h.9M535.5 322h.9M535.5 324h.9M535.5 327h.9M536 316h.9M536 318h.9M536 319h.9M536 321h.9M536 322h.9M536 323h.9M536.5 315.5h.9M536.5 316.5h.9M536.5 317.5h.9M536.5 319h.9M536.5 324h.9M537 315.5h.9M537 316.5h.9M537 317.5h.9M537 320h.9M537 322h.9M537 323h.9M537 325.5h.9M537.5 315.5h.9M537.5 318h.9M537.5 319h.9M537.5 322h.9M537.5 323h.9M537.5 325.5h.9M538 315.5h.9M538 316.5h.9M538 317.5h.9M538 319h.9M538 322h.9M538 323h.9M538.5 315h.9M538.5 316h.9M538.5 316.5h.9M538.5 319h.9M538.5 320h.9M538.5 322h.9M538.5 323h.9M538.5 325.5h.9M539 316.5h.9M539 317.5h.9M539 319h.9M539 320h.9M539 321h.9M539 325.5h.9M539.5 319h.9M539.5 320h.9M539.5 322h.9M539.5 323h.9M539.5 327h.9M540 315.5h.9M540 317.5h.9M540 322h.9M540 324h.9M540.5 317.5h.9M540.5 319h.9M540.5 320h.9M540.5 322h.9M540.5 324h.9M540.5 325.5h.9M541 316h.9M541 318h.9M541 319h.9M541 323h.9M541 324h.9M541 325.5h.9M541 327h.9M541.5 316.5h.9M541.5 318h.9M541.5 319h.9M541.5 321h.9M541.5 322h.9M541.5 325.5h.9M541.5 331h.9M542 313.5h.9M542 316.5h.9M542 320h.9M542 323h.9M542 324h.9M542 327h.9M542.5 316.5h.9M542.5 317.5h.9M542.5 319h.9M542.5 320h.9M542.5 321h.9M542.5 323h.9M542.5 325.5h.9M543 319h.9M543 322h.9M543 323h.9M543 325.5h.9M543 334h.9M543.5 313.5h.9M543.5 322h.9M543.5 323h.9M543.5 327h.9M543.5 329h.9M544 319h.9M544 320h.9M544 322h.9M544 323h.9M544 324h.9M544 327h.9M544.5 318h.9M544.5 323h.9M544.5 324h.9M544.5 325.5h.9M544.5 331h.9M545 319h.9M545 320h.9M545 321h.9M545 322h.9M545 323h.9M545.5 316.5h.9M545.5 322h.9M545.5 323h.9M545.5 324h.9M545.5 325.5h.9M545.5 334h.9M546 321h.9M546 322h.9M546 323h.9M546 324h.9M546 325.5h.9M546 327h.9M546 329h.9M546.5 319h.9M546.5 320h.9M546.5 322h.9M546.5 324h.9M546.5 325.5h.9M547 315.5h.9M547 319h.9M547 321h.9M547 322h.9M547 323h.9M547 324h.9M547 325.5h.9M547.5 321h.9M547.5 322h.9M547.5 324h.9M547.5 325.5h.9M547.5 329h.9M548 320h.9M548 321h.9M548 324h.9M548 325.5h.9M548 329h.9M548 334h.9M548.5 319h.9M548.5 320h.9M548.5 322h.9M548.5 324h.9M548.5 325.5h.9M548.5 331h.9M549 320h.9M549 321h.9M549 322h.9M549 324h.9M549 325.5h.9M549 329h.9M549.5 321h.9M549.5 323h.9M549.5 324h.9M549.5 327h.9M549.5 331h.9M550 320h.9M550 325.5h.9M550 327h.9M550 329h.9M550.5 320h.9M550.5 322h.9M550.5 323h.9M550.5 324h.9M550.5 325.5h.9M550.5 327h.9M550.5 329h.9M551 322h.9M551 323h.9M551 324h.9M551 325.5h.9M551.5 316.5h.9M551.5 324h.9M551.5 325.5h.9M551.5 334h.9M552 317.5h.9M552 324h.9M552 325.5h.9M552 331h.9M552.5 322h.9M552.5 324h.9M552.5 325.5h.9M552.5 327h.9M552.5 329h.9M552.5 334h.9M553 322h.9M553 323h.9M553 324h.9M553 325.5h.9M553 334h.9M553.5 319h.9M553.5 322h.9M553.5 323h.9M553.5 324h.9M553.5 329h.9M554 323h.9M554 324h.9M554 325.5h.9M554 327h.9M554 329h.9M554.5 323h.9M554.5 324h.9M554.5 325.5h.9M554.5 327h.9M554.5 329h.9M555 322h.9M555 327h.9M555 329h.9M555 331h.9" stroke="#800080" stroke-width="0.9" fill="none"/>
<path d="M431.2 242.4 431.6 242.4 432 242.4 432.4 242.3 432.8 242.3 433.2 242.3 433.6 242.4 434.1 242.4 434.5 242.5 434.9 242.6 435.3 242.8 435.7 242.9 436.1 243.1 436.5 243.3 437 243.6 437.4 243.8 437.8 244 438.2 244.3 438.6 244.5 439 244.8 439.4 245 439.9 245.3 440.3 245.5 440.7 245.8 441.1 246 441.5 246.2 441.9 246.5 442.3 246.7 442.8 246.9 443.2 247.2 443.6 247.5 444 247.7 444.4 248 444.8 248.3 445.2 248.5 445.7 248.8 446.1 249.1 446.5 249.4 446.9 249.7 447.3 250 447.7 250.2 448.1 250.5 448.6 250.8 449 251.1 449.4 251.4 449.8 251.7 450.2 252 450.6 252.3 451 252.6 451.4 252.9 451.9 253.2 452.3 253.5 452.7 253.8 453.1 254.1 453.5 254.4 453.9 254.7 454.3 255 454.8 255.3 455.2 255.6 455.6 255.9 456 256.2 456.4 256.5 456.8 256.8 457.2 257.1 457.7 257.4 458.1 257.7 458.5 258 458.9 258.4 459.3 258.7 459.7 259 460.1 259.4 460.6 259.7 461 260 461.4 260.4 461.8 260.7 462.2 261 462.6 261.4 463 261.7 463.5 262 463.9 262.4 464.3 262.7 464.7 263.1 465.1 263.4 465.5 263.8 465.9 264.1 466.4 264.5 466.8 264.8 467.2 265.2 467.6 265.5 468 265.9 468.4 266.2 468.8 266.6 469.3 266.9 469.7 267.3 470.1 267.6 470.5 268 470.9 268.4 471.3 268.7 471.7 269.1 472.2 269.4 472.6 269.8 473 270.2 473.4 270.5 473.8 270.9 474.2 271.2 474.6 271.6 475.1 272 475.5 272.3 475.9 272.7 476.3 273.1 476.7 273.4 477.1 273.8 477.5 274.1 478 274.5 478.4 274.9 478.8 275.2 479.2 275.6 479.6 276 480 276.3 480.4 276.7 480.9 277 481.3 277.4 481.7 277.8 482.1 278.1 482.5 278.5 482.9 278.8 483.3 279.2 483.8 279.6 484.2 279.9 484.6 280.3 485 280.6 485.4 281 485.8 281.3 486.2 281.7 486.7 282.1 487.1 282.4 487.5 282.8 487.9 283.1 488.3 283.5 488.7 283.9 489.1 284.2 489.5 284.6 490 285 490.4 285.3 490.8 285.7 491.2 286 491.6 286.4 492 286.8 492.4 287.1 492.9 287.5 493.3 287.9 493.7 288.2 494.1 288.6 494.5 288.9 494.9 289.3 495.3 289.7 495.8 290" stroke="#800080" stroke-width="1.8" fill="none" stroke-linejoin="round"/>
<path d="M430 242.5h.9M430.5 242.5h.9M431 242.5h.9M431.5 242h.9M431.5 242.5h.9M432 242h.9M432 242.5h.9M432.5 242h.9M432.5 242.5h.9M433 242.5h.9M433 243h.9M433.5 242.5h.9M433.5 243h.9M434 243h.9M434.5 243h.9M434.5 243.5h.9M435 243.5h.9M435 244h.9M435.5 243.5h.9M435.5 244h.9M436 244h.9M436 244.5h.9M436.5 244.5h.9M436.5 245h.9M437 245h.9M437.5 245h.9M437.5 245.5h.9M437.5 246h.9M438 245.5h.9M438 246h.9M438.5 246h.9M438.5 246.5h.9M439 246h.9M439 246.5h.9M439.5 246.5h.9M439.5 247h.9M440 247h.9M440 247.5h.9M440.5 247h.9M440.5 247.5h.9M440.5 248h.9M441 247.5h.9M441 248h.9M441.5 248h.9M442 248h.9M442 248.5h.9M442 249h.9M442.5 248.5h.9M442.5 249h.9M443 249h.9M443 249.5h.9M443.5 249.5h.9M443.5 250h.9M444 249.5h.9M444 250h.9M444.5 250h.9M444.5 250.5h.9M445 250h.9M445 250.5h.9M445 251h.9M445.5 250.5h.9M445.5 251h.9M445.5 251.5h.9M446 251.5h.9M446.5 251.5h.9M446.5 252h.9M446.5 252.5h.9M447 252h.9M447 252.5h.9M447.5 252.5h.9M447.5 253h.9M448 253h.9M448 253.5h.9M448.5 253.5h.9M448.5 254h.9M449 254h.9M449 254.5h.9M449.5 254.5h.9M449.5 255h.9M450 255h.9M450 255.5h.9M450 256h.9M450.5 256h.9M450.5 256.5h.9M450.5 257h.9M451 256.5h.9M451 257h.9M451 257.5h.9M451.5 257.5h.9M451.5 258h.9M452 258h.9M452 258.5h.9M452.5 258.5h.9M452.5 259h.9M453 259h.9M453 259.5h.9M453 260h.9M453.5 260h.9M453.5 260.5h.9M454 260.5h.9M454 261h.9M454.5 260.5h.9M454.5 261h.9M454.5 261.5h.9M455 261h.9M455 261.5h.9M455 262.5h.9M455.5 262h.9M455.5 262.5h.9M455.5 263h.9M456 262.5h.9M456 263h.9M456.5 263h.9M456.5 263.5h.9M456.5 264h.9M457 263.5h.9M457 264h.9M457.5 264h.9M457.5 264.5h.9M457.5 265h.9M458 264h.9M458 264.5h.9M458 265h.9M458 265.5h.9M458.5 265h.9M458.5 265.5h.9M459 265.5h.9M459 266h.9M459 266.5h.9M459.5 266h.9M459.5 266.5h.9M460 266h.9M460 267h.9M460 267.5h.9M460.5 266.5h.9M460.5 267h.9M460.5 267.5h.9M460.5 268h.9M461 267h.9M461 267.5h.9M461 268h.9M461 268.5h.9M461.5 267.5h.9M461.5 268h.9M461.5 268.5h.9M462 268.5h.9M462 269h.9M462.5 268h.9M462.5 269h.9M462.5 269.5h.9M463 269h.9M463 269.5h.9M463 270h.9M463.5 270h.9M463.5 270.5h.9M463.5 271h.9M464 269.5h.9M464 270h.9M464 270.5h.9M464 271h.9M464.5 270.5h.9M464.5 271h.9M464.5 271.5h.9M465 271h.9M465 271.5h.9M465 272h.9M465.5 271.5h.9M465.5 272h.9M466 271.5h.9M466 272h.9M466 272.5h.9M466 273h.9M466 273.5h.9M466.5 272h.9M466.5 272.5h.9M466.5 273h.9M466.5 273.5h.9M467 272.5h.9M467 273h.9M467 273.5h.9M467 274.5h.9M467.5 273.5h.9M467.5 274h.9M467.5 274.5h.9M468 273.5h.9M468 274h.9M468 274.5h.9M468 275h.9M468.5 274h.9M468.5 274.5h.9M468.5 275h.9M468.5 276h.9M469 274.5h.9M469 275h.9M469 275.5h.9M469 276h.9M469.5 275h.9M469.5 275.5h.9M469.5 276h.9M469.5 276.5h.9M470 275h.9M470 275.5h.9M470 276h.9M470 276.5h.9M470 277h.9M470.5 275.5h.9M470.5 276.5h.9M470.5 277h.9M470.5 277.5h.9M471 277h.9M471 277.5h.9M471 278h.9M471.5 277h.9M471.5 277.5h.9M471.5 278h.9M472 276.5h.9M472 277.5h.9M472 278h.9M472 278.5h.9M472.5 277.5h.9M472.5 278h.9M472.5 278.5h.9M472.5 279h.9M472.5 280.5h.9M473 278.5h.9M473 279h.9M473 280h.9M473 280.5h.9M473.5 279.5h.9M473.5 280h.9M474 279.5h.9M474 280h.9M474 280.5h.9M474 281h.9M474.5 280h.9M474.5 280.5h.9M474.5 281.5h.9M475 280h.9M475 280.5h.9M475 281h.9M475 281.5h.9M475 282h.9M475.5 281h.9M475.5 281.5h.9M475.5 282h.9M475.5 282.5h.9M475.5 283h.9M476 281h.9M476 282h.9M476 282.5h.9M476 283h.9M476 283.5h.9M476 284h.9M476 284.5h.9M476.5 282.5h.9M476.5 283h.9M476.5 283.5h.9M477 282h.9M477 282.5h.9M477 283.5h.9M477 284h.9M477 284.5h.9M477.5 284h.9M477.5 284.5h.9M477.5 285.5h.9M478 283.5h.9M478 284h.9M478 284.5h.9M478 285.5h.9M478.5 284h.9M478.5 284.5h.9M478.5 285h.9M478.5 285.5h.9M479 284h.9M479 285h.9M479 285.5h.9M479 286.5h.9M479 287.5h.9M479.5 284.5h.9M479.5 285h.9M479.5 285.5h.9M479.5 286h.9M479.5 286.5h.9M479.5 287.5h.9M480 285.5h.9M480 286h.9M480 286.5h.9M480 287h.9M480 287.5h.9M480.5 286h.9M480.5 286.5h.9M480.5 287h.9M480.5 287.5h.9M480.5 288h.9M481 285.5h.9M481 287h.9M481 287.5h.9M481 288h.9M481 289h.9M481.5 287h.9M481.5 287.5h.9M481.5 288h.9M481.5 288.5h.9M481.5 289h.9M481.5 289.5h.9M482 286.5h.9M482 287h.9M482 287.5h.9M482 288h.9M482 288.5h.9M482 289h.9M482.5 288.5h.9M482.5 289h.9M482.5 290h.9M483 288h.9M483 288.5h.9M483 289h.9M483 289.5h.9M483 290h.9M483.5 288.5h.9M483.5 289.5h.9M483.5 290h.9M483.5 290.5h.9M484 289h.9M484 289.5h.9M484 290h.9M484 291h.9M484 291.5h.9M484 292h.9M484.5 290.5h.9M484.5 291h.9M484.5 291.5h.9M484.5 292.5h.9M484.5 293h.9M485 291h.9M485 291.5h.9M485 292h.9M485 293h.9M485.5 290.5h.9M485.5 291h.9M485.5 291.5h.9M485.5 292.5h.9M485.5 293h.9M486 290.5h.9M486 291h.9M486 293.5h.9M486 294h.9M486 294.5h.9M486 295.5h.9M486.5 291.5h.9M486.5 293h.9M486.5 293.5h.9M486.5 294.5h.9M486.5 295h.9M486.5 295.5h.9M487 291.5h.9M487 293.5h.9M487 294h.9M487 294.5h.9M487 295h.9M487.5 292.5h.9M487.5 293h.9M487.5 294.5h.9M487.5 295h.9M487.5 295.5h.9M488 294h.9M488 294.5h.9M488 295.5h.9M488 297h.9M488 297.5h.9M488.5 293.5h.9M488.5 294h.9M488.5 294.5h.9M488.5 295h.9M488.5 295.5h.9M488.5 296h.9M489 295h.9M489 295.5h.9M489 296.5h.9M489 298h.9M489 298.5h.9M489.5 295.5h.9M489.5 296h.9M489.5 297h.9M489.5 297.5h.9M489.5 298.5h.9M490 295h.9M490 297.5h.9M490 298h.9M490 299h.9M490 299.5h.9M490.5 296h.9M490.5 297h.9M490.5 297.5h.9M490.5 298h.9M490.5 299h.9M491 296h.9M491 297.5h.9M491 298h.9M491 299h.9M491 299.5h.9M491.5 294.5h.9M491.5 297h.9M491.5 297.5h.9M491.5 300h.9M492 297h.9M492 298h.9M492 299h.9M492 302h.9M492.5 297h.9M492.5 297.5h.9M492.5 298h.9M492.5 299h.9M492.5 300h.9M492.5 300.5h.9M493 298.5h.9M493 299h.9M493 299.5h.9M493 300.5h.9M493 302h.9M493 302.5h.9M493.5 299h.9M493.5 300h.9M493.5 301h.9M493.5 301.5h.9M493.5 302h.9M494 299.5h.9M494 300.5h.9M494 301h.9M494 302h.9M494 302.5h.9M494 303.5h.9M494.5 299.5h.9M494.5 300.5h.9M494.5 302h.9M494.5 302.5h.9M494.5 303h.9M494.5 304h.9M495 299.5h.9M495 301h.9M495 301.5h.9M495 304h.9M495 305h.9M495 306.5h.9M495.5 302h.9M495.5 302.5h.9M495.5 303h.9M495.5 304h.9M495.5 305h.9M495.5 306.5h.9M496 299.5h.9M496 300h.9M496 301.5h.9M496 302.5h.9M496 303h.9M496 303.5h.9M496 305h.9M496.5 300.5h.9M496.5 303h.9M496.5 304h.9M496.5 304.5h.9M496.5 305.5h.9M496.5 307.5h.9M497 302h.9M497 302.5h.9M497 303h.9M497 303.5h.9M497 304h.9M497 305.5h.9M497.5 301h.9M497.5 303h.9M497.5 303.5h.9M497.5 304.5h.9M497.5 307h.9M498 302h.9M498 303h.9M498 305h.9M498 307h.9M498 307.5h.9M498 309h.9M498.5 303h.9M498.5 304.5h.9M498.5 306.5h.9M498.5 307.5h.9M498.5 308h.9M499 305h.9M499 305.5h.9M499 306h.9M499 307.5h.9M499 308.5h.9M499 309h.9M499.5 302h.9M499.5 304h.9M499.5 305.5h.9M499.5 306.5h.9M499.5 307h.9M499.5 309.5h.9M499.5 311h.9M500 304.5h.9M500 305.5h.9M500 306h.9M500 307h.9M500 307.5h.9M500 308h.9M500.5 304.5h.9M500.5 307h.9M500.5 307.5h.9M500.5 310h.9M500.5 313.5h.9M501 305.5h.9M501 306.5h.9M501 307h.9M501 308h.9M501 308.5h.9M501.5 303.5h.9M501.5 307h.9M501.5 308h.9M501.5 309h.9M501.5 309.5h.9M502 306h.9M502 307h.9M502 308h.9M502 309h.9M502 313h.9M502.5 307.5h.9M502.5 308h.9M502.5 309h.9M502.5 309.5h.9M502.5 311.5h.9M503 307.5h.9M503 308h.9M503 309h.9M503 310h.9M503 310.5h.9M503 312.5h.9M503.5 306h.9M503.5 307.5h.9M503.5 308h.9M503.5 308.5h.9M503.5 309h.9M503.5 311h.9M503.5 315h.9M504 309h.9M504 310h.9M504 311h.9M504 313.5h.9M504 314h.9M504.5 309h.9M504.5 310h.9M504.5 311h.9M504.5 313h.9M505 307.5h.9M505 308.5h.9M505 309h.9M505 310.5h.9M505 311.5h.9M505 312.5h.9M505 313.5h.9M505 324h.9M505.5 305h.9M505.5 309h.9M505.5 310.5h.9M505.5 313h.9M505.5 315.5h.9M505.5 319h.9M506 310.5h.9M506 311h.9M506 312h.9M506 313.5h.9M506 315h.9M506 316h.9M506.5 309h.9M506.5 311.5h.9M506.5 312h.9M506.5 312.5h.9M506.5 313h.9M506.5 316.5h.9M506.5 318h.9M507 308.5h.9M507 310h.9M507 311h.9M507 311.5h.9M507 312.5h.9M507 313h.9M507 315.5h.9M507 317.5h.9M507.5 309.5h.9M507.5 311h.9M507.5 312.5h.9M507.5 313.5h.9M507.5 314h.9M507.5 315.5h.9M508 312h.9M508 313.5h.9M508 315h.9M508 315.5h.9M508 316.5h.9M508 324h.9M508.5 312h.9M508.5 313.5h.9M508.5 314h.9M508.5 316.5h.9M509 311h.9M509 313.5h.9M509 315.5h.9M509 316h.9M509 316.5h.9M509 318h.9M509.5 312h.9M509.5 312.5h.9M509.5 314h.9M509.5 315h.9M509.5 317.5h.9M509.5 318h.9M510 311.5h.9M510 315h.9M510 316.5h.9M510 317.5h.9M510 318h.9M510.5 313.5h.9M510.5 318h.9M510.5 319h.9M510.5 320h.9M510.5 321h.9M510.5 324h.9M511 313h.9M511 313.5h.9M511 314h.9M511 316.5h.9M511 317.5h.9M511.5 315h.9M511.5 315.5h.9M511.5 317.5h.9M511.5 319h.9M511.5 321h.9M511.5 324h.9M512 311.5h.9M512 314h.9M512 315.5h.9M512 316h.9M512 317.5h.9M512 322h.9M512.5 313.5h.9M512.5 315h.9M512.5 315.5h.9M512.5 316.5h.9M512.5 318h.9M512.5 319h.9M512.5 322h.9M513 313.5h.9M513 316.5h.9M513 317.5h.9M513 321h.9M513.5 315.5h.9M513.5 316.5h.9M513.5 317.5h.9M513.5 318h.9M513.5 320h.9M513.5 323h.9M513.5 324h.9M514 319h.9M514 321h.9M514 323h.9M514 327h.9M514.5 316.5h.9M514.5 317.5h.9M514.5 319h.9M514.5 320h.9M514.5 321h.9M515 316.5h.9M515 317.5h.9M515 318h.9M515 323h.9M515 324h.9M515.5 316.5h.9M515.5 319h.9M515.5 320h.9M515.5 321h.9M515.5 322h.9M516 316h.9M516 316.5h.9M516 317.5h.9M516 318h.9M516 320h.9M516 321h.9M516.5 315.5h.9M516.5 316.5h.9M516.5 317.5h.9M516.5 318h.9M516.5 321h.9M516.5 323h.9M517 316h.9M517 317.5h.9M517 318h.9M517 320h.9M517 321h.9M517 322h.9M517 324h.9M517.5 316.5h.9M517.5 320h.9M517.5 321h.9M517.5 323h.9M517.5 324h.9M517.5 327h.9M517.5 331h.9M518 316.5h.9M518 317.5h.9M518 319h.9M518 320h.9M518 322h.9M518 323h.9M518.5 318h.9M518.5 320h.9M518.5 323h.9M518.5 324h.9M518.5 325.5h.9M519 319h.9M519 320h.9M519 322h.9M519 324h.9M519 327h.9M519.5 319h.9M519.5 320h.9M519.5 322h.9M519.5 323h.9M519.5 325.5h.9M520 317.5h.9M520 319h.9M520 320h.9M520 322h.9M520 323h.9M520 325.5h.9M520 331h.9M520.5 317.5h.9M520.5 319h.9M520.5 320h.9M520.5 322h.9M521 319h.9M521 320h.9M521 322h.9M521 324h.9M521 325.5h.9M521.5 319h.9M521.5 321h.9M521.5 323h.9M521.5 324h.9M521.5 325.5h.9M521.5 327h.9M521.5 334h.9M522 324h.9M522 325.5h.9M522 327h.9M522 329h.9M522 331h.9M522.5 323h.9M522.5 324h.9M522.5 327h.9M522.5 331h.9M523 321h.9M523 323h.9M523 324h.9M523 325.5h.9M523 327h.9M523 329h.9M523.5 319h.9M523.5 322h.9M523.5 324h.9M523.5 325.5h.9M523.5 327h.9M523.5 337.5h.9M524 318h.9M524 321h.9M524 322h.9M524 323h.9M524 329h.9M524 334h.9M524.5 319h.9M524.5 322h.9M524.5 323h.9M524.5 324h.9M524.5 329h.9M525 319h.9M525 322h.9M525 323h.9M525 324h.9M525 325.5h.9M525 329h.9M525 331h.9M525.5 321h.9M525.5 323h.9M525.5 324h.9M525.5 325.5h.9M525.5 329h.9M525.5 337.5h.9M526 318h.9M526 320h.9M526 324h.9M526 327h.9M526 329h.9M526 331h.9M526.5 316h.9M526.5 322h.9M526.5 324h.9M526.5 327h.9M526.5 329h.9M526.5 334h.9M527 319h.9M527 320h.9M527 323h.9M527 324h.9M527 329h.9M527 331h.9M527.5 319h.9M527.5 321h.9M527.5 325.5h.9M527.5 327h.9M527.5 329h.9M528 324h.9M528 325.5h.9M528 327h.9M528 329h.9M528 337.5h.9M528.5 322h.9M528.5 325.5h.9M528.5 327h.9M528.5 329h.9M528.5 331h.9M528.5 337.5h.9M529 325.5h.9M529 327h.9M529 329h.9M529 334h.9M529 337.5h.9M529 342h.9M529.5 322h.9M529.5 323h.9M529.5 325.5h.9M529.5 327h.9M529.5 329h.9M529.5 331h.9M530 324h.9M530 329h.9M530 342h.9M530.5 324h.9M530.5 327h.9M530.5 329h.9M530.5 334h.9M531 322h.9M531 325.5h.9M531 329h.9M531 331h.9M531 337.5h.9M531.5 322h.9M531.5 324h.9M531.5 325.5h.9M531.5 329h.9M531.5 331h.9M531.5 334h.9M532 322h.9M532 323h.9M532 324h.9M532 325.5h.9M532 327h.9M532 329h.9M532 331h.9M532.5 322h.9M532.5 323h.9M532.5 324h.9M532.5 325.5h.9M532.5 329h.9M532.5 334h.9M533 324h.9M533 327h.9M533 331h.9M533 334h.9M533.5 324h.9M533.5 325.5h.9M533.5 327h.9M533.5 329h.9M533.5 334h.9M533.5 342h.9M534 323h.9M534 331h.9M534 334h.9M534 337.5h.9M534 342h.9M534.5 323h.9M534.5 327h.9M534.5 329h.9M534.5 334h.9M534.5 337.5h.9M535 323h.9M535 325.5h.9M535 327h.9M535 334h.9M535 337.5h.9M535 342h.9M535.5 322h.9M535.5 327h.9M535.5 331h.9M535.5 337.5h.9M536 329h.9M536 331h.9M536 334h.9M536 337.5h.9M536 342h.9M536.5 320h.9M536.5 325.5h.9M536.5 327h.9M536.5 331h.9M536.5 334h.9M537 324h.9M537 325.5h.9M537 327h.9M537 329h.9M537 334h.9M537.5 324h.9M537.5 325.5h.9M537.5 329h.9M537.5 331h.9M537.5 334h.9M538 327h.9M538 329h.9M538 334h.9M538.5 324h.9M538.5 327h.9M538.5 331h.9M538.5 337.5h.9M539 323h.9M539 324h.9M539 325.5h.9M539 329h.9M539 334h.9M539 342h.9M539.5 329h.9M539.5 331h.9M539.5 334h.9M540 321h.9M540 325.5h.9M540 327h.9M540 331h.9M540.5 324h.9M540.5 325.5h.9M540.5 327h.9M540.5 329h.9M540.5 331h.9M540.5 334h.9M541 322h.9M541 325.5h.9M541 327h.9M541 329h.9M541 331h.9M541 334h.9M541 342h.9M541.5 323h.9M541.5 325.5h.9M541.5 327h.9M541.5 329h.9M541.5 331h.9M541.5 337.5h.9M542 327h.9M542 329h.9M542 331h.9M542 334h.9M542.5 329h.9M542.5 331h.9M542.5 334h.9M542.5 337.5h.9M542.5 342h.9M543 327h.9M543 329h.9M543 331h.9M543 334h.9M543 337.5h.9M543.5 324h.9M543.5 325.5h.9M543.5 331h.9M543.5 334h.9M543.5 337.5h.9M544 329h.9M544 331h.9M544 334h.9M544 342h.9M544.5 323h.9M544.5 324h.9M544.5 325.5h.9M544.5 327h.9M544.5 331h.9M544.5 334h.9M545 329h.9M545 331h.9M545 334h.9M545 337.5h.9M545.5 324h.9M545.5 325.5h.9M545.5 329h.9M545.5 331h.9M545.5 334h.9M545.5 337.5h.9M546 325.5h.9M546 327h.9M546 329h.9M546 331h.9M546 342h.9M546.5 325.5h.9M546.5 327h.9M546.5 331h.9M546.5 334h.9M547 323h.9M547 329h.9M547 331h.9M547 334h.9M547.5 325.5h.9M547.5 327h.9M547.5 329h.9M547.5 334h.9M548 324h.9M548 331h.9M548 337.5h.9M548 342h.9M548.5 324h.9M548.5 327h.9M548.5 329h.9M548.5 331h.9M548.5 334h.9M549 327h.9M549 329h.9M549 331h.9M549 334h.9M549 337.5h.9M549.5 324h.9M549.5 329h.9M549.5 331h.9M549.5 334h.9M549.5 342h.9M550 324h.9M550 327h.9M550 329h.9M550 334h.9M550 337.5h.9M550.5 323h.9M550.5 324h.9M550.5 325.5h.9M550.5 327h.9M550.5 331h.9M550.5 334h.9M550.5 342h.9M551 329h.9M551 331h.9M551 337.5h.9M551 342h.9M551.5 329h.9M551.5 331h.9M551.5 337.5h.9M551.5 342h.9M552 325.5h.9M552 327h.9M552 329h.9M552 331h.9M552 337.5h.9M552.5 323h.9M552.5 325.5h.9M552.5 329h.9M552.5 334h.9M552.5 337.5h.9M552.5 342h.9M553 324h.9M553 329h.9M553 331h.9M553 334h.9M553.5 327h.9M553.5 329h.9M553.5 331h.9M553.5 334h.9M553.5 337.5h.9M553.5 342h.9M554 325.5h.9M554 327h.9M554 329h.9M554 331h.9M554 337.5h.9M554 342h.9M554.5 329h.9M554.5 331h.9M554.5 334h.9M554.5 337.5h.9M554.5 342h.9M555 324h.9M555 325.5h.9M555 342h.9" stroke="#ff00ff" stroke-width="0.9" fill="none"/>
<path d="M430 242.5 430.4 242.4 430.8 242.4 431.3 242.3 431.7 242.3 432.1 242.4 432.5 242.4 432.9 242.5 433.4 242.7 433.8 242.8 434.2 243.1 434.6 243.3 435 243.5 435.4 243.8 435.9 244.1 436.3 244.4 436.7 244.7 437.1 245.1 437.5 245.4 438 245.7 438.4 246 438.8 246.3 439.2 246.6 439.6 246.9 440 247.2 440.5 247.5 440.9 247.7 441.3 248 441.7 248.3 442.1 248.6 442.6 248.9 443 249.2 443.4 249.5 443.8 249.8 444.2 250.1 444.6 250.4 445.1 250.7 445.5 251 445.9 251.4 446.3 251.7 446.7 252.1 447.1 252.5 447.6 252.9 448 253.3 448.4 253.7 448.8 254.1 449.2 254.6 449.7 255.2 450.1 255.8 450.5 256.4 450.9 257 451.3 257.5 451.7 258 452.2 258.5 452.6 259 453 259.5 453.4 259.9 453.8 260.4 454.3 260.9 454.7 261.3 455.1 261.8 455.5 262.2 455.9 262.7 456.3 263.1 456.8 263.6 457.2 264 457.6 264.4 458 264.8 458.4 265.3 458.9 265.7 459.3 266.1 459.7 266.5 460.1 266.9 460.5 267.3 460.9 267.7 461.4 268.1 461.8 268.5 462.2 268.9 462.6 269.3 463 269.7 463.4 270.1 463.9 270.5 464.3 270.9 464.7 271.3 465.1 271.7 465.5 272.1 466 272.5 466.4 272.9 466.8 273.3 467.2 273.7 467.6 274 468 274.4 468.5 274.8 468.9 275.2 469.3 275.7 469.7 276.1 470.1 276.5 470.6 276.9 471 277.3 471.4 277.7 471.8 278.1 472.2 278.5 472.6 279 473.1 279.4 473.5 279.8 473.9 280.3 474.3 280.7 474.7 281.2 475.2 281.6 475.6 282 476 282.5 476.4 282.9 476.8 283.4 477.2 283.8 477.7 284.2 478.1 284.7 478.5 285.1 478.9 285.6 479.3 286 479.7 286.5 480.2 286.9 480.6 287.4 481 287.8 481.4 288.3 481.8 288.7 482.3 289.2 482.7 289.6 483.1 290.1" stroke="#ff00ff" stroke-width="1.8" fill="none" stroke-linejoin="round"/>
<path d="M429 242.5h.9M429.5 242h.9M429.5 242.5h.9M430 242h.9M430 242.5h.9M430.5 242h.9M430.5 242.5h.9M431 242h.9M431 242.5h.9M431.5 242.5h.9M432 242.5h.9M432 243h.9M432.5 242.5h.9M432.5 243h.9M432.5 243.5h.9M433 243.5h.9M433.5 243.5h.9M433.5 244h.9M434 244h.9M434 244.5h.9M434.5 244.5h.9M434.5 245h.9M435 245h.9M435 245.5h.9M435.5 245.5h.9M435.5 246h.9M436 246h.9M436 246.5h.9M436.5 246.5h.9M436.5 247h.9M437 247h.9M437 247.5h.9M437.5 247.5h.9M437.5 248h.9M438 247.5h.9M438 248h.9M438 248.5h.9M438.5 248.5h.9M438.5 249h.9M439 249h.9M439 249.5h.9M439.5 249h.9M439.5 249.5h.9M439.5 250h.9M440 250h.9M440 250.5h.9M440.5 250.5h.9M440.5 251h.9M441 251h.9M441 251.5h.9M441.5 251.5h.9M441.5 252h.9M442 252h.9M442 252.5h.9M442.5 252.5h.9M442.5 253h.9M442.5 253.5h.9M443 253.5h.9M443 254h.9M443.5 253.5h.9M443.5 254h.9M443.5 254.5h.9M444 254.5h.9M444 255h.9M444.5 254.5h.9M444.5 255h.9M444.5 255.5h.9M445 255h.9M445 255.5h.9M445 256h.9M445 256.5h.9M445.5 255.5h.9M445.5 256h.9M445.5 256.5h.9M446 256.5h.9M446 257h.9M446.5 257h.9M446.5 257.5h.9M446.5 258h.9M447 257.5h.9M447 258h.9M447.5 258h.9M447.5 258.5h.9M447.5 259h.9M448 258.5h.9M448 259h.9M448 259.5h.9M448.5 259.5h.9M448.5 260h.9M449 259.5h.9M449 260h.9M449 260.5h.9M449.5 260h.9M449.5 260.5h.9M449.5 261h.9M450 260.5h.9M450 261h.9M450 261.5h.9M450.5 261.5h.9M450.5 262h.9M450.5 262.5h.9M451 262h.9M451 262.5h.9M451 263h.9M451.5 262.5h.9M451.5 263h.9M451.5 263.5h.9M452 263.5h.9M452 264h.9M452 264.5h.9M452.5 264h.9M452.5 264.5h.9M452.5 265h.9M453 264.5h.9M453 265h.9M453 265.5h.9M453.5 265h.9M453.5 265.5h.9M453.5 266h.9M454 265.5h.9M454 266h.9M454 266.5h.9M454.5 266h.9M454.5 266.5h.9M454.5 267h.9M455 266.5h.9M455 267h.9M455 267.5h.9M455.5 267.5h.9M455.5 268h.9M456 267.5h.9M456 268h.9M456 268.5h.9M456 269.5h.9M456.5 268h.9M456.5 268.5h.9M456.5 269h.9M456.5 269.5h.9M457 269h.9M457 269.5h.9M457.5 270h.9M457.5 270.5h.9M457.5 271.5h.9M458 270h.9M458 270.5h.9M458 271h.9M458 271.5h.9M458.5 270.5h.9M458.5 271h.9M458.5 271.5h.9M458.5 272h.9M459 272h.9M459 272.5h.9M459 273h.9M459.5 271.5h.9M459.5 272.5h.9M459.5 273h.9M460 272h.9M460 273h.9M460 273.5h.9M460 274h.9M460.5 272.5h.9M460.5 273h.9M460.5 273.5h.9M460.5 275h.9M461 273h.9M461 274h.9M461 274.5h.9M461.5 274h.9M461.5 274.5h.9M461.5 275.5h.9M462 275h.9M462 275.5h.9M462 276h.9M462.5 275.5h.9M462.5 276h.9M462.5 276.5h.9M462.5 277h.9M463 275.5h.9M463 276h.9M463 276.5h.9M463 277h.9M463.5 276.5h.9M463.5 277h.9M463.5 277.5h.9M464 277h.9M464 277.5h.9M464 278h.9M464 278.5h.9M464.5 278.5h.9M464.5 279h.9M464.5 279.5h.9M465 278.5h.9M465 279h.9M465 279.5h.9M465 280h.9M465.5 279h.9M465.5 279.5h.9M465.5 280h.9M465.5 281h.9M466 279.5h.9M466 280h.9M466 281h.9M466 281.5h.9M466 282h.9M466.5 281h.9M466.5 281.5h.9M466.5 282.5h.9M467 281.5h.9M467 282h.9M467 282.5h.9M467.5 281h.9M467.5 281.5h.9M467.5 282h.9M467.5 282.5h.9M467.5 283h.9M468 282h.9M468 282.5h.9M468 283h.9M468 283.5h.9M468.5 283h.9M468.5 283.5h.9M468.5 284h.9M468.5 284.5h.9M468.5 285.5h.9M469 283.5h.9M469 284h.9M469 284.5h.9M469 285h.9M469 285.5h.9M469.5 284h.9M469.5 284.5h.9M469.5 285h.9M469.5 286.5h.9M469.5 287h.9M470 284.5h.9M470 285h.9M470 285.5h.9M470 286h.9M470.5 285h.9M470.5 285.5h.9M470.5 286h.9M470.5 286.5h.9M470.5 287h.9M471 286h.9M471 286.5h.9M471 287h.9M471 287.5h.9M471.5 286h.9M471.5 287h.9M471.5 287.5h.9M471.5 288h.9M472 287h.9M472 287.5h.9M472 288h.9M472 288.5h.9M472.5 287h.9M472.5 287.5h.9M472.5 288h.9M472.5 288.5h.9M472.5 289h.9M472.5 289.5h.9M473 287h.9M473 288.5h.9M473 289h.9M473 289.5h.9M473 290h.9M473.5 287.5h.9M473.5 289h.9M473.5 290h.9M473.5 290.5h.9M473.5 291h.9M474 289.5h.9M474 290.5h.9M474 291h.9M474 291.5h.9M474.5 290.5h.9M474.5 291h.9M474.5 291.5h.9M474.5 292h.9M474.5 292.5h.9M475 290h.9M475 290.5h.9M475 292h.9M475 292.5h.9M475 293h.9M475.5 291.5h.9M475.5 292h.9M475.5 292.5h.9M475.5 293h.9M475.5 293.5h.9M475.5 294.5h.9M476 291h.9M476 292.5h.9M476 293h.9M476 295h.9M476.5 292h.9M476.5 292.5h.9M476.5 293.5h.9M476.5 294h.9M476.5 294.5h.9M477 292h.9M477 293.5h.9M477 294h.9M477 296h.9M477.5 294h.9M477.5 294.5h.9M477.5 295h.9M477.5 296.5h.9M478 293.5h.9M478 295h.9M478 295.5h.9M478 297h.9M478 297.5h.9M478.5 293.5h.9M478.5 294h.9M478.5 295h.9M478.5 295.5h.9M478.5 296.5h.9M478.5 297h.9M479 295h.9M479 295.5h.9M479 296h.9M479 298h.9M479.5 295h.9M479.5 295.5h.9M479.5 296.5h.9M479.5 297h.9M479.5 299h.9M479.5 300h.9M480 295.5h.9M480 296h.9M480 297.5h.9M480 298h.9M480 298.5h.9M480.5 296.5h.9M480.5 297h.9M480.5 298h.9M480.5 298.5h.9M480.5 300.5h.9M480.5 301.5h.9M481 298h.9M481 298.5h.9M481 299h.9M481 299.5h.9M481 300h.9M481 300.5h.9M481.5 298h.9M481.5 298.5h.9M481.5 299.5h.9M481.5 300.5h.9M481.5 301h.9M482 298.5h.9M482 300h.9M482 301h.9M482 301.5h.9M482.5 298h.9M482.5 299.5h.9M482.5 300h.9M482.5 301h.9M482.5 301.5h.9M482.5 302h.9M483 299.5h.9M483 301h.9M483 302h.9M483 302.5h.9M483 303h.9M483.5 300h.9M483.5 301h.9M483.5 302h.9M483.5 303h.9M483.5 304h.9M484 301h.9M484 301.5h.9M484 302h.9M484 302.5h.9M484 303.5h.9M484 304.5h.9M484.5 301h.9M484.5 303h.9M484.5 303.5h.9M484.5 304.5h.9M484.5 305h.9M484.5 306.5h.9M485 301.5h.9M485 303h.9M485 303.5h.9M485 304h.9M485 305h.9M485 308h.9M485.5 302.5h.9M485.5 303h.9M485.5 304.5h.9M485.5 305h.9M485.5 305.5h.9M485.5 306.5h.9M486 302.5h.9M486 303.5h.9M486 304.5h.9M486 305h.9M486 305.5h.9M486 307h.9M486.5 301.5h.9M486.5 304h.9M486.5 304.5h.9M486.5 305h.9M486.5 305.5h.9M486.5 308h.9M486.5 309.5h.9M487 303.5h.9M487 304.5h.9M487 306.5h.9M487 308h.9M487 308.5h.9M487.5 305h.9M487.5 306.5h.9M487.5 307.5h.9M487.5 308h.9M487.5 309h.9M487.5 309.5h.9M487.5 310h.9M488 303h.9M488 306.5h.9M488 308h.9M488 309h.9M488 309.5h.9M488 310.5h.9M488.5 305.5h.9M488.5 307h.9M488.5 308h.9M488.5 309h.9M488.5 312h.9M489 307h.9M489 307.5h.9M489 309h.9M489 309.5h.9M489 310.5h.9M489 311h.9M489 313h.9M489.5 306.5h.9M489.5 308h.9M489.5 308.5h.9M489.5 309h.9M489.5 309.5h.9M489.5 311h.9M490 307.5h.9M490 308.5h.9M490 309h.9M490 310h.9M490 310.5h.9M490 311h.9M490 312.5h.9M490.5 307.5h.9M490.5 309.5h.9M490.5 310.5h.9M490.5 311h.9M490.5 311.5h.9M491 308h.9M491 309h.9M491 310h.9M491 311.5h.9M491 314h.9M491.5 309h.9M491.5 309.5h.9M491.5 310.5h.9M491.5 311h.9M491.5 312.5h.9M491.5 315h.9M491.5 316h.9M492 310.5h.9M492 311.5h.9M492 312h.9M492 312.5h.9M492 313.5h.9M492 319h.9M492.5 310h.9M492.5 311h.9M492.5 313h.9M492.5 314h.9M492.5 316h.9M492.5 322h.9M493 311h.9M493 312h.9M493 312.5h.9M493 314h.9M493 315h.9M493.5 310.5h.9M493.5 311.5h.9M493.5 313h.9M493.5 314h.9M493.5 315h.9M493.5 315.5h.9M493.5 318h.9M494 313.5h.9M494 314h.9M494 315h.9M494 316.5h.9M494 317.5h.9M494 318h.9M494 321h.9M494.5 311h.9M494.5 313h.9M494.5 313.5h.9M494.5 316h.9M494.5 317.5h.9M494.5 321h.9M494.5 324h.9M495 312h.9M495 313h.9M495 316h.9M495 316.5h.9M495 318h.9M495 323h.9M495.5 312h.9M495.5 314h.9M495.5 315h.9M495.5 316h.9M495.5 318h.9M495.5 321h.9M495.5 322h.9M496 315.5h.9M496 316h.9M496 316.5h.9M496 318h.9M496 319h.9M496 320h.9M496 324h.9M496.5 316h.9M496.5 316.5h.9M496.5 317.5h.9M496.5 319h.9M496.5 321h.9M496.5 322h.9M497 315h.9M497 317.5h.9M497 318h.9M497 319h.9M497 321h.9M497 324h.9M497.5 318h.9M497.5 319h.9M497.5 320h.9M497.5 321h.9M497.5 322h.9M497.5 324h.9M498 313.5h.9M498 316.5h.9M498 319h.9M498 321h.9M498.5 312.5h.9M498.5 316.5h.9M498.5 318h.9M498.5 322h.9M498.5 323h.9M498.5 324h.9M499 313.5h.9M499 319h.9M499 321h.9M499 324h.9M499 325.5h.9M499.5 316.5h.9M499.5 320h.9M499.5 321h.9M499.5 322h.9M499.5 323h.9M499.5 324h.9M499.5 325.5h.9M500 318h.9M500 319h.9M500 320h.9M500 321h.9M500 323h.9M500 331h.9M500.5 319h.9M500.5 321h.9M500.5 322h.9M500.5 323h.9M500.5 324h.9M500.5 325.5h.9M501 318h.9M501 320h.9M501 321h.9M501 324h.9M501 325.5h.9M501 327h.9M501.5 318h.9M501.5 320h.9M501.5 323h.9M501.5 325.5h.9M501.5 329h.9M502 321h.9M502 323h.9M502 325.5h.9M502 327h.9M502 331h.9M502.5 320h.9M502.5 321h.9M502.5 322h.9M502.5 323h.9M502.5 324h.9M502.5 325.5h.9M502.5 331h.9M503 322h.9M503 324h.9M503 325.5h.9M503 327h.9M503 331h.9M503 334h.9M503.5 320h.9M503.5 325.5h.9M503.5 327h.9M503.5 334h.9M504 321h.9M504 324h.9M504 325.5h.9M504 329h.9M504 331h.9M504.5 325.5h.9M504.5 327h.9M504.5 329h.9M504.5 334h.9M505 323h.9M505 325.5h.9M505 327h.9M505 329h.9M505.5 322h.9M505.5 327h.9M505.5 329h.9M505.5 331h.9M505.5 334h.9M506 320h.9M506 323h.9M506 324h.9M506 325.5h.9M506 329h.9M506 337.5h.9M506 342h.9M506.5 321h.9M506.5 322h.9M506.5 324h.9M506.5 327h.9M506.5 331h.9M507 322h.9M507 325.5h.9M507 327h.9M507 329h.9M507 331h.9M507 334h.9M507 337.5h.9M507.5 324h.9M507.5 325.5h.9M507.5 329h.9M507.5 331h.9M507.5 342h.9M508 323h.9M508 324h.9M508 325.5h.9M508 329h.9M508 331h.9M508 334h.9M508.5 322h.9M508.5 327h.9M508.5 329h.9M508.5 337.5h.9M509 325.5h.9M509 327h.9M509 329h.9M509 337.5h.9M509 342h.9M509.5 325.5h.9M509.5 327h.9M509.5 329h.9M509.5 331h.9M509.5 334h.9M510 323h.9M510 325.5h.9M510 331h.9M510 337.5h.9M510 342h.9M510.5 324h.9M510.5 325.5h.9M510.5 327h.9M510.5 331h.9M510.5 334h.9M510.5 337.5h.9M511 327h.9M511 329h.9M511 331h.9M511 334h.9M511.5 323h.9M511.5 325.5h.9M511.5 329h.9M511.5 337.5h.9M512 322h.9M512 325.5h.9M512 327h.9M512 329h.9M512 337.5h.9M512 342h.9M512.5 325.5h.9M512.5 329h.9M512.5 331h.9M512.5 334h.9M512.5 342h.9M513 325.5h.9M513 327h.9M513 329h.9M513 342h.9M513.5 325.5h.9M513.5 331h.9M513.5 334h.9M513.5 342h.9M514 325.5h.9M514 327h.9M514 331h.9M514 334h.9M514 337.5h.9M514.5 329h.9M514.5 331h.9M514.5 334h.9M514.5 337.5h.9M515 329h.9M515 334h.9M515 337.5h.9M515.5 327h.9M515.5 329h.9M515.5 331h.9M515.5 337.5h.9M516 329h.9M516 331h.9M516 334h.9M516 337.5h.9M516.5 323h.9M516.5 329h.9M516.5 334h.9M516.5 337.5h.9M516.5 342h.9M517 329h.9M517 331h.9M517 334h.9M517 342h.9M517.5 329h.9M517.5 331h.9M517.5 337.5h.9M517.5 342h.9M518 327h.9M518 331h.9M518 334h.9M518 337.5h.9M518 342h.9M518.5 325.5h.9M518.5 331h.9M518.5 334h.9M518.5 337.5h.9M519 322h.9M519 329h.9M519 334h.9M519 337.5h.9M519.5 329h.9M519.5 334h.9M519.5 337.5h.9M519.5 342h.9M520 331h.9M520 334h.9M520 337.5h.9M520 342h.9M520.5 323h.9M520.5 327h.9M520.5 331h.9M520.5 337.5h.9M521 324h.9M521 331h.9M521 334h.9M521 342h.9M521.5 327h.9M521.5 331h.9M521.5 334h.9M521.5 337.5h.9M521.5 342h.9M522 334h.9M522 342h.9M522.5 322h.9M522.5 327h.9M522.5 329h.9M522.5 334h.9M522.5 337.5h.9M522.5 342h.9M523 327h.9M523 329h.9M523 342h.9M523.5 327h.9M523.5 331h.9M523.5 334h.9M524 329h.9M524 331h.9M524 334h.9M524 337.5h.9M524 342h.9M524.5 329h.9M524.5 331h.9M524.5 334h.9M524.5 342h.9M525 327h.9M525 329h.9M525 331h.9M525 334h.9M525 337.5h.9M525 342h.9M525.5 329h.9M525.5 331h.9M525.5 337.5h.9M525.5 342h.9M526 327h.9M526 329h.9M526 331h.9M526 334h.9M526 337.5h.9M526 342h.9M526.5 327h.9M526.5 331h.9M526.5 334h.9M526.5 337.5h.9M526.5 342h.9M527 325.5h.9M527 329h.9M527 334h.9M527 337.5h.9M527.5 334h.9M527.5 337.5h.9M527.5 342h.9M528 327h.9M528 329h.9M528 334h.9M528 337.5h.9M528 342h.9M528.5 327h.9M528.5 329h.9M528.5 331h.9M528.5 337.5h.9M529 329h.9M529 334h.9M529 337.5h.9M529 342h.9M529.5 329h.9M529.5 331h.9M529.5 334h.9M529.5 342h.9M530 327h.9M530 329h.9M530 331h.9M530 334h.9M530 337.5h.9M530.5 337.5h.9M530.5 342h.9M531 327h.9M531 329h.9M531 334h.9M531 342h.9M531.5 327h.9M531.5 337.5h.9M531.5 342h.9M532 327h.9M532 334h.9M532 337.5h.9M532 342h.9M532.5 331h.9M532.5 334h.9M532.5 337.5h.9M532.5 342h.9M533 331h.9M533 334h.9M533 337.5h.9M533 342h.9M533.5 334h.9M533.5 337.5h.9M533.5 342h.9M534 327h.9M534 329h.9M534 331h.9M534 334h.9M534.5 331h.9M534.5 334h.9M534.5 337.5h.9M534.5 342h.9M535 329h.9M535 331h.9M535 334h.9M535 337.5h.9M535 342h.9M535.5 331h.9M535.5 334h.9M535.5 337.5h.9M535.5 342h.9M536 334h.9M536 337.5h.9M536.5 327h.9M536.5 331h.9M536.5 334h.9M536.5 342h.9M537 331h.9M537 334h.9M537 337.5h.9M537 342h.9M537.5 327h.9M537.5 329h.9M537.5 331h.9M537.5 334h.9M537.5 337.5h.9M538 331h.9M538 337.5h.9M538 342h.9M538.5 327h.9M538.5 329h.9M538.5 334h.9M538.5 337.5h.9M538.5 342h.9M539 327h.9M539 331h.9M539 337.5h.9M539 342h.9M539.5 334h.9M539.5 337.5h.9M539.5 342h.9M540 327h.9M540 329h.9M540 334h.9M540 337.5h.9M540 342h.9M540.5 337.5h.9M540.5 342h.9M541 325.5h.9M541 334h.9M541 337.5h.9M541 342h.9M541.5 327h.9M541.5 334h.9M541.5 337.5h.9M542 334h.9M542 337.5h.9M542 342h.9M542.5 327h.9M542.5 331h.9M542.5 337.5h.9M542.5 342h.9M543 327h.9M543 334h.9M543 337.5h.9M543 342h.9M543.5 337.5h.9M543.5 342h.9M544 331h.9M544 334h.9M544 337.5h.9M544 342h.9M544.5 327h.9M544.5 331h.9M544.5 334h.9M544.5 337.5h.9M545 331h.9M545 334h.9M545 337.5h.9M545 342h.9M545.5 327h.9M545.5 331h.9M545.5 337.5h.9M545.5 342h.9M546 327h.9M546 329h.9M546 331h.9M546 334h.9M546 337.5h.9M546.5 334h.9M546.5 337.5h.9M546.5 342h.9M547 331h.9M547 334h.9M547 337.5h.9M547 342h.9M547.5 331h.9M547.5 334h.9M547.5 337.5h.9M548 329h.9M548 334h.9M548 337.5h.9M548 342h.9M548.5 327h.9M548.5 331h.9M548.5 334h.9M548.5 337.5h.9M548.5 342h.9M549 331h.9M549 334h.9M549 337.5h.9M549 342h.9M549.5 334h.9M549.5 337.5h.9M549.5 342h.9M550 331h.9M550 334h.9M550 337.5h.9M550 342h.9M550.5 327h.9M550.5 329h.9M550.5 334h.9M551 331h.9M551 334h.9M551 337.5h.9M551.5 329h.9M551.5 331h.9M551.5 334h.9M551.5 337.5h.9M551.5 342h.9M552 327h.9M552 331h.9M552 334h.9M552 337.5h.9M552 342h.9M552.5 331h.9M552.5 334h.9M552.5 337.5h.9M552.5 342h.9M553 329h.9M553 334h.9M553 337.5h.9M553 342h.9M553.5 337.5h.9M553.5 342h.9M554 334h.9M554 337.5h.9M554 342h.9M554.5 329h.9M554.5 334h.9M554.5 337.5h.9M555 334h.9M555 337.5h.9" stroke="#3b6ea5" stroke-width="0.9" fill="none"/>
<path d="M428.9 242.5 429.3 242.4 429.7 242.4 430.1 242.3 430.6 242.3 431 242.4 431.4 242.5 431.8 242.7 432.2 243 432.7 243.2 433.1 243.5 433.5 243.9 433.9 244.2 434.3 244.6 434.8 245 435.2 245.5 435.6 245.9 436 246.3 436.5 246.7 436.9 247.1 437.3 247.5 437.7 247.8 438.1 248.2 438.6 248.7 439 249.1 439.4 249.5 439.8 250 440.3 250.4 440.7 250.9 441.1 251.4 441.5 251.9 441.9 252.3 442.4 252.8 442.8 253.3 443.2 253.7 443.6 254.2 444 254.7 444.5 255.1 444.9 255.6 445.3 256 445.7 256.5 446.2 257 446.6 257.4 447 257.9 447.4 258.4 447.8 258.9 448.3 259.3 448.7 259.8 449.1 260.3 449.5 260.8 450 261.3 450.4 261.8 450.8 262.3 451.2 262.8 451.6 263.2 452.1 263.7 452.5 264.2 452.9 264.7 453.3 265.2 453.8 265.7 454.2 266.2 454.6 266.7 455 267.2 455.4 267.7 455.9 268.2 456.3 268.7 456.7 269.2 457.1 269.8 457.5 270.3 458 270.8 458.4 271.3 458.8 271.8 459.2 272.3 459.7 272.8 460.1 273.3 460.5 273.8 460.9 274.4 461.3 274.9 461.8 275.4 462.2 275.9 462.6 276.4 463 276.9 463.5 277.4 463.9 278 464.3 278.5 464.7 279 465.1 279.5 465.6 280 466 280.5 466.4 281.1 466.8 281.6 467.2 282.1 467.7 282.6 468.1 283.1 468.5 283.7 468.9 284.2 469.4 284.7 469.8 285.2 470.2 285.7 470.6 286.3 471 286.8 471.5 287.3 471.9 287.8 472.3 288.4 472.7 288.9 473.2 289.4 473.6 290" stroke="#3b6ea5" stroke-width="1.8" fill="none" stroke-linejoin="round"/>
<path d="M427.5 242h.9M428 242h.9M428 242.5h.9M428.5 242h.9M428.5 242.5h.9M428.5 243h.9M428.5 243.5h.9M428.5 244h.9M429 244.5h.9M429 245h.9M429 245.5h.9M429 246h.9M429 246.5h.9M429.5 246.5h.9M429.5 247h.9M429.5 247.5h.9M429.5 248h.9M429.5 248.5h.9M430 248.5h.9M430 249h.9M430 249.5h.9M430 250h.9M430.5 250.5h.9M430.5 251h.9M430.5 251.5h.9M430.5 252h.9M430.5 252.5h.9M431 253h.9M431 253.5h.9M431 254h.9M431 255h.9M431.5 255h.9M431.5 255.5h.9M431.5 256h.9M431.5 256.5h.9M432 257h.9M432 258h.9M432 258.5h.9M432 259h.9M432.5 259.5h.9M432.5 260h.9M432.5 260.5h.9M432.5 261h.9M432.5 261.5h.9M432.5 262h.9M433 262h.9M433 262.5h.9M433 263h.9M433 263.5h.9M433 264h.9M433.5 264h.9M433.5 264.5h.9M433.5 265.5h.9M433.5 266.5h.9M434 266.5h.9M434 267h.9M434 267.5h.9M434 268h.9M434 268.5h.9M434.5 269h.9M434.5 270h.9M434.5 270.5h.9M434.5 271h.9M434.5 271.5h.9M435 271.5h.9M435 272h.9M435 272.5h.9M435 273h.9M435 274h.9M435.5 274.5h.9M435.5 275h.9M435.5 275.5h.9M436 276.5h.9M436 277.5h.9M436 278h.9M436 278.5h.9M436 279h.9M436.5 279h.9M436.5 279.5h.9M436.5 280h.9M436.5 281h.9M436.5 281.5h.9M437 281h.9M437 282h.9M437 282.5h.9M437 283h.9M437.5 283.5h.9M437.5 284h.9M437.5 284.5h.9M437.5 285h.9M437.5 286.5h.9M438 285.5h.9M438 286.5h.9M438 287h.9M438 287.5h.9M438 288.5h.9M438.5 288h.9M438.5 289.5h.9M438.5 290h.9M438.5 290.5h.9M439 290.5h.9M439 291h.9M439 291.5h.9M439 292.5h.9M439 293h.9M439.5 293.5h.9M439.5 294.5h.9M439.5 295.5h.9M440 295h.9M440 296h.9M440 296.5h.9M440 297h.9M440 297.5h.9M440.5 298h.9M440.5 298.5h.9M440.5 299h.9M440.5 299.5h.9M440.5 301h.9M441 300h.9M441 300.5h.9M441 301.5h.9M441 302h.9M441 303h.9M441.5 301.5h.9M441.5 302h.9M441.5 302.5h.9M441.5 303h.9M441.5 305.5h.9M442 304h.9M442 305h.9M442 306h.9M442 306.5h.9M442.5 306.5h.9M442.5 307h.9M442.5 307.5h.9M442.5 308.5h.9M442.5 311h.9M443 310h.9M443 310.5h.9M443 311h.9M443 312.5h.9M443 313h.9M443.5 311h.9M443.5 312h.9M443.5 312.5h.9M443.5 313h.9M443.5 313.5h.9M443.5 315.5h.9M444 313h.9M444 313.5h.9M444 314.5h.9M444 315h.9M444 316h.9M444 316.5h.9M444 318.5h.9M444.5 316.5h.9M444.5 318.5h.9M444.5 319h.9M444.5 319.5h.9M445 317h.9M445 317.5h.9M445 318.5h.9M445 320h.9M445 322.5h.9M445 324h.9M445.5 319h.9M445.5 320h.9M445.5 321.5h.9M445.5 322h.9M445.5 324.5h.9M445.5 325h.9M446 319.5h.9M446 323h.9M446 324h.9M446 324.5h.9M446 326h.9M446 327.5h.9M446.5 323h.9M446.5 324h.9M446.5 326h.9M446.5 326.5h.9M446.5 327.5h.9M446.5 329.5h.9M447 326h.9M447 326.5h.9M447 327.5h.9M447 328.5h.9M447 331.5h.9M447 337.5h.9M447.5 326h.9M447.5 328.5h.9M447.5 329.5h.9M447.5 330.5h.9M447.5 332.5h.9M447.5 335.5h.9M448 322.5h.9M448 330.5h.9M448 332.5h.9M448 334h.9M448 335.5h.9M448 337.5h.9M448.5 328.5h.9M448.5 334h.9M448.5 335.5h.9M448.5 337.5h.9M448.5 342.5h.9M448.5 345.5h.9M449 332.5h.9M449 334h.9M449 335.5h.9M449 337.5h.9M449 339.5h.9M449 342.5h.9M449.5 332.5h.9M449.5 337.5h.9M449.5 339.5h.9M450 331.5h.9M450 332.5h.9M450 334h.9M450 337.5h.9M450 342.5h.9M450.5 332.5h.9M450.5 335.5h.9M450.5 339.5h.9M450.5 342.5h.9M451 334h.9M451 339.5h.9M451 342.5h.9M451 345.5h.9M451.5 337.5h.9M451.5 342.5h.9M451.5 345.5h.9M452 337.5h.9M452 339.5h.9M452 342.5h.9M452.5 334h.9M452.5 339.5h.9M452.5 342.5h.9M452.5 345.5h.9M453 342.5h.9M453.5 345.5h.9M454 345.5h.9M454.5 342.5h.9M455 339.5h.9M455 345.5h.9M455.5 342.5h.9M455.5 345.5h.9M457.5 345.5h.9M458.5 345.5h.9M460.5 345.5h.9M462.5 345.5h.9M463.5 345.5h.9M464 342.5h.9M465 345.5h.9M468.5 345.5h.9M469 342.5h.9M470.5 339.5h.9M473 345.5h.9M476 339.5h.9M476 345.5h.9M478.5 342.5h.9M479.5 342.5h.9M480 345.5h.9M481.5 345.5h.9M482 345.5h.9M487 345.5h.9M489 345.5h.9M490.5 345.5h.9M499 345.5h.9M501 345.5h.9M502 345.5h.9M503.5 345.5h.9M504.5 345.5h.9M506 342.5h.9M506.5 345.5h.9" stroke="#5a9a32" stroke-width="0.9" fill="none"/>
<path d="M427.7 242.2 428.1 242.1 428.6 243.4 429 245.3 429.4 247 429.8 248.7 430.3 250.4 430.7 252.3 431.1 254.2 431.5 256.1 432 258.1 432.4 260.1 432.8 262.1 433.3 264.2 433.7 266.3 434.1 268.4 434.5 270.5 435 272.6 435.4 274.7 435.8 276.7 436.2 278.8 436.7 280.8 437.1 282.8 437.5 284.8 437.9 286.8 438.4 288.8" stroke="#5a9a32" stroke-width="1.3" fill="none" stroke-linejoin="round"/>
<rect x="477.4" y="232.4" width="47.3" height="29.6" fill="#fff" stroke="#555" stroke-width="0.9"/>
<text x="480.7" y="241.8" font-size="10" fill="#222" textLength="36.6" lengthAdjust="spacingAndGlyphs" >Increase</text>
<text x="487.6" y="253.6" font-size="13" fill="#222" >&#964;</text>
<text x="493.7" y="256.1" font-size="8.2" fill="#222" textLength="23.6" lengthAdjust="spacingAndGlyphs" >654nm</text>
<path d="M431.7 292 L470.4 249.7 M462.9 252.3 L470.4 249.7 L468.5 257.6" stroke="#111" stroke-width="1.1" fill="none" stroke-linecap="round" stroke-linejoin="round"/>
<rect x="549.9" y="241.9" width="131.6" height="69.9" fill="#fff" stroke="#666" stroke-width="0.9"/>
<text x="553.2" y="256.5" font-size="12" fill="#4a8a28" stroke="#4a8a28" stroke-width="0.45" textLength="126.6" lengthAdjust="spacingAndGlyphs" >Conc-5 (STD 1_60min)</text>
<text x="553.2" y="272.5" font-size="12" fill="#ff33ff" stroke="#ff33ff" stroke-width="0.45" textLength="46.5" lengthAdjust="spacingAndGlyphs" >Conc-10</text>
<text x="553.2" y="289.2" font-size="12" fill="#3d6fa8" stroke="#3d6fa8" stroke-width="0.45" textLength="46.5" lengthAdjust="spacingAndGlyphs" >Conc-15</text>
<text x="553.2" y="305.2" font-size="12" fill="#7a0a7a" stroke="#7a0a7a" stroke-width="0.45" textLength="87.8" lengthAdjust="spacingAndGlyphs" >Conc-15_90min</text>
</svg></body></html>
